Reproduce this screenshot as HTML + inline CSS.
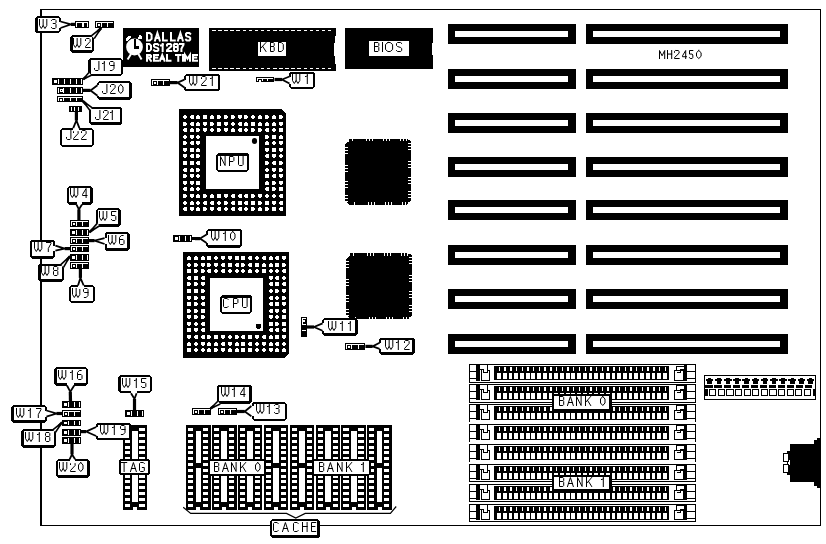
<!DOCTYPE html><html><head><meta charset="utf-8"><style>html,body{margin:0;padding:0;background:#fff;overflow:hidden;font-family:"Liberation Sans",sans-serif}svg{display:block;will-change:transform}</style></head><body><svg width="826" height="544" viewBox="0 0 826 544" shape-rendering="crispEdges">
<rect x="0.00" y="0.00" width="826.00" height="544.00" fill="#fff"/>
<rect x="40.00" y="9.00" width="781.00" height="1.00" fill="#000"/>
<rect x="40.00" y="9.00" width="2.00" height="517.00" fill="#000"/>
<rect x="820.00" y="9.00" width="1.00" height="517.00" fill="#000"/>
<rect x="40.00" y="525.00" width="781.00" height="1.00" fill="#000"/>
<rect x="448.00" y="24.00" width="128.00" height="20.00" fill="#000"/>
<rect x="455.00" y="31.00" width="113.00" height="6.00" fill="#fff"/>
<rect x="586.00" y="24.00" width="202.00" height="20.00" fill="#000"/>
<rect x="593.00" y="31.00" width="187.00" height="6.00" fill="#fff"/>
<rect x="448.00" y="69.00" width="128.00" height="20.00" fill="#000"/>
<rect x="455.00" y="76.00" width="113.00" height="6.00" fill="#fff"/>
<rect x="586.00" y="69.00" width="202.00" height="20.00" fill="#000"/>
<rect x="593.00" y="76.00" width="187.00" height="6.00" fill="#fff"/>
<rect x="448.00" y="113.00" width="128.00" height="20.00" fill="#000"/>
<rect x="455.00" y="120.00" width="113.00" height="6.00" fill="#fff"/>
<rect x="586.00" y="113.00" width="202.00" height="20.00" fill="#000"/>
<rect x="593.00" y="120.00" width="187.00" height="6.00" fill="#fff"/>
<rect x="448.00" y="157.00" width="128.00" height="20.00" fill="#000"/>
<rect x="455.00" y="164.00" width="113.00" height="6.00" fill="#fff"/>
<rect x="586.00" y="157.00" width="202.00" height="20.00" fill="#000"/>
<rect x="593.00" y="164.00" width="187.00" height="6.00" fill="#fff"/>
<rect x="448.00" y="200.00" width="128.00" height="20.00" fill="#000"/>
<rect x="455.00" y="207.00" width="113.00" height="6.00" fill="#fff"/>
<rect x="586.00" y="200.00" width="202.00" height="20.00" fill="#000"/>
<rect x="593.00" y="207.00" width="187.00" height="6.00" fill="#fff"/>
<rect x="448.00" y="245.00" width="128.00" height="20.00" fill="#000"/>
<rect x="455.00" y="252.00" width="113.00" height="6.00" fill="#fff"/>
<rect x="586.00" y="245.00" width="202.00" height="20.00" fill="#000"/>
<rect x="593.00" y="252.00" width="187.00" height="6.00" fill="#fff"/>
<rect x="448.00" y="289.00" width="128.00" height="20.00" fill="#000"/>
<rect x="455.00" y="296.00" width="113.00" height="6.00" fill="#fff"/>
<rect x="586.00" y="289.00" width="202.00" height="20.00" fill="#000"/>
<rect x="593.00" y="296.00" width="187.00" height="6.00" fill="#fff"/>
<rect x="448.00" y="334.00" width="128.00" height="20.00" fill="#000"/>
<rect x="455.00" y="341.00" width="113.00" height="6.00" fill="#fff"/>
<rect x="586.00" y="334.00" width="202.00" height="20.00" fill="#000"/>
<rect x="593.00" y="341.00" width="187.00" height="6.00" fill="#fff"/>
<g fill="none" stroke="#000" stroke-width="1.0" stroke-linejoin="miter" stroke-linecap="square" shape-rendering="auto"><polyline points="659.50,58.50 659.50,50.50 662.10,55.83 664.70,50.50 664.70,58.50"/><polyline points="667.50,50.50 667.50,58.50"/><polyline points="671.70,50.50 671.70,58.50"/><polyline points="667.50,54.06 671.70,54.06"/><polyline points="674.50,52.28 674.50,51.39 675.42,50.50 678.18,50.50 679.10,51.39 679.10,53.17 674.50,57.61 674.50,58.50 679.10,58.50"/><polyline points="685.70,58.50 685.70,50.50 682.50,55.83 682.50,56.72 686.50,56.72"/><polyline points="692.80,50.50 689.50,50.50 689.50,54.06 692.14,54.06 692.80,54.94 692.80,57.61 692.14,58.50 690.16,58.50 689.50,57.61"/><polyline points="698.80,50.50 701.10,52.72 701.10,56.28 698.80,58.50 696.50,56.28 696.50,52.72 698.80,50.50"/></g>
<rect x="123.00" y="28.00" width="76.00" height="38.50" fill="#000"/>
<g fill="none" stroke="#fff" stroke-width="2" stroke-linejoin="miter" stroke-linecap="square" shape-rendering="auto"><polyline points="147.00,33.00 149.76,33.00 151.60,34.67 151.60,38.83 149.76,40.50 147.00,40.50 147.00,33.00"/><polyline points="155.00,40.50 157.40,33.00 159.80,40.50"/><polyline points="155.80,38.00 159.00,38.00"/><polyline points="163.00,33.00 163.00,40.50 166.80,40.50"/><polyline points="171.00,33.00 171.00,40.50 174.80,40.50"/><polyline points="178.00,40.50 180.40,33.00 182.80,40.50"/><polyline points="178.80,38.00 182.00,38.00"/><polyline points="190.20,33.83 189.36,33.00 186.84,33.00 186.00,33.83 186.00,35.50 186.84,36.33 189.36,37.17 190.20,38.00 190.20,39.67 189.36,40.50 186.84,40.50 186.00,39.67"/></g>
<g fill="none" stroke="#fff" stroke-width="2" stroke-linejoin="miter" stroke-linecap="square" shape-rendering="auto"><polyline points="147.00,44.00 149.40,44.00 151.00,45.56 151.00,49.44 149.40,51.00 147.00,51.00 147.00,44.00"/><polyline points="158.30,44.78 157.44,44.00 154.86,44.00 154.00,44.78 154.00,46.33 154.86,47.11 157.44,47.89 158.30,48.67 158.30,50.22 157.44,51.00 154.86,51.00 154.00,50.22"/><polyline points="161.00,45.56 161.83,45.56 162.67,44.78"/><polyline points="162.67,44.00 162.67,51.00"/><polyline points="167.00,45.56 167.00,44.78 167.86,44.00 170.44,44.00 171.30,44.78 171.30,46.33 167.00,50.22 167.00,51.00 171.30,51.00"/><polyline points="174.76,44.00 177.04,44.00 177.80,44.78 177.80,46.33 177.04,47.11 174.76,47.11 174.00,46.33 174.00,44.78 174.76,44.00"/><polyline points="174.76,47.11 174.00,47.89 174.00,50.22 174.76,51.00 177.04,51.00 177.80,50.22 177.80,47.89 177.04,47.11"/><polyline points="180.00,44.00 183.50,44.00 183.50,44.78 181.40,48.67 181.40,51.00"/></g>
<g fill="none" stroke="#fff" stroke-width="2" stroke-linejoin="miter" stroke-linecap="square" shape-rendering="auto"><polyline points="147.00,60.80 147.00,55.00 150.20,55.00 151.00,55.64 151.00,56.93 150.20,57.58 147.00,57.58"/><polyline points="148.60,57.58 151.00,60.80"/><polyline points="158.00,55.00 154.00,55.00 154.00,60.80 158.00,60.80"/><polyline points="154.00,57.58 157.20,57.58"/><polyline points="160.00,60.80 162.25,55.00 164.50,60.80"/><polyline points="160.75,58.87 163.75,58.87"/><polyline points="167.00,55.00 167.00,60.80 170.50,60.80"/><polyline points="176.00,55.00 180.50,55.00"/><polyline points="178.25,55.00 178.25,60.80"/><polyline points="183.00,55.00 183.00,60.80"/><polyline points="185.00,60.80 185.00,55.00 187.50,58.87 190.00,55.00 190.00,60.80"/><polyline points="197.00,55.00 193.00,55.00 193.00,60.80 197.00,60.80"/><polyline points="193.00,57.58 196.20,57.58"/></g>
<circle cx="134.5" cy="47" r="8.4" fill="#fff" shape-rendering="auto"/>
<polygon points="126.00,38.50 129.00,36.00 131.00,36.30 131.00,38.00 127.50,40.70 126.00,40.50" fill="#fff"/>
<polygon points="138.00,37.50 139.50,35.00 141.00,35.20 142.20,38.20 141.50,39.20 138.30,38.60" fill="#fff"/>
<rect x="133.50" y="38.50" width="2.00" height="10.00" fill="#000"/>
<rect x="133.50" y="46.00" width="5.50" height="2.50" fill="#000"/>
<g shape-rendering="auto">
<line x1="131.00" y1="54.00" x2="127.60" y2="59.60" stroke="#fff" stroke-width="2"/>
<line x1="138.40" y1="54.00" x2="141.60" y2="59.60" stroke="#fff" stroke-width="2"/>
</g>
<rect x="209.00" y="28.00" width="127.00" height="42.50" fill="#000"/>
<rect x="212.00" y="30.00" width="3.50" height="1.00" fill="#fff"/>
<rect x="218.10" y="30.00" width="3.50" height="1.00" fill="#fff"/>
<rect x="224.20" y="30.00" width="3.50" height="1.00" fill="#fff"/>
<rect x="230.30" y="30.00" width="3.50" height="1.00" fill="#fff"/>
<rect x="236.40" y="30.00" width="3.50" height="1.00" fill="#fff"/>
<rect x="242.50" y="30.00" width="3.50" height="1.00" fill="#fff"/>
<rect x="248.60" y="30.00" width="3.50" height="1.00" fill="#fff"/>
<rect x="254.70" y="30.00" width="3.50" height="1.00" fill="#fff"/>
<rect x="260.80" y="30.00" width="3.50" height="1.00" fill="#fff"/>
<rect x="266.90" y="30.00" width="3.50" height="1.00" fill="#fff"/>
<rect x="273.00" y="30.00" width="3.50" height="1.00" fill="#fff"/>
<rect x="279.10" y="30.00" width="3.50" height="1.00" fill="#fff"/>
<rect x="285.20" y="30.00" width="3.50" height="1.00" fill="#fff"/>
<rect x="291.30" y="30.00" width="3.50" height="1.00" fill="#fff"/>
<rect x="297.40" y="30.00" width="3.50" height="1.00" fill="#fff"/>
<rect x="303.50" y="30.00" width="3.50" height="1.00" fill="#fff"/>
<rect x="309.60" y="30.00" width="3.50" height="1.00" fill="#fff"/>
<rect x="315.70" y="30.00" width="3.50" height="1.00" fill="#fff"/>
<rect x="321.80" y="30.00" width="3.50" height="1.00" fill="#fff"/>
<rect x="327.90" y="30.00" width="3.50" height="1.00" fill="#fff"/>
<rect x="212.00" y="68.00" width="3.50" height="1.00" fill="#fff"/>
<rect x="218.10" y="68.00" width="3.50" height="1.00" fill="#fff"/>
<rect x="224.20" y="68.00" width="3.50" height="1.00" fill="#fff"/>
<rect x="230.30" y="68.00" width="3.50" height="1.00" fill="#fff"/>
<rect x="236.40" y="68.00" width="3.50" height="1.00" fill="#fff"/>
<rect x="242.50" y="68.00" width="3.50" height="1.00" fill="#fff"/>
<rect x="248.60" y="68.00" width="3.50" height="1.00" fill="#fff"/>
<rect x="254.70" y="68.00" width="3.50" height="1.00" fill="#fff"/>
<rect x="260.80" y="68.00" width="3.50" height="1.00" fill="#fff"/>
<rect x="266.90" y="68.00" width="3.50" height="1.00" fill="#fff"/>
<rect x="273.00" y="68.00" width="3.50" height="1.00" fill="#fff"/>
<rect x="279.10" y="68.00" width="3.50" height="1.00" fill="#fff"/>
<rect x="285.20" y="68.00" width="3.50" height="1.00" fill="#fff"/>
<rect x="291.30" y="68.00" width="3.50" height="1.00" fill="#fff"/>
<rect x="297.40" y="68.00" width="3.50" height="1.00" fill="#fff"/>
<rect x="303.50" y="68.00" width="3.50" height="1.00" fill="#fff"/>
<rect x="309.60" y="68.00" width="3.50" height="1.00" fill="#fff"/>
<rect x="315.70" y="68.00" width="3.50" height="1.00" fill="#fff"/>
<rect x="321.80" y="68.00" width="3.50" height="1.00" fill="#fff"/>
<rect x="327.90" y="68.00" width="3.50" height="1.00" fill="#fff"/>
<rect x="335.00" y="36.00" width="1.00" height="28.20" fill="#fff"/>
<rect x="334.00" y="43.20" width="2.00" height="12.80" fill="#fff"/>
<rect x="258.00" y="42.00" width="28.00" height="14.00" fill="#fff"/>
<g fill="none" stroke="#000" stroke-width="1.0" stroke-linejoin="miter" stroke-linecap="square" shape-rendering="auto"><polyline points="260.50,42.50 260.50,51.50"/><polyline points="266.00,42.50 260.50,48.50"/><polyline points="262.70,46.50 266.00,51.50"/><polyline points="270.50,42.50 273.46,42.50 274.20,43.50 274.20,45.50 273.46,46.50 270.50,46.50"/><polyline points="273.46,46.50 274.20,47.50 274.20,50.50 273.46,51.50 270.50,51.50 270.50,42.50"/><polyline points="278.50,42.50 281.38,42.50 283.30,44.50 283.30,49.50 281.38,51.50 278.50,51.50 278.50,42.50"/></g>
<rect x="345.00" y="28.00" width="88.00" height="40.60" fill="#000"/>
<rect x="432.00" y="43.20" width="1.00" height="11.90" fill="#fff"/>
<rect x="369" y="41" width="40" height="15" rx="1.2" fill="#fff"/>
<g fill="none" stroke="#000" stroke-width="1.0" stroke-linejoin="miter" stroke-linecap="square" shape-rendering="auto"><polyline points="374.50,42.50 377.94,42.50 378.80,43.50 378.80,45.50 377.94,46.50 374.50,46.50"/><polyline points="377.94,46.50 378.80,47.50 378.80,50.50 377.94,51.50 374.50,51.50 374.50,42.50"/><polyline points="382.50,42.50 382.50,51.50"/><polyline points="387.87,42.50 390.23,42.50 392.60,44.50 392.60,49.50 390.23,51.50 387.87,51.50 385.50,49.50 385.50,44.50 387.87,42.50"/><polyline points="401.70,43.50 400.66,42.50 397.54,42.50 396.50,43.50 396.50,45.50 397.54,46.50 400.66,47.50 401.70,48.50 401.70,50.50 400.66,51.50 397.54,51.50 396.50,50.50"/></g>
<polygon points="179.00,109.00 281.80,109.00 286.00,113.20 286.00,216.00 179.00,216.00" fill="#000"/>
<rect x="184.00" y="115.00" width="2.00" height="4.00" fill="#fff"/>
<rect x="183.00" y="116.00" width="4.00" height="2.00" fill="#fff"/>
<rect x="191.00" y="115.00" width="3.00" height="4.00" fill="#fff"/>
<rect x="190.00" y="116.00" width="1.00" height="2.00" fill="#fff"/>
<rect x="196.00" y="116.00" width="4.00" height="3.00" fill="#fff"/>
<rect x="197.00" y="115.00" width="2.00" height="1.00" fill="#fff"/>
<rect x="203.00" y="115.00" width="4.00" height="4.00" fill="#fff"/>
<rect x="210.00" y="116.00" width="4.00" height="3.00" fill="#fff"/>
<rect x="211.00" y="115.00" width="2.00" height="1.00" fill="#fff"/>
<rect x="217.00" y="115.00" width="3.00" height="4.00" fill="#fff"/>
<rect x="220.00" y="116.00" width="1.00" height="2.00" fill="#fff"/>
<rect x="224.00" y="115.00" width="3.00" height="4.00" fill="#fff"/>
<rect x="227.00" y="116.00" width="1.00" height="2.00" fill="#fff"/>
<rect x="231.00" y="115.00" width="3.00" height="4.00" fill="#fff"/>
<rect x="234.00" y="116.00" width="1.00" height="2.00" fill="#fff"/>
<rect x="238.00" y="115.00" width="4.00" height="3.00" fill="#fff"/>
<rect x="239.00" y="118.00" width="2.00" height="1.00" fill="#fff"/>
<rect x="244.00" y="115.00" width="3.00" height="4.00" fill="#fff"/>
<rect x="247.00" y="116.00" width="1.00" height="2.00" fill="#fff"/>
<rect x="252.00" y="115.00" width="2.00" height="4.00" fill="#fff"/>
<rect x="251.00" y="116.00" width="4.00" height="2.00" fill="#fff"/>
<rect x="258.00" y="116.00" width="4.00" height="3.00" fill="#fff"/>
<rect x="259.00" y="115.00" width="2.00" height="1.00" fill="#fff"/>
<rect x="265.00" y="115.00" width="3.00" height="4.00" fill="#fff"/>
<rect x="268.00" y="116.00" width="1.00" height="2.00" fill="#fff"/>
<rect x="272.00" y="116.00" width="4.00" height="3.00" fill="#fff"/>
<rect x="273.00" y="115.00" width="2.00" height="1.00" fill="#fff"/>
<rect x="279.00" y="115.00" width="3.00" height="4.00" fill="#fff"/>
<rect x="282.00" y="116.00" width="1.00" height="2.00" fill="#fff"/>
<rect x="183.00" y="122.00" width="3.00" height="4.00" fill="#fff"/>
<rect x="186.00" y="123.00" width="1.00" height="2.00" fill="#fff"/>
<rect x="191.00" y="122.00" width="3.00" height="4.00" fill="#fff"/>
<rect x="190.00" y="123.00" width="1.00" height="2.00" fill="#fff"/>
<rect x="196.00" y="123.00" width="4.00" height="3.00" fill="#fff"/>
<rect x="197.00" y="122.00" width="2.00" height="1.00" fill="#fff"/>
<rect x="203.00" y="122.00" width="4.00" height="3.00" fill="#fff"/>
<rect x="204.00" y="125.00" width="2.00" height="1.00" fill="#fff"/>
<rect x="210.00" y="122.00" width="3.00" height="4.00" fill="#fff"/>
<rect x="213.00" y="123.00" width="1.00" height="2.00" fill="#fff"/>
<rect x="217.00" y="122.00" width="4.00" height="4.00" fill="#fff"/>
<rect x="224.00" y="122.00" width="4.00" height="3.00" fill="#fff"/>
<rect x="225.00" y="125.00" width="2.00" height="1.00" fill="#fff"/>
<rect x="232.00" y="122.00" width="2.00" height="4.00" fill="#fff"/>
<rect x="231.00" y="123.00" width="4.00" height="2.00" fill="#fff"/>
<rect x="239.00" y="122.00" width="3.00" height="4.00" fill="#fff"/>
<rect x="238.00" y="123.00" width="1.00" height="2.00" fill="#fff"/>
<rect x="244.00" y="123.00" width="4.00" height="3.00" fill="#fff"/>
<rect x="245.00" y="122.00" width="2.00" height="1.00" fill="#fff"/>
<rect x="251.00" y="122.00" width="4.00" height="4.00" fill="#fff"/>
<rect x="258.00" y="123.00" width="4.00" height="3.00" fill="#fff"/>
<rect x="259.00" y="122.00" width="2.00" height="1.00" fill="#fff"/>
<rect x="265.00" y="123.00" width="4.00" height="3.00" fill="#fff"/>
<rect x="266.00" y="122.00" width="2.00" height="1.00" fill="#fff"/>
<rect x="272.00" y="123.00" width="4.00" height="3.00" fill="#fff"/>
<rect x="273.00" y="122.00" width="2.00" height="1.00" fill="#fff"/>
<rect x="279.00" y="122.00" width="4.00" height="3.00" fill="#fff"/>
<rect x="280.00" y="125.00" width="2.00" height="1.00" fill="#fff"/>
<rect x="184.00" y="128.00" width="3.00" height="4.00" fill="#fff"/>
<rect x="183.00" y="129.00" width="1.00" height="2.00" fill="#fff"/>
<rect x="190.00" y="129.00" width="4.00" height="3.00" fill="#fff"/>
<rect x="191.00" y="128.00" width="2.00" height="1.00" fill="#fff"/>
<rect x="196.00" y="128.00" width="3.00" height="4.00" fill="#fff"/>
<rect x="199.00" y="129.00" width="1.00" height="2.00" fill="#fff"/>
<rect x="203.00" y="128.00" width="4.00" height="3.00" fill="#fff"/>
<rect x="204.00" y="131.00" width="2.00" height="1.00" fill="#fff"/>
<rect x="211.00" y="128.00" width="2.00" height="4.00" fill="#fff"/>
<rect x="210.00" y="129.00" width="4.00" height="2.00" fill="#fff"/>
<rect x="217.00" y="128.00" width="3.00" height="4.00" fill="#fff"/>
<rect x="220.00" y="129.00" width="1.00" height="2.00" fill="#fff"/>
<rect x="224.00" y="128.00" width="4.00" height="3.00" fill="#fff"/>
<rect x="225.00" y="131.00" width="2.00" height="1.00" fill="#fff"/>
<rect x="231.00" y="129.00" width="4.00" height="3.00" fill="#fff"/>
<rect x="232.00" y="128.00" width="2.00" height="1.00" fill="#fff"/>
<rect x="239.00" y="128.00" width="3.00" height="4.00" fill="#fff"/>
<rect x="238.00" y="129.00" width="1.00" height="2.00" fill="#fff"/>
<rect x="245.00" y="128.00" width="2.00" height="4.00" fill="#fff"/>
<rect x="244.00" y="129.00" width="4.00" height="2.00" fill="#fff"/>
<rect x="251.00" y="128.00" width="3.00" height="4.00" fill="#fff"/>
<rect x="254.00" y="129.00" width="1.00" height="2.00" fill="#fff"/>
<rect x="258.00" y="128.00" width="3.00" height="4.00" fill="#fff"/>
<rect x="261.00" y="129.00" width="1.00" height="2.00" fill="#fff"/>
<rect x="266.00" y="128.00" width="3.00" height="4.00" fill="#fff"/>
<rect x="265.00" y="129.00" width="1.00" height="2.00" fill="#fff"/>
<rect x="273.00" y="128.00" width="2.00" height="4.00" fill="#fff"/>
<rect x="272.00" y="129.00" width="4.00" height="2.00" fill="#fff"/>
<rect x="279.00" y="128.00" width="4.00" height="4.00" fill="#fff"/>
<rect x="184.00" y="135.00" width="2.00" height="4.00" fill="#fff"/>
<rect x="183.00" y="136.00" width="4.00" height="2.00" fill="#fff"/>
<rect x="190.00" y="135.00" width="4.00" height="3.00" fill="#fff"/>
<rect x="191.00" y="138.00" width="2.00" height="1.00" fill="#fff"/>
<rect x="197.00" y="135.00" width="2.00" height="4.00" fill="#fff"/>
<rect x="196.00" y="136.00" width="4.00" height="2.00" fill="#fff"/>
<rect x="265.00" y="135.00" width="3.00" height="4.00" fill="#fff"/>
<rect x="268.00" y="136.00" width="1.00" height="2.00" fill="#fff"/>
<rect x="272.00" y="135.00" width="4.00" height="4.00" fill="#fff"/>
<rect x="279.00" y="136.00" width="4.00" height="3.00" fill="#fff"/>
<rect x="280.00" y="135.00" width="2.00" height="1.00" fill="#fff"/>
<rect x="183.00" y="141.00" width="3.00" height="4.00" fill="#fff"/>
<rect x="186.00" y="142.00" width="1.00" height="2.00" fill="#fff"/>
<rect x="191.00" y="141.00" width="3.00" height="4.00" fill="#fff"/>
<rect x="190.00" y="142.00" width="1.00" height="2.00" fill="#fff"/>
<rect x="196.00" y="141.00" width="4.00" height="3.00" fill="#fff"/>
<rect x="197.00" y="144.00" width="2.00" height="1.00" fill="#fff"/>
<rect x="265.00" y="142.00" width="4.00" height="3.00" fill="#fff"/>
<rect x="266.00" y="141.00" width="2.00" height="1.00" fill="#fff"/>
<rect x="273.00" y="141.00" width="2.00" height="4.00" fill="#fff"/>
<rect x="272.00" y="142.00" width="4.00" height="2.00" fill="#fff"/>
<rect x="279.00" y="141.00" width="4.00" height="3.00" fill="#fff"/>
<rect x="280.00" y="144.00" width="2.00" height="1.00" fill="#fff"/>
<rect x="183.00" y="148.00" width="4.00" height="3.00" fill="#fff"/>
<rect x="184.00" y="151.00" width="2.00" height="1.00" fill="#fff"/>
<rect x="190.00" y="148.00" width="4.00" height="4.00" fill="#fff"/>
<rect x="196.00" y="149.00" width="4.00" height="3.00" fill="#fff"/>
<rect x="197.00" y="148.00" width="2.00" height="1.00" fill="#fff"/>
<rect x="265.00" y="148.00" width="4.00" height="3.00" fill="#fff"/>
<rect x="266.00" y="151.00" width="2.00" height="1.00" fill="#fff"/>
<rect x="272.00" y="148.00" width="4.00" height="4.00" fill="#fff"/>
<rect x="279.00" y="148.00" width="4.00" height="3.00" fill="#fff"/>
<rect x="280.00" y="151.00" width="2.00" height="1.00" fill="#fff"/>
<rect x="183.00" y="154.00" width="4.00" height="3.00" fill="#fff"/>
<rect x="184.00" y="157.00" width="2.00" height="1.00" fill="#fff"/>
<rect x="191.00" y="154.00" width="3.00" height="4.00" fill="#fff"/>
<rect x="190.00" y="155.00" width="1.00" height="2.00" fill="#fff"/>
<rect x="196.00" y="154.00" width="3.00" height="4.00" fill="#fff"/>
<rect x="199.00" y="155.00" width="1.00" height="2.00" fill="#fff"/>
<rect x="266.00" y="154.00" width="3.00" height="4.00" fill="#fff"/>
<rect x="265.00" y="155.00" width="1.00" height="2.00" fill="#fff"/>
<rect x="272.00" y="154.00" width="4.00" height="3.00" fill="#fff"/>
<rect x="273.00" y="157.00" width="2.00" height="1.00" fill="#fff"/>
<rect x="280.00" y="154.00" width="2.00" height="4.00" fill="#fff"/>
<rect x="279.00" y="155.00" width="4.00" height="2.00" fill="#fff"/>
<rect x="183.00" y="161.00" width="4.00" height="4.00" fill="#fff"/>
<rect x="190.00" y="161.00" width="4.00" height="4.00" fill="#fff"/>
<rect x="197.00" y="161.00" width="3.00" height="4.00" fill="#fff"/>
<rect x="196.00" y="162.00" width="1.00" height="2.00" fill="#fff"/>
<rect x="265.00" y="161.00" width="3.00" height="4.00" fill="#fff"/>
<rect x="268.00" y="162.00" width="1.00" height="2.00" fill="#fff"/>
<rect x="273.00" y="161.00" width="3.00" height="4.00" fill="#fff"/>
<rect x="272.00" y="162.00" width="1.00" height="2.00" fill="#fff"/>
<rect x="279.00" y="161.00" width="3.00" height="4.00" fill="#fff"/>
<rect x="282.00" y="162.00" width="1.00" height="2.00" fill="#fff"/>
<rect x="184.00" y="168.00" width="3.00" height="4.00" fill="#fff"/>
<rect x="183.00" y="169.00" width="1.00" height="2.00" fill="#fff"/>
<rect x="190.00" y="169.00" width="4.00" height="3.00" fill="#fff"/>
<rect x="191.00" y="168.00" width="2.00" height="1.00" fill="#fff"/>
<rect x="196.00" y="168.00" width="3.00" height="4.00" fill="#fff"/>
<rect x="199.00" y="169.00" width="1.00" height="2.00" fill="#fff"/>
<rect x="266.00" y="168.00" width="2.00" height="4.00" fill="#fff"/>
<rect x="265.00" y="169.00" width="4.00" height="2.00" fill="#fff"/>
<rect x="272.00" y="168.00" width="4.00" height="3.00" fill="#fff"/>
<rect x="273.00" y="171.00" width="2.00" height="1.00" fill="#fff"/>
<rect x="279.00" y="168.00" width="3.00" height="4.00" fill="#fff"/>
<rect x="282.00" y="169.00" width="1.00" height="2.00" fill="#fff"/>
<rect x="183.00" y="174.00" width="3.00" height="4.00" fill="#fff"/>
<rect x="186.00" y="175.00" width="1.00" height="2.00" fill="#fff"/>
<rect x="190.00" y="174.00" width="4.00" height="3.00" fill="#fff"/>
<rect x="191.00" y="177.00" width="2.00" height="1.00" fill="#fff"/>
<rect x="197.00" y="174.00" width="2.00" height="4.00" fill="#fff"/>
<rect x="196.00" y="175.00" width="4.00" height="2.00" fill="#fff"/>
<rect x="265.00" y="174.00" width="4.00" height="4.00" fill="#fff"/>
<rect x="273.00" y="174.00" width="3.00" height="4.00" fill="#fff"/>
<rect x="272.00" y="175.00" width="1.00" height="2.00" fill="#fff"/>
<rect x="279.00" y="174.00" width="4.00" height="3.00" fill="#fff"/>
<rect x="280.00" y="177.00" width="2.00" height="1.00" fill="#fff"/>
<rect x="183.00" y="181.00" width="4.00" height="3.00" fill="#fff"/>
<rect x="184.00" y="184.00" width="2.00" height="1.00" fill="#fff"/>
<rect x="190.00" y="181.00" width="4.00" height="3.00" fill="#fff"/>
<rect x="191.00" y="184.00" width="2.00" height="1.00" fill="#fff"/>
<rect x="196.00" y="181.00" width="4.00" height="4.00" fill="#fff"/>
<rect x="265.00" y="182.00" width="4.00" height="3.00" fill="#fff"/>
<rect x="266.00" y="181.00" width="2.00" height="1.00" fill="#fff"/>
<rect x="272.00" y="181.00" width="3.00" height="4.00" fill="#fff"/>
<rect x="275.00" y="182.00" width="1.00" height="2.00" fill="#fff"/>
<rect x="279.00" y="181.00" width="4.00" height="3.00" fill="#fff"/>
<rect x="280.00" y="184.00" width="2.00" height="1.00" fill="#fff"/>
<rect x="184.00" y="187.00" width="3.00" height="4.00" fill="#fff"/>
<rect x="183.00" y="188.00" width="1.00" height="2.00" fill="#fff"/>
<rect x="190.00" y="188.00" width="4.00" height="3.00" fill="#fff"/>
<rect x="191.00" y="187.00" width="2.00" height="1.00" fill="#fff"/>
<rect x="197.00" y="187.00" width="2.00" height="4.00" fill="#fff"/>
<rect x="196.00" y="188.00" width="4.00" height="2.00" fill="#fff"/>
<rect x="266.00" y="187.00" width="3.00" height="4.00" fill="#fff"/>
<rect x="265.00" y="188.00" width="1.00" height="2.00" fill="#fff"/>
<rect x="272.00" y="187.00" width="3.00" height="4.00" fill="#fff"/>
<rect x="275.00" y="188.00" width="1.00" height="2.00" fill="#fff"/>
<rect x="279.00" y="187.00" width="4.00" height="4.00" fill="#fff"/>
<rect x="183.00" y="194.00" width="3.00" height="4.00" fill="#fff"/>
<rect x="186.00" y="195.00" width="1.00" height="2.00" fill="#fff"/>
<rect x="190.00" y="194.00" width="4.00" height="3.00" fill="#fff"/>
<rect x="191.00" y="197.00" width="2.00" height="1.00" fill="#fff"/>
<rect x="196.00" y="195.00" width="4.00" height="3.00" fill="#fff"/>
<rect x="197.00" y="194.00" width="2.00" height="1.00" fill="#fff"/>
<rect x="203.00" y="194.00" width="3.00" height="4.00" fill="#fff"/>
<rect x="206.00" y="195.00" width="1.00" height="2.00" fill="#fff"/>
<rect x="210.00" y="195.00" width="4.00" height="3.00" fill="#fff"/>
<rect x="211.00" y="194.00" width="2.00" height="1.00" fill="#fff"/>
<rect x="217.00" y="194.00" width="4.00" height="4.00" fill="#fff"/>
<rect x="224.00" y="194.00" width="4.00" height="3.00" fill="#fff"/>
<rect x="225.00" y="197.00" width="2.00" height="1.00" fill="#fff"/>
<rect x="232.00" y="194.00" width="3.00" height="4.00" fill="#fff"/>
<rect x="231.00" y="195.00" width="1.00" height="2.00" fill="#fff"/>
<rect x="239.00" y="194.00" width="3.00" height="4.00" fill="#fff"/>
<rect x="238.00" y="195.00" width="1.00" height="2.00" fill="#fff"/>
<rect x="245.00" y="194.00" width="3.00" height="4.00" fill="#fff"/>
<rect x="244.00" y="195.00" width="1.00" height="2.00" fill="#fff"/>
<rect x="251.00" y="194.00" width="3.00" height="4.00" fill="#fff"/>
<rect x="254.00" y="195.00" width="1.00" height="2.00" fill="#fff"/>
<rect x="258.00" y="194.00" width="4.00" height="3.00" fill="#fff"/>
<rect x="259.00" y="197.00" width="2.00" height="1.00" fill="#fff"/>
<rect x="266.00" y="194.00" width="2.00" height="4.00" fill="#fff"/>
<rect x="265.00" y="195.00" width="4.00" height="2.00" fill="#fff"/>
<rect x="273.00" y="194.00" width="2.00" height="4.00" fill="#fff"/>
<rect x="272.00" y="195.00" width="4.00" height="2.00" fill="#fff"/>
<rect x="280.00" y="194.00" width="3.00" height="4.00" fill="#fff"/>
<rect x="279.00" y="195.00" width="1.00" height="2.00" fill="#fff"/>
<rect x="184.00" y="201.00" width="2.00" height="4.00" fill="#fff"/>
<rect x="183.00" y="202.00" width="4.00" height="2.00" fill="#fff"/>
<rect x="190.00" y="202.00" width="4.00" height="3.00" fill="#fff"/>
<rect x="191.00" y="201.00" width="2.00" height="1.00" fill="#fff"/>
<rect x="197.00" y="201.00" width="2.00" height="4.00" fill="#fff"/>
<rect x="196.00" y="202.00" width="4.00" height="2.00" fill="#fff"/>
<rect x="204.00" y="201.00" width="3.00" height="4.00" fill="#fff"/>
<rect x="203.00" y="202.00" width="1.00" height="2.00" fill="#fff"/>
<rect x="211.00" y="201.00" width="3.00" height="4.00" fill="#fff"/>
<rect x="210.00" y="202.00" width="1.00" height="2.00" fill="#fff"/>
<rect x="218.00" y="201.00" width="2.00" height="4.00" fill="#fff"/>
<rect x="217.00" y="202.00" width="4.00" height="2.00" fill="#fff"/>
<rect x="224.00" y="201.00" width="3.00" height="4.00" fill="#fff"/>
<rect x="227.00" y="202.00" width="1.00" height="2.00" fill="#fff"/>
<rect x="232.00" y="201.00" width="3.00" height="4.00" fill="#fff"/>
<rect x="231.00" y="202.00" width="1.00" height="2.00" fill="#fff"/>
<rect x="238.00" y="201.00" width="4.00" height="4.00" fill="#fff"/>
<rect x="245.00" y="201.00" width="3.00" height="4.00" fill="#fff"/>
<rect x="244.00" y="202.00" width="1.00" height="2.00" fill="#fff"/>
<rect x="251.00" y="201.00" width="4.00" height="4.00" fill="#fff"/>
<rect x="258.00" y="201.00" width="3.00" height="4.00" fill="#fff"/>
<rect x="261.00" y="202.00" width="1.00" height="2.00" fill="#fff"/>
<rect x="265.00" y="201.00" width="4.00" height="4.00" fill="#fff"/>
<rect x="272.00" y="201.00" width="4.00" height="3.00" fill="#fff"/>
<rect x="273.00" y="204.00" width="2.00" height="1.00" fill="#fff"/>
<rect x="280.00" y="201.00" width="3.00" height="4.00" fill="#fff"/>
<rect x="279.00" y="202.00" width="1.00" height="2.00" fill="#fff"/>
<rect x="184.00" y="207.00" width="3.00" height="4.00" fill="#fff"/>
<rect x="183.00" y="208.00" width="1.00" height="2.00" fill="#fff"/>
<rect x="190.00" y="207.00" width="4.00" height="3.00" fill="#fff"/>
<rect x="191.00" y="210.00" width="2.00" height="1.00" fill="#fff"/>
<rect x="196.00" y="208.00" width="4.00" height="3.00" fill="#fff"/>
<rect x="197.00" y="207.00" width="2.00" height="1.00" fill="#fff"/>
<rect x="203.00" y="207.00" width="3.00" height="4.00" fill="#fff"/>
<rect x="206.00" y="208.00" width="1.00" height="2.00" fill="#fff"/>
<rect x="210.00" y="207.00" width="4.00" height="3.00" fill="#fff"/>
<rect x="211.00" y="210.00" width="2.00" height="1.00" fill="#fff"/>
<rect x="218.00" y="207.00" width="3.00" height="4.00" fill="#fff"/>
<rect x="217.00" y="208.00" width="1.00" height="2.00" fill="#fff"/>
<rect x="225.00" y="207.00" width="2.00" height="4.00" fill="#fff"/>
<rect x="224.00" y="208.00" width="4.00" height="2.00" fill="#fff"/>
<rect x="232.00" y="207.00" width="3.00" height="4.00" fill="#fff"/>
<rect x="231.00" y="208.00" width="1.00" height="2.00" fill="#fff"/>
<rect x="239.00" y="207.00" width="3.00" height="4.00" fill="#fff"/>
<rect x="238.00" y="208.00" width="1.00" height="2.00" fill="#fff"/>
<rect x="245.00" y="207.00" width="2.00" height="4.00" fill="#fff"/>
<rect x="244.00" y="208.00" width="4.00" height="2.00" fill="#fff"/>
<rect x="251.00" y="207.00" width="3.00" height="4.00" fill="#fff"/>
<rect x="254.00" y="208.00" width="1.00" height="2.00" fill="#fff"/>
<rect x="258.00" y="208.00" width="4.00" height="3.00" fill="#fff"/>
<rect x="259.00" y="207.00" width="2.00" height="1.00" fill="#fff"/>
<rect x="265.00" y="207.00" width="3.00" height="4.00" fill="#fff"/>
<rect x="268.00" y="208.00" width="1.00" height="2.00" fill="#fff"/>
<rect x="272.00" y="207.00" width="4.00" height="4.00" fill="#fff"/>
<rect x="280.00" y="207.00" width="3.00" height="4.00" fill="#fff"/>
<rect x="279.00" y="208.00" width="1.00" height="2.00" fill="#fff"/>
<rect x="206.00" y="136.00" width="53.00" height="53.00" fill="#fff"/>
<ellipse cx="254.5" cy="140.9" rx="2.6" ry="3" fill="#000" shape-rendering="auto"/>
<polygon points="183.00,252.00 289.00,252.00 289.00,353.00 284.50,357.50 183.00,357.50" fill="#000"/>
<rect x="187.00" y="257.00" width="4.00" height="3.00" fill="#fff"/>
<rect x="188.00" y="256.00" width="2.00" height="1.00" fill="#fff"/>
<rect x="194.00" y="257.00" width="4.00" height="3.00" fill="#fff"/>
<rect x="195.00" y="256.00" width="2.00" height="1.00" fill="#fff"/>
<rect x="201.00" y="257.00" width="4.00" height="3.00" fill="#fff"/>
<rect x="202.00" y="256.00" width="2.00" height="1.00" fill="#fff"/>
<rect x="207.00" y="256.00" width="4.00" height="4.00" fill="#fff"/>
<rect x="215.00" y="256.00" width="2.00" height="4.00" fill="#fff"/>
<rect x="214.00" y="257.00" width="4.00" height="2.00" fill="#fff"/>
<rect x="221.00" y="256.00" width="4.00" height="3.00" fill="#fff"/>
<rect x="222.00" y="259.00" width="2.00" height="1.00" fill="#fff"/>
<rect x="228.00" y="256.00" width="4.00" height="3.00" fill="#fff"/>
<rect x="229.00" y="259.00" width="2.00" height="1.00" fill="#fff"/>
<rect x="235.00" y="256.00" width="4.00" height="4.00" fill="#fff"/>
<rect x="241.00" y="256.00" width="4.00" height="4.00" fill="#fff"/>
<rect x="249.00" y="256.00" width="3.00" height="4.00" fill="#fff"/>
<rect x="248.00" y="257.00" width="1.00" height="2.00" fill="#fff"/>
<rect x="256.00" y="256.00" width="2.00" height="4.00" fill="#fff"/>
<rect x="255.00" y="257.00" width="4.00" height="2.00" fill="#fff"/>
<rect x="263.00" y="256.00" width="3.00" height="4.00" fill="#fff"/>
<rect x="262.00" y="257.00" width="1.00" height="2.00" fill="#fff"/>
<rect x="269.00" y="257.00" width="4.00" height="3.00" fill="#fff"/>
<rect x="270.00" y="256.00" width="2.00" height="1.00" fill="#fff"/>
<rect x="276.00" y="256.00" width="3.00" height="4.00" fill="#fff"/>
<rect x="275.00" y="257.00" width="1.00" height="2.00" fill="#fff"/>
<rect x="282.00" y="256.00" width="4.00" height="3.00" fill="#fff"/>
<rect x="283.00" y="259.00" width="2.00" height="1.00" fill="#fff"/>
<rect x="188.00" y="263.00" width="2.00" height="4.00" fill="#fff"/>
<rect x="187.00" y="264.00" width="4.00" height="2.00" fill="#fff"/>
<rect x="194.00" y="263.00" width="3.00" height="4.00" fill="#fff"/>
<rect x="197.00" y="264.00" width="1.00" height="2.00" fill="#fff"/>
<rect x="201.00" y="263.00" width="4.00" height="3.00" fill="#fff"/>
<rect x="202.00" y="266.00" width="2.00" height="1.00" fill="#fff"/>
<rect x="207.00" y="263.00" width="3.00" height="4.00" fill="#fff"/>
<rect x="210.00" y="264.00" width="1.00" height="2.00" fill="#fff"/>
<rect x="214.00" y="263.00" width="4.00" height="3.00" fill="#fff"/>
<rect x="215.00" y="266.00" width="2.00" height="1.00" fill="#fff"/>
<rect x="222.00" y="263.00" width="3.00" height="4.00" fill="#fff"/>
<rect x="221.00" y="264.00" width="1.00" height="2.00" fill="#fff"/>
<rect x="228.00" y="263.00" width="4.00" height="4.00" fill="#fff"/>
<rect x="236.00" y="263.00" width="3.00" height="4.00" fill="#fff"/>
<rect x="235.00" y="264.00" width="1.00" height="2.00" fill="#fff"/>
<rect x="241.00" y="263.00" width="3.00" height="4.00" fill="#fff"/>
<rect x="244.00" y="264.00" width="1.00" height="2.00" fill="#fff"/>
<rect x="249.00" y="263.00" width="3.00" height="4.00" fill="#fff"/>
<rect x="248.00" y="264.00" width="1.00" height="2.00" fill="#fff"/>
<rect x="255.00" y="263.00" width="4.00" height="4.00" fill="#fff"/>
<rect x="262.00" y="264.00" width="4.00" height="3.00" fill="#fff"/>
<rect x="263.00" y="263.00" width="2.00" height="1.00" fill="#fff"/>
<rect x="269.00" y="264.00" width="4.00" height="3.00" fill="#fff"/>
<rect x="270.00" y="263.00" width="2.00" height="1.00" fill="#fff"/>
<rect x="275.00" y="263.00" width="4.00" height="4.00" fill="#fff"/>
<rect x="282.00" y="263.00" width="3.00" height="4.00" fill="#fff"/>
<rect x="285.00" y="264.00" width="1.00" height="2.00" fill="#fff"/>
<rect x="187.00" y="269.00" width="4.00" height="4.00" fill="#fff"/>
<rect x="194.00" y="269.00" width="3.00" height="4.00" fill="#fff"/>
<rect x="197.00" y="270.00" width="1.00" height="2.00" fill="#fff"/>
<rect x="201.00" y="269.00" width="3.00" height="4.00" fill="#fff"/>
<rect x="204.00" y="270.00" width="1.00" height="2.00" fill="#fff"/>
<rect x="208.00" y="269.00" width="3.00" height="4.00" fill="#fff"/>
<rect x="207.00" y="270.00" width="1.00" height="2.00" fill="#fff"/>
<rect x="215.00" y="269.00" width="2.00" height="4.00" fill="#fff"/>
<rect x="214.00" y="270.00" width="4.00" height="2.00" fill="#fff"/>
<rect x="222.00" y="269.00" width="3.00" height="4.00" fill="#fff"/>
<rect x="221.00" y="270.00" width="1.00" height="2.00" fill="#fff"/>
<rect x="229.00" y="269.00" width="2.00" height="4.00" fill="#fff"/>
<rect x="228.00" y="270.00" width="4.00" height="2.00" fill="#fff"/>
<rect x="236.00" y="269.00" width="2.00" height="4.00" fill="#fff"/>
<rect x="235.00" y="270.00" width="4.00" height="2.00" fill="#fff"/>
<rect x="242.00" y="269.00" width="2.00" height="4.00" fill="#fff"/>
<rect x="241.00" y="270.00" width="4.00" height="2.00" fill="#fff"/>
<rect x="248.00" y="270.00" width="4.00" height="3.00" fill="#fff"/>
<rect x="249.00" y="269.00" width="2.00" height="1.00" fill="#fff"/>
<rect x="256.00" y="269.00" width="2.00" height="4.00" fill="#fff"/>
<rect x="255.00" y="270.00" width="4.00" height="2.00" fill="#fff"/>
<rect x="262.00" y="269.00" width="4.00" height="4.00" fill="#fff"/>
<rect x="270.00" y="269.00" width="2.00" height="4.00" fill="#fff"/>
<rect x="269.00" y="270.00" width="4.00" height="2.00" fill="#fff"/>
<rect x="276.00" y="269.00" width="2.00" height="4.00" fill="#fff"/>
<rect x="275.00" y="270.00" width="4.00" height="2.00" fill="#fff"/>
<rect x="283.00" y="269.00" width="3.00" height="4.00" fill="#fff"/>
<rect x="282.00" y="270.00" width="1.00" height="2.00" fill="#fff"/>
<rect x="188.00" y="276.00" width="3.00" height="4.00" fill="#fff"/>
<rect x="187.00" y="277.00" width="1.00" height="2.00" fill="#fff"/>
<rect x="194.00" y="276.00" width="4.00" height="4.00" fill="#fff"/>
<rect x="202.00" y="276.00" width="3.00" height="4.00" fill="#fff"/>
<rect x="201.00" y="277.00" width="1.00" height="2.00" fill="#fff"/>
<rect x="269.00" y="276.00" width="4.00" height="3.00" fill="#fff"/>
<rect x="270.00" y="279.00" width="2.00" height="1.00" fill="#fff"/>
<rect x="276.00" y="276.00" width="3.00" height="4.00" fill="#fff"/>
<rect x="275.00" y="277.00" width="1.00" height="2.00" fill="#fff"/>
<rect x="283.00" y="276.00" width="2.00" height="4.00" fill="#fff"/>
<rect x="282.00" y="277.00" width="4.00" height="2.00" fill="#fff"/>
<rect x="187.00" y="282.00" width="3.00" height="4.00" fill="#fff"/>
<rect x="190.00" y="283.00" width="1.00" height="2.00" fill="#fff"/>
<rect x="194.00" y="282.00" width="3.00" height="4.00" fill="#fff"/>
<rect x="197.00" y="283.00" width="1.00" height="2.00" fill="#fff"/>
<rect x="201.00" y="282.00" width="4.00" height="3.00" fill="#fff"/>
<rect x="202.00" y="285.00" width="2.00" height="1.00" fill="#fff"/>
<rect x="270.00" y="282.00" width="3.00" height="4.00" fill="#fff"/>
<rect x="269.00" y="283.00" width="1.00" height="2.00" fill="#fff"/>
<rect x="275.00" y="282.00" width="4.00" height="4.00" fill="#fff"/>
<rect x="283.00" y="282.00" width="3.00" height="4.00" fill="#fff"/>
<rect x="282.00" y="283.00" width="1.00" height="2.00" fill="#fff"/>
<rect x="187.00" y="289.00" width="4.00" height="4.00" fill="#fff"/>
<rect x="194.00" y="289.00" width="4.00" height="4.00" fill="#fff"/>
<rect x="201.00" y="289.00" width="3.00" height="4.00" fill="#fff"/>
<rect x="204.00" y="290.00" width="1.00" height="2.00" fill="#fff"/>
<rect x="270.00" y="289.00" width="2.00" height="4.00" fill="#fff"/>
<rect x="269.00" y="290.00" width="4.00" height="2.00" fill="#fff"/>
<rect x="275.00" y="289.00" width="3.00" height="4.00" fill="#fff"/>
<rect x="278.00" y="290.00" width="1.00" height="2.00" fill="#fff"/>
<rect x="282.00" y="289.00" width="4.00" height="3.00" fill="#fff"/>
<rect x="283.00" y="292.00" width="2.00" height="1.00" fill="#fff"/>
<rect x="187.00" y="296.00" width="4.00" height="3.00" fill="#fff"/>
<rect x="188.00" y="299.00" width="2.00" height="1.00" fill="#fff"/>
<rect x="194.00" y="296.00" width="3.00" height="4.00" fill="#fff"/>
<rect x="197.00" y="297.00" width="1.00" height="2.00" fill="#fff"/>
<rect x="201.00" y="296.00" width="4.00" height="3.00" fill="#fff"/>
<rect x="202.00" y="299.00" width="2.00" height="1.00" fill="#fff"/>
<rect x="270.00" y="296.00" width="3.00" height="4.00" fill="#fff"/>
<rect x="269.00" y="297.00" width="1.00" height="2.00" fill="#fff"/>
<rect x="276.00" y="296.00" width="2.00" height="4.00" fill="#fff"/>
<rect x="275.00" y="297.00" width="4.00" height="2.00" fill="#fff"/>
<rect x="282.00" y="296.00" width="3.00" height="4.00" fill="#fff"/>
<rect x="285.00" y="297.00" width="1.00" height="2.00" fill="#fff"/>
<rect x="187.00" y="302.00" width="4.00" height="4.00" fill="#fff"/>
<rect x="194.00" y="302.00" width="3.00" height="4.00" fill="#fff"/>
<rect x="197.00" y="303.00" width="1.00" height="2.00" fill="#fff"/>
<rect x="202.00" y="302.00" width="3.00" height="4.00" fill="#fff"/>
<rect x="201.00" y="303.00" width="1.00" height="2.00" fill="#fff"/>
<rect x="270.00" y="302.00" width="3.00" height="4.00" fill="#fff"/>
<rect x="269.00" y="303.00" width="1.00" height="2.00" fill="#fff"/>
<rect x="275.00" y="302.00" width="4.00" height="4.00" fill="#fff"/>
<rect x="282.00" y="302.00" width="4.00" height="3.00" fill="#fff"/>
<rect x="283.00" y="305.00" width="2.00" height="1.00" fill="#fff"/>
<rect x="187.00" y="309.00" width="3.00" height="4.00" fill="#fff"/>
<rect x="190.00" y="310.00" width="1.00" height="2.00" fill="#fff"/>
<rect x="194.00" y="309.00" width="3.00" height="4.00" fill="#fff"/>
<rect x="197.00" y="310.00" width="1.00" height="2.00" fill="#fff"/>
<rect x="201.00" y="309.00" width="4.00" height="4.00" fill="#fff"/>
<rect x="270.00" y="309.00" width="3.00" height="4.00" fill="#fff"/>
<rect x="269.00" y="310.00" width="1.00" height="2.00" fill="#fff"/>
<rect x="275.00" y="309.00" width="4.00" height="3.00" fill="#fff"/>
<rect x="276.00" y="312.00" width="2.00" height="1.00" fill="#fff"/>
<rect x="283.00" y="309.00" width="3.00" height="4.00" fill="#fff"/>
<rect x="282.00" y="310.00" width="1.00" height="2.00" fill="#fff"/>
<rect x="187.00" y="315.00" width="4.00" height="3.00" fill="#fff"/>
<rect x="188.00" y="318.00" width="2.00" height="1.00" fill="#fff"/>
<rect x="194.00" y="315.00" width="3.00" height="4.00" fill="#fff"/>
<rect x="197.00" y="316.00" width="1.00" height="2.00" fill="#fff"/>
<rect x="201.00" y="315.00" width="3.00" height="4.00" fill="#fff"/>
<rect x="204.00" y="316.00" width="1.00" height="2.00" fill="#fff"/>
<rect x="269.00" y="315.00" width="4.00" height="3.00" fill="#fff"/>
<rect x="270.00" y="318.00" width="2.00" height="1.00" fill="#fff"/>
<rect x="276.00" y="315.00" width="2.00" height="4.00" fill="#fff"/>
<rect x="275.00" y="316.00" width="4.00" height="2.00" fill="#fff"/>
<rect x="282.00" y="315.00" width="4.00" height="4.00" fill="#fff"/>
<rect x="187.00" y="322.00" width="4.00" height="3.00" fill="#fff"/>
<rect x="188.00" y="325.00" width="2.00" height="1.00" fill="#fff"/>
<rect x="195.00" y="322.00" width="2.00" height="4.00" fill="#fff"/>
<rect x="194.00" y="323.00" width="4.00" height="2.00" fill="#fff"/>
<rect x="202.00" y="322.00" width="3.00" height="4.00" fill="#fff"/>
<rect x="201.00" y="323.00" width="1.00" height="2.00" fill="#fff"/>
<rect x="269.00" y="322.00" width="4.00" height="4.00" fill="#fff"/>
<rect x="275.00" y="322.00" width="3.00" height="4.00" fill="#fff"/>
<rect x="278.00" y="323.00" width="1.00" height="2.00" fill="#fff"/>
<rect x="282.00" y="322.00" width="4.00" height="4.00" fill="#fff"/>
<rect x="187.00" y="328.00" width="4.00" height="4.00" fill="#fff"/>
<rect x="194.00" y="328.00" width="4.00" height="3.00" fill="#fff"/>
<rect x="195.00" y="331.00" width="2.00" height="1.00" fill="#fff"/>
<rect x="202.00" y="328.00" width="3.00" height="4.00" fill="#fff"/>
<rect x="201.00" y="329.00" width="1.00" height="2.00" fill="#fff"/>
<rect x="270.00" y="328.00" width="3.00" height="4.00" fill="#fff"/>
<rect x="269.00" y="329.00" width="1.00" height="2.00" fill="#fff"/>
<rect x="276.00" y="328.00" width="3.00" height="4.00" fill="#fff"/>
<rect x="275.00" y="329.00" width="1.00" height="2.00" fill="#fff"/>
<rect x="283.00" y="328.00" width="3.00" height="4.00" fill="#fff"/>
<rect x="282.00" y="329.00" width="1.00" height="2.00" fill="#fff"/>
<rect x="187.00" y="335.00" width="4.00" height="3.00" fill="#fff"/>
<rect x="188.00" y="338.00" width="2.00" height="1.00" fill="#fff"/>
<rect x="195.00" y="335.00" width="3.00" height="4.00" fill="#fff"/>
<rect x="194.00" y="336.00" width="1.00" height="2.00" fill="#fff"/>
<rect x="202.00" y="335.00" width="3.00" height="4.00" fill="#fff"/>
<rect x="201.00" y="336.00" width="1.00" height="2.00" fill="#fff"/>
<rect x="207.00" y="335.00" width="3.00" height="4.00" fill="#fff"/>
<rect x="210.00" y="336.00" width="1.00" height="2.00" fill="#fff"/>
<rect x="214.00" y="335.00" width="4.00" height="4.00" fill="#fff"/>
<rect x="221.00" y="335.00" width="4.00" height="3.00" fill="#fff"/>
<rect x="222.00" y="338.00" width="2.00" height="1.00" fill="#fff"/>
<rect x="229.00" y="335.00" width="2.00" height="4.00" fill="#fff"/>
<rect x="228.00" y="336.00" width="4.00" height="2.00" fill="#fff"/>
<rect x="235.00" y="335.00" width="3.00" height="4.00" fill="#fff"/>
<rect x="238.00" y="336.00" width="1.00" height="2.00" fill="#fff"/>
<rect x="242.00" y="335.00" width="3.00" height="4.00" fill="#fff"/>
<rect x="241.00" y="336.00" width="1.00" height="2.00" fill="#fff"/>
<rect x="248.00" y="335.00" width="4.00" height="4.00" fill="#fff"/>
<rect x="255.00" y="335.00" width="4.00" height="3.00" fill="#fff"/>
<rect x="256.00" y="338.00" width="2.00" height="1.00" fill="#fff"/>
<rect x="263.00" y="335.00" width="3.00" height="4.00" fill="#fff"/>
<rect x="262.00" y="336.00" width="1.00" height="2.00" fill="#fff"/>
<rect x="269.00" y="336.00" width="4.00" height="3.00" fill="#fff"/>
<rect x="270.00" y="335.00" width="2.00" height="1.00" fill="#fff"/>
<rect x="275.00" y="335.00" width="4.00" height="4.00" fill="#fff"/>
<rect x="282.00" y="335.00" width="4.00" height="3.00" fill="#fff"/>
<rect x="283.00" y="338.00" width="2.00" height="1.00" fill="#fff"/>
<rect x="187.00" y="343.00" width="4.00" height="3.00" fill="#fff"/>
<rect x="188.00" y="342.00" width="2.00" height="1.00" fill="#fff"/>
<rect x="195.00" y="342.00" width="2.00" height="4.00" fill="#fff"/>
<rect x="194.00" y="343.00" width="4.00" height="2.00" fill="#fff"/>
<rect x="201.00" y="342.00" width="4.00" height="3.00" fill="#fff"/>
<rect x="202.00" y="345.00" width="2.00" height="1.00" fill="#fff"/>
<rect x="207.00" y="343.00" width="4.00" height="3.00" fill="#fff"/>
<rect x="208.00" y="342.00" width="2.00" height="1.00" fill="#fff"/>
<rect x="214.00" y="343.00" width="4.00" height="3.00" fill="#fff"/>
<rect x="215.00" y="342.00" width="2.00" height="1.00" fill="#fff"/>
<rect x="222.00" y="342.00" width="3.00" height="4.00" fill="#fff"/>
<rect x="221.00" y="343.00" width="1.00" height="2.00" fill="#fff"/>
<rect x="228.00" y="342.00" width="4.00" height="3.00" fill="#fff"/>
<rect x="229.00" y="345.00" width="2.00" height="1.00" fill="#fff"/>
<rect x="235.00" y="343.00" width="4.00" height="3.00" fill="#fff"/>
<rect x="236.00" y="342.00" width="2.00" height="1.00" fill="#fff"/>
<rect x="241.00" y="342.00" width="4.00" height="4.00" fill="#fff"/>
<rect x="249.00" y="342.00" width="3.00" height="4.00" fill="#fff"/>
<rect x="248.00" y="343.00" width="1.00" height="2.00" fill="#fff"/>
<rect x="256.00" y="342.00" width="2.00" height="4.00" fill="#fff"/>
<rect x="255.00" y="343.00" width="4.00" height="2.00" fill="#fff"/>
<rect x="262.00" y="342.00" width="4.00" height="3.00" fill="#fff"/>
<rect x="263.00" y="345.00" width="2.00" height="1.00" fill="#fff"/>
<rect x="269.00" y="343.00" width="4.00" height="3.00" fill="#fff"/>
<rect x="270.00" y="342.00" width="2.00" height="1.00" fill="#fff"/>
<rect x="276.00" y="342.00" width="3.00" height="4.00" fill="#fff"/>
<rect x="275.00" y="343.00" width="1.00" height="2.00" fill="#fff"/>
<rect x="283.00" y="342.00" width="2.00" height="4.00" fill="#fff"/>
<rect x="282.00" y="343.00" width="4.00" height="2.00" fill="#fff"/>
<rect x="187.00" y="348.00" width="4.00" height="4.00" fill="#fff"/>
<rect x="195.00" y="348.00" width="2.00" height="4.00" fill="#fff"/>
<rect x="194.00" y="349.00" width="4.00" height="2.00" fill="#fff"/>
<rect x="202.00" y="348.00" width="2.00" height="4.00" fill="#fff"/>
<rect x="201.00" y="349.00" width="4.00" height="2.00" fill="#fff"/>
<rect x="207.00" y="349.00" width="4.00" height="3.00" fill="#fff"/>
<rect x="208.00" y="348.00" width="2.00" height="1.00" fill="#fff"/>
<rect x="214.00" y="348.00" width="3.00" height="4.00" fill="#fff"/>
<rect x="217.00" y="349.00" width="1.00" height="2.00" fill="#fff"/>
<rect x="221.00" y="348.00" width="4.00" height="3.00" fill="#fff"/>
<rect x="222.00" y="351.00" width="2.00" height="1.00" fill="#fff"/>
<rect x="228.00" y="349.00" width="4.00" height="3.00" fill="#fff"/>
<rect x="229.00" y="348.00" width="2.00" height="1.00" fill="#fff"/>
<rect x="235.00" y="349.00" width="4.00" height="3.00" fill="#fff"/>
<rect x="236.00" y="348.00" width="2.00" height="1.00" fill="#fff"/>
<rect x="241.00" y="348.00" width="4.00" height="4.00" fill="#fff"/>
<rect x="248.00" y="348.00" width="4.00" height="4.00" fill="#fff"/>
<rect x="256.00" y="348.00" width="2.00" height="4.00" fill="#fff"/>
<rect x="255.00" y="349.00" width="4.00" height="2.00" fill="#fff"/>
<rect x="263.00" y="348.00" width="2.00" height="4.00" fill="#fff"/>
<rect x="262.00" y="349.00" width="4.00" height="2.00" fill="#fff"/>
<rect x="269.00" y="348.00" width="4.00" height="3.00" fill="#fff"/>
<rect x="270.00" y="351.00" width="2.00" height="1.00" fill="#fff"/>
<rect x="275.00" y="349.00" width="4.00" height="3.00" fill="#fff"/>
<rect x="276.00" y="348.00" width="2.00" height="1.00" fill="#fff"/>
<rect x="282.00" y="349.00" width="4.00" height="3.00" fill="#fff"/>
<rect x="283.00" y="348.00" width="2.00" height="1.00" fill="#fff"/>
<rect x="209.60" y="278.20" width="53.40" height="52.80" fill="#fff"/>
<polygon points="255.70,324.00 261.10,324.00 261.10,327.00 259.50,328.80 257.30,328.80 255.70,327.00" fill="#000"/>
<polygon points="218.10,153.00 247.00,153.00 249.00,155.00 249.00,169.80 247.00,171.80 218.10,171.80 216.10,169.80 216.10,155.00" fill="#000"/>
<rect x="218.10" y="155.50" width="28.40" height="14.10" fill="#fff"/>
<g fill="none" stroke="#000" stroke-width="1.0" stroke-linejoin="miter" stroke-linecap="square" shape-rendering="auto"><polyline points="220.50,165.50 220.50,156.50 225.10,165.50 225.10,156.50"/><polyline points="229.50,165.50 229.50,156.50 233.02,156.50 233.90,157.50 233.90,160.50 233.02,161.50 229.50,161.50"/><polyline points="238.50,156.50 238.50,164.50 239.42,165.50 242.18,165.50 243.10,164.50 243.10,156.50"/></g>
<polygon points="222.10,295.00 250.00,295.00 252.00,297.00 252.00,311.90 250.00,313.90 222.10,313.90 220.10,311.90 220.10,297.00" fill="#000"/>
<rect x="222.10" y="297.70" width="28.30" height="14.10" fill="#fff"/>
<g fill="none" stroke="#000" stroke-width="1.0" stroke-linejoin="miter" stroke-linecap="square" shape-rendering="auto"><polyline points="228.10,299.50 227.18,298.50 224.42,298.50 223.50,299.50 223.50,306.50 224.42,307.50 227.18,307.50 228.10,306.50"/><polyline points="233.50,307.50 233.50,298.50 237.02,298.50 237.90,299.50 237.90,302.50 237.02,303.50 233.50,303.50"/><polyline points="242.50,298.50 242.50,306.50 243.42,307.50 246.18,307.50 247.10,306.50 247.10,298.50"/></g>
<polygon points="349.00,138.80 407.00,138.80 407.00,139.30 411.00,140.80 411.00,200.80 407.00,204.80 349.00,204.80 345.00,200.80 345.00,144.80 348.00,141.80 349.00,141.80" fill="#000"/>
<rect x="351.50" y="138.80" width="1.00" height="2.50" fill="#fff"/>
<rect x="353.50" y="202.30" width="1.00" height="2.50" fill="#fff"/>
<rect x="365.50" y="138.80" width="1.00" height="2.50" fill="#fff"/>
<rect x="367.50" y="202.30" width="1.00" height="2.50" fill="#fff"/>
<rect x="368.50" y="138.80" width="1.00" height="2.50" fill="#fff"/>
<rect x="370.50" y="202.30" width="1.00" height="2.50" fill="#fff"/>
<rect x="371.50" y="138.80" width="1.00" height="2.50" fill="#fff"/>
<rect x="373.50" y="202.30" width="1.00" height="2.50" fill="#fff"/>
<rect x="382.50" y="138.80" width="1.00" height="2.50" fill="#fff"/>
<rect x="384.50" y="202.30" width="1.00" height="2.50" fill="#fff"/>
<rect x="385.50" y="138.80" width="1.00" height="2.50" fill="#fff"/>
<rect x="387.50" y="202.30" width="1.00" height="2.50" fill="#fff"/>
<rect x="388.50" y="138.80" width="1.00" height="2.50" fill="#fff"/>
<rect x="390.50" y="202.30" width="1.00" height="2.50" fill="#fff"/>
<rect x="399.50" y="138.80" width="1.00" height="2.50" fill="#fff"/>
<rect x="401.50" y="202.30" width="1.00" height="2.50" fill="#fff"/>
<rect x="402.50" y="138.80" width="1.00" height="2.50" fill="#fff"/>
<rect x="404.50" y="202.30" width="1.00" height="2.50" fill="#fff"/>
<rect x="405.50" y="138.80" width="1.00" height="2.50" fill="#fff"/>
<rect x="407.50" y="202.30" width="1.00" height="2.50" fill="#fff"/>
<rect x="345.00" y="146.80" width="2.80" height="1.00" fill="#fff"/>
<rect x="408.20" y="142.80" width="2.80" height="1.00" fill="#fff"/>
<rect x="345.00" y="149.80" width="2.80" height="1.00" fill="#fff"/>
<rect x="408.20" y="145.80" width="2.80" height="1.00" fill="#fff"/>
<rect x="345.00" y="152.80" width="2.80" height="1.00" fill="#fff"/>
<rect x="408.20" y="148.80" width="2.80" height="1.00" fill="#fff"/>
<rect x="345.00" y="164.80" width="2.80" height="1.00" fill="#fff"/>
<rect x="408.20" y="160.80" width="2.80" height="1.00" fill="#fff"/>
<rect x="345.00" y="167.80" width="2.80" height="1.00" fill="#fff"/>
<rect x="408.20" y="163.80" width="2.80" height="1.00" fill="#fff"/>
<rect x="345.00" y="170.80" width="2.80" height="1.00" fill="#fff"/>
<rect x="408.20" y="166.80" width="2.80" height="1.00" fill="#fff"/>
<rect x="345.00" y="180.80" width="2.80" height="1.00" fill="#fff"/>
<rect x="408.20" y="176.80" width="2.80" height="1.00" fill="#fff"/>
<rect x="345.00" y="183.80" width="2.80" height="1.00" fill="#fff"/>
<rect x="408.20" y="179.80" width="2.80" height="1.00" fill="#fff"/>
<rect x="345.00" y="186.80" width="2.80" height="1.00" fill="#fff"/>
<rect x="408.20" y="182.80" width="2.80" height="1.00" fill="#fff"/>
<rect x="345.00" y="194.80" width="2.80" height="1.00" fill="#fff"/>
<rect x="408.20" y="190.80" width="2.80" height="1.00" fill="#fff"/>
<rect x="345.00" y="197.80" width="2.80" height="1.00" fill="#fff"/>
<rect x="408.20" y="193.80" width="2.80" height="1.00" fill="#fff"/>
<rect x="345.00" y="200.80" width="2.80" height="1.00" fill="#fff"/>
<rect x="408.20" y="196.80" width="2.80" height="1.00" fill="#fff"/>
<polygon points="350.00,253.00 408.00,253.00 408.00,253.50 412.00,255.00 412.00,315.00 408.00,319.00 350.00,319.00 346.00,315.00 346.00,259.00 349.00,256.00 350.00,256.00" fill="#000"/>
<rect x="352.50" y="253.00" width="1.00" height="2.50" fill="#fff"/>
<rect x="354.50" y="316.50" width="1.00" height="2.50" fill="#fff"/>
<rect x="366.50" y="253.00" width="1.00" height="2.50" fill="#fff"/>
<rect x="368.50" y="316.50" width="1.00" height="2.50" fill="#fff"/>
<rect x="369.50" y="253.00" width="1.00" height="2.50" fill="#fff"/>
<rect x="371.50" y="316.50" width="1.00" height="2.50" fill="#fff"/>
<rect x="372.50" y="253.00" width="1.00" height="2.50" fill="#fff"/>
<rect x="374.50" y="316.50" width="1.00" height="2.50" fill="#fff"/>
<rect x="383.50" y="253.00" width="1.00" height="2.50" fill="#fff"/>
<rect x="385.50" y="316.50" width="1.00" height="2.50" fill="#fff"/>
<rect x="386.50" y="253.00" width="1.00" height="2.50" fill="#fff"/>
<rect x="388.50" y="316.50" width="1.00" height="2.50" fill="#fff"/>
<rect x="389.50" y="253.00" width="1.00" height="2.50" fill="#fff"/>
<rect x="391.50" y="316.50" width="1.00" height="2.50" fill="#fff"/>
<rect x="400.50" y="253.00" width="1.00" height="2.50" fill="#fff"/>
<rect x="402.50" y="316.50" width="1.00" height="2.50" fill="#fff"/>
<rect x="403.50" y="253.00" width="1.00" height="2.50" fill="#fff"/>
<rect x="405.50" y="316.50" width="1.00" height="2.50" fill="#fff"/>
<rect x="406.50" y="253.00" width="1.00" height="2.50" fill="#fff"/>
<rect x="408.50" y="316.50" width="1.00" height="2.50" fill="#fff"/>
<rect x="346.00" y="261.00" width="2.80" height="1.00" fill="#fff"/>
<rect x="409.20" y="257.00" width="2.80" height="1.00" fill="#fff"/>
<rect x="346.00" y="264.00" width="2.80" height="1.00" fill="#fff"/>
<rect x="409.20" y="260.00" width="2.80" height="1.00" fill="#fff"/>
<rect x="346.00" y="267.00" width="2.80" height="1.00" fill="#fff"/>
<rect x="409.20" y="263.00" width="2.80" height="1.00" fill="#fff"/>
<rect x="346.00" y="279.00" width="2.80" height="1.00" fill="#fff"/>
<rect x="409.20" y="275.00" width="2.80" height="1.00" fill="#fff"/>
<rect x="346.00" y="282.00" width="2.80" height="1.00" fill="#fff"/>
<rect x="409.20" y="278.00" width="2.80" height="1.00" fill="#fff"/>
<rect x="346.00" y="285.00" width="2.80" height="1.00" fill="#fff"/>
<rect x="409.20" y="281.00" width="2.80" height="1.00" fill="#fff"/>
<rect x="346.00" y="295.00" width="2.80" height="1.00" fill="#fff"/>
<rect x="409.20" y="291.00" width="2.80" height="1.00" fill="#fff"/>
<rect x="346.00" y="298.00" width="2.80" height="1.00" fill="#fff"/>
<rect x="409.20" y="294.00" width="2.80" height="1.00" fill="#fff"/>
<rect x="346.00" y="301.00" width="2.80" height="1.00" fill="#fff"/>
<rect x="409.20" y="297.00" width="2.80" height="1.00" fill="#fff"/>
<rect x="346.00" y="309.00" width="2.80" height="1.00" fill="#fff"/>
<rect x="409.20" y="305.00" width="2.80" height="1.00" fill="#fff"/>
<rect x="346.00" y="312.00" width="2.80" height="1.00" fill="#fff"/>
<rect x="409.20" y="308.00" width="2.80" height="1.00" fill="#fff"/>
<rect x="346.00" y="315.00" width="2.80" height="1.00" fill="#fff"/>
<rect x="409.20" y="311.00" width="2.80" height="1.00" fill="#fff"/>
<rect x="75.00" y="21.00" width="14.00" height="7.00" fill="#000"/>
<rect x="76.00" y="22.00" width="12.00" height="1.00" fill="#fff"/>
<rect x="76.00" y="22.00" width="1.00" height="5.00" fill="#fff"/>
<rect x="87.00" y="22.00" width="1.00" height="5.00" fill="#fff"/>
<rect x="82.00" y="23.00" width="2.00" height="4.00" fill="#fff"/>
<polygon points="37.20,16.30 58.50,16.30 60.50,18.30 60.50,31.40 58.50,33.40 37.20,33.40 35.20,31.40 35.20,18.30" fill="#000"/>
<rect x="37.80" y="18.30" width="20.70" height="12.50" fill="#fff"/>
<g fill="none" stroke="#000" stroke-width="1.0" stroke-linejoin="miter" stroke-linecap="square" shape-rendering="auto"><polyline points="39.50,19.50 39.50,25.50 41.33,28.50 43.15,25.50 43.15,19.50"/><polyline points="43.15,25.50 44.98,28.50 46.80,25.50 46.80,19.50"/><polyline points="51.50,20.50 52.40,19.50 55.10,19.50 56.00,20.50 56.00,22.50 55.10,23.50 53.30,23.50"/><polyline points="55.10,23.50 56.00,24.50 56.00,27.50 55.10,28.50 52.40,28.50 51.50,27.50"/></g>
<rect x="58.00" y="21.50" width="3.00" height="6.50" fill="#fff"/>
<g shape-rendering="auto">
<polygon points="60.50,21.50 71.00,24.40 60.50,28.00" fill="#fff"/>
<polyline points="60.50,21.50 71.00,24.40 60.50,28.00" fill="none" stroke="#000" stroke-width="1.8" stroke-linejoin="miter"/>
<line x1="75.50" y1="24.40" x2="71.00" y2="24.40" stroke="#000" stroke-width="3.2"/>
</g>
<rect x="95.00" y="21.00" width="19.00" height="7.00" fill="#000"/>
<rect x="96.00" y="22.00" width="17.00" height="1.00" fill="#fff"/>
<rect x="96.00" y="22.00" width="1.00" height="5.00" fill="#fff"/>
<rect x="101.00" y="22.00" width="1.00" height="5.00" fill="#fff"/>
<rect x="107.00" y="22.00" width="1.00" height="5.00" fill="#fff"/>
<rect x="98.00" y="24.00" width="2.00" height="2.00" fill="#fff"/>
<polygon points="72.30,35.30 91.70,35.30 93.70,37.30 93.70,51.00 91.70,53.00 72.30,53.00 70.30,51.00 70.30,37.30" fill="#000"/>
<rect x="72.90" y="37.30" width="18.80" height="13.10" fill="#fff"/>
<g fill="none" stroke="#000" stroke-width="1.0" stroke-linejoin="miter" stroke-linecap="square" shape-rendering="auto"><polyline points="73.50,38.50 73.50,44.50 75.33,47.50 77.15,44.50 77.15,38.50"/><polyline points="77.15,44.50 78.97,47.50 80.80,44.50 80.80,38.50"/><polyline points="85.50,40.50 85.50,39.50 86.42,38.50 89.18,38.50 90.10,39.50 90.10,41.50 85.50,46.50 85.50,47.50 90.10,47.50"/></g>
<g shape-rendering="auto">
<polygon points="91.30,35.80 101.20,28.00 94.20,38.60" fill="#fff"/>
<polyline points="91.30,35.80 101.20,28.00 94.20,38.60" fill="none" stroke="#000" stroke-width="1.6" stroke-linejoin="miter"/>
<line x1="101.20" y1="28.00" x2="97.82" y2="31.68" stroke="#000" stroke-width="2.6"/>
</g>
<rect x="52.00" y="78.00" width="31.00" height="7.00" fill="#000"/>
<rect x="54.00" y="80.00" width="3.00" height="3.00" fill="#fff"/>
<rect x="58.00" y="79.00" width="1.00" height="5.00" fill="#fff"/>
<rect x="64.00" y="79.00" width="1.00" height="5.00" fill="#fff"/>
<rect x="70.00" y="79.00" width="1.00" height="5.00" fill="#fff"/>
<rect x="76.00" y="79.00" width="1.00" height="5.00" fill="#fff"/>
<rect x="81.00" y="79.00" width="1.00" height="5.00" fill="#fff"/>
<rect x="57.00" y="87.00" width="26.00" height="7.00" fill="#000"/>
<rect x="58.00" y="88.00" width="1.00" height="5.00" fill="#fff"/>
<rect x="60.00" y="89.00" width="3.00" height="3.00" fill="#fff"/>
<rect x="61.00" y="90.00" width="1.00" height="1.00" fill="#000"/>
<rect x="63.00" y="88.00" width="1.00" height="5.00" fill="#fff"/>
<rect x="70.00" y="88.00" width="1.00" height="5.00" fill="#fff"/>
<rect x="76.00" y="88.00" width="1.00" height="5.00" fill="#fff"/>
<rect x="81.00" y="88.00" width="1.00" height="5.00" fill="#fff"/>
<rect x="57.00" y="96.00" width="26.00" height="6.00" fill="#000"/>
<rect x="58.00" y="97.00" width="24.00" height="1.00" fill="#fff"/>
<rect x="58.00" y="97.00" width="1.00" height="4.00" fill="#fff"/>
<rect x="63.00" y="97.00" width="1.00" height="4.00" fill="#fff"/>
<rect x="70.00" y="97.00" width="1.00" height="4.00" fill="#fff"/>
<rect x="76.00" y="97.00" width="1.00" height="4.00" fill="#fff"/>
<rect x="60.00" y="99.00" width="2.00" height="2.00" fill="#fff"/>
<rect x="69.00" y="106.00" width="13.00" height="6.00" fill="#000"/>
<rect x="71.00" y="107.00" width="1.00" height="4.00" fill="#fff"/>
<rect x="74.00" y="107.00" width="1.00" height="4.00" fill="#fff"/>
<rect x="78.00" y="107.00" width="1.00" height="4.00" fill="#fff"/>
<polygon points="90.40,58.20 120.90,58.20 122.90,60.20 122.90,74.10 120.90,76.10 90.40,76.10 88.40,74.10 88.40,60.20" fill="#000"/>
<rect x="91.00" y="60.20" width="29.90" height="13.30" fill="#fff"/>
<g fill="none" stroke="#000" stroke-width="1.0" stroke-linejoin="miter" stroke-linecap="square" shape-rendering="auto"><polyline points="98.90,61.50 98.90,69.50 98.02,70.50 95.38,70.50 94.50,69.50 94.50,68.50"/><polyline points="102.50,63.50 103.40,63.50 104.30,62.50"/><polyline points="104.30,61.50 104.30,70.50"/><polyline points="114.00,65.50 110.40,65.50 109.50,64.50 109.50,62.50 110.40,61.50 113.10,61.50 114.00,62.50 114.00,68.50 112.20,70.50 110.40,70.50"/></g>
<g shape-rendering="auto">
<polygon points="88.90,72.60 83.20,79.20 91.30,75.20" fill="#fff"/>
<polyline points="88.90,72.60 83.20,79.20 91.30,75.20" fill="none" stroke="#000" stroke-width="1.6" stroke-linejoin="miter"/>
<line x1="83.20" y1="79.20" x2="85.96" y2="77.08" stroke="#000" stroke-width="2.6"/>
</g>
<polygon points="99.30,81.20 130.00,81.20 132.00,83.20 132.00,97.50 130.00,99.50 99.30,99.50 97.30,97.50 97.30,83.20" fill="#000"/>
<rect x="99.30" y="83.20" width="30.10" height="13.70" fill="#fff"/>
<g fill="none" stroke="#000" stroke-width="1.0" stroke-linejoin="miter" stroke-linecap="square" shape-rendering="auto"><polyline points="106.90,84.50 106.90,92.50 106.02,93.50 103.38,93.50 102.50,92.50 102.50,91.50"/><polyline points="110.50,86.50 110.50,85.50 111.42,84.50 114.18,84.50 115.10,85.50 115.10,87.50 110.50,92.50 110.50,93.50 115.10,93.50"/><polyline points="120.75,84.50 123.00,87.00 123.00,91.00 120.75,93.50 118.50,91.00 118.50,87.00 120.75,84.50"/></g>
<rect x="96.50" y="85.30" width="3.50" height="10.40" fill="#fff"/>
<g shape-rendering="auto">
<polygon points="97.50,85.30 90.50,90.40 97.50,95.70" fill="#fff"/>
<polyline points="97.50,85.30 90.50,90.40 97.50,95.70" fill="none" stroke="#000" stroke-width="1.8" stroke-linejoin="miter"/>
<line x1="82.90" y1="90.40" x2="90.50" y2="90.40" stroke="#000" stroke-width="3.2"/>
</g>
<polygon points="91.40,107.40 120.40,107.40 122.40,109.40 122.40,122.90 120.40,124.90 91.40,124.90 89.40,122.90 89.40,109.40" fill="#000"/>
<rect x="91.40" y="109.40" width="28.40" height="12.90" fill="#fff"/>
<g fill="none" stroke="#000" stroke-width="1.0" stroke-linejoin="miter" stroke-linecap="square" shape-rendering="auto"><polyline points="99.90,110.50 99.90,118.50 99.02,119.50 96.38,119.50 95.50,118.50 95.50,117.50"/><polyline points="103.50,112.50 103.50,111.50 104.42,110.50 107.18,110.50 108.10,111.50 108.10,113.50 103.50,118.50 103.50,119.50 108.10,119.50"/><polyline points="110.50,112.50 111.40,112.50 112.30,111.50"/><polyline points="112.30,110.50 112.30,119.50"/></g>
<g shape-rendering="auto">
<polygon points="89.80,110.20 82.80,101.00 92.30,107.80" fill="#fff"/>
<polyline points="89.80,110.20 82.80,101.00 92.30,107.80" fill="none" stroke="#000" stroke-width="1.6" stroke-linejoin="miter"/>
<line x1="82.80" y1="101.00" x2="86.10" y2="104.20" stroke="#000" stroke-width="2.6"/>
</g>
<polygon points="62.20,128.00 91.90,128.00 93.90,130.00 93.90,144.60 91.90,146.60 62.20,146.60 60.20,144.60 60.20,130.00" fill="#000"/>
<rect x="62.20" y="130.00" width="29.70" height="14.60" fill="#fff"/>
<g fill="none" stroke="#000" stroke-width="1.0" stroke-linejoin="miter" stroke-linecap="square" shape-rendering="auto"><polyline points="70.90,130.50 70.90,138.50 70.02,139.50 67.38,139.50 66.50,138.50 66.50,137.50"/><polyline points="73.50,132.50 73.50,131.50 74.42,130.50 77.18,130.50 78.10,131.50 78.10,133.50 73.50,138.50 73.50,139.50 78.10,139.50"/><polyline points="81.50,132.50 81.50,131.50 82.42,130.50 85.18,130.50 86.10,131.50 86.10,133.50 81.50,138.50 81.50,139.50 86.10,139.50"/></g>
<rect x="73.20" y="127.00" width="6.20" height="4.00" fill="#fff"/>
<g shape-rendering="auto">
<polygon points="73.20,128.20 76.40,120.50 79.40,128.20" fill="#fff"/>
<polyline points="73.20,128.20 76.40,120.50 79.40,128.20" fill="none" stroke="#000" stroke-width="1.8" stroke-linejoin="miter"/>
<line x1="76.40" y1="111.90" x2="76.40" y2="120.50" stroke="#000" stroke-width="3.2"/>
</g>
<rect x="151.00" y="79.00" width="19.00" height="7.00" fill="#000"/>
<rect x="152.00" y="80.00" width="17.00" height="1.00" fill="#fff"/>
<rect x="152.00" y="80.00" width="1.00" height="5.00" fill="#fff"/>
<rect x="157.00" y="80.00" width="1.00" height="5.00" fill="#fff"/>
<rect x="163.00" y="80.00" width="1.00" height="5.00" fill="#fff"/>
<rect x="154.00" y="82.00" width="2.00" height="2.00" fill="#fff"/>
<polygon points="186.20,74.00 218.10,74.00 220.10,76.00 220.10,89.40 218.10,91.40 186.20,91.40 184.20,89.40 184.20,76.00" fill="#000"/>
<rect x="186.20" y="76.00" width="31.30" height="12.80" fill="#fff"/>
<g fill="none" stroke="#000" stroke-width="1.0" stroke-linejoin="miter" stroke-linecap="square" shape-rendering="auto"><polyline points="189.50,76.50 189.50,82.50 191.32,85.50 193.15,82.50 193.15,76.50"/><polyline points="193.15,82.50 194.97,85.50 196.80,82.50 196.80,76.50"/><polyline points="201.50,78.50 201.50,77.50 202.42,76.50 205.18,76.50 206.10,77.50 206.10,79.50 201.50,84.50 201.50,85.50 206.10,85.50"/><polyline points="210.50,78.50 211.40,78.50 212.30,77.50"/><polyline points="212.30,76.50 212.30,85.50"/></g>
<rect x="183.00" y="79.60" width="4.00" height="7.80" fill="#fff"/>
<g shape-rendering="auto">
<polygon points="184.40,79.60 177.50,82.60 184.40,87.40" fill="#fff"/>
<polyline points="184.40,79.60 177.50,82.60 184.40,87.40" fill="none" stroke="#000" stroke-width="1.8" stroke-linejoin="miter"/>
<line x1="169.50" y1="82.60" x2="177.50" y2="82.60" stroke="#000" stroke-width="3.2"/>
</g>
<rect x="256.00" y="77.00" width="18.00" height="5.00" fill="#000"/>
<rect x="257.00" y="78.00" width="16.00" height="1.00" fill="#fff"/>
<rect x="257.00" y="78.00" width="1.00" height="3.00" fill="#fff"/>
<rect x="262.00" y="78.00" width="1.00" height="3.00" fill="#fff"/>
<rect x="267.00" y="78.00" width="1.00" height="3.00" fill="#fff"/>
<rect x="259.00" y="80.00" width="2.00" height="2.00" fill="#fff"/>
<polygon points="291.10,71.80 312.90,71.80 314.90,73.80 314.90,86.50 312.90,88.50 291.10,88.50 289.10,86.50 289.10,73.80" fill="#000"/>
<rect x="291.10" y="73.80" width="21.80" height="12.70" fill="#fff"/>
<g fill="none" stroke="#000" stroke-width="1.0" stroke-linejoin="miter" stroke-linecap="square" shape-rendering="auto"><polyline points="292.50,74.50 292.50,80.50 294.32,83.50 296.15,80.50 296.15,74.50"/><polyline points="296.15,80.50 297.98,83.50 299.80,80.50 299.80,74.50"/><polyline points="305.50,76.50 306.40,76.50 307.30,75.50"/><polyline points="307.30,74.50 307.30,83.50"/></g>
<rect x="288.00" y="76.50" width="4.00" height="7.00" fill="#fff"/>
<g shape-rendering="auto">
<polygon points="289.50,76.50 282.00,79.50 289.50,83.50" fill="#fff"/>
<polyline points="289.50,76.50 282.00,79.50 289.50,83.50" fill="none" stroke="#000" stroke-width="1.8" stroke-linejoin="miter"/>
<line x1="274.50" y1="79.50" x2="282.00" y2="79.50" stroke="#000" stroke-width="3.2"/>
</g>
<rect x="70.00" y="220.00" width="19.00" height="7.00" fill="#000"/>
<rect x="71.00" y="221.00" width="17.00" height="1.00" fill="#fff"/>
<rect x="71.00" y="221.00" width="1.00" height="5.00" fill="#fff"/>
<rect x="76.00" y="221.00" width="1.00" height="5.00" fill="#fff"/>
<rect x="82.00" y="221.00" width="1.00" height="5.00" fill="#fff"/>
<rect x="73.00" y="223.00" width="2.00" height="2.00" fill="#fff"/>
<rect x="70.00" y="229.00" width="19.00" height="7.00" fill="#000"/>
<rect x="72.00" y="231.00" width="3.00" height="3.00" fill="#fff"/>
<rect x="76.00" y="230.00" width="1.00" height="5.00" fill="#fff"/>
<rect x="82.00" y="230.00" width="1.00" height="5.00" fill="#fff"/>
<rect x="87.00" y="230.00" width="1.00" height="5.00" fill="#fff"/>
<rect x="70.00" y="237.00" width="19.00" height="7.00" fill="#000"/>
<rect x="71.00" y="238.00" width="17.00" height="1.00" fill="#fff"/>
<rect x="71.00" y="238.00" width="1.00" height="5.00" fill="#fff"/>
<rect x="76.00" y="238.00" width="1.00" height="5.00" fill="#fff"/>
<rect x="82.00" y="238.00" width="1.00" height="5.00" fill="#fff"/>
<rect x="73.00" y="240.00" width="2.00" height="2.00" fill="#fff"/>
<rect x="70.00" y="245.00" width="19.00" height="7.00" fill="#000"/>
<rect x="71.00" y="246.00" width="17.00" height="1.00" fill="#fff"/>
<rect x="71.00" y="246.00" width="1.00" height="5.00" fill="#fff"/>
<rect x="76.00" y="246.00" width="1.00" height="5.00" fill="#fff"/>
<rect x="82.00" y="246.00" width="1.00" height="5.00" fill="#fff"/>
<rect x="73.00" y="248.00" width="2.00" height="2.00" fill="#fff"/>
<rect x="70.00" y="254.00" width="19.00" height="7.00" fill="#000"/>
<rect x="72.00" y="256.00" width="3.00" height="3.00" fill="#fff"/>
<rect x="76.00" y="255.00" width="1.00" height="5.00" fill="#fff"/>
<rect x="82.00" y="255.00" width="1.00" height="5.00" fill="#fff"/>
<rect x="87.00" y="255.00" width="1.00" height="5.00" fill="#fff"/>
<rect x="70.00" y="262.00" width="19.00" height="7.00" fill="#000"/>
<rect x="71.00" y="263.00" width="17.00" height="1.00" fill="#fff"/>
<rect x="71.00" y="263.00" width="1.00" height="5.00" fill="#fff"/>
<rect x="76.00" y="263.00" width="1.00" height="5.00" fill="#fff"/>
<rect x="82.00" y="263.00" width="1.00" height="5.00" fill="#fff"/>
<rect x="73.00" y="265.00" width="2.00" height="2.00" fill="#fff"/>
<polygon points="69.20,186.00 90.60,186.00 92.60,188.00 92.60,202.80 90.60,204.80 69.20,204.80 67.20,202.80 67.20,188.00" fill="#000"/>
<rect x="69.20" y="188.00" width="20.80" height="14.20" fill="#fff"/>
<g fill="none" stroke="#000" stroke-width="1.0" stroke-linejoin="miter" stroke-linecap="square" shape-rendering="auto"><polyline points="70.50,188.50 70.50,194.50 72.33,197.50 74.15,194.50 74.15,188.50"/><polyline points="74.15,194.50 75.97,197.50 77.80,194.50 77.80,188.50"/><polyline points="86.10,197.50 86.10,188.50 82.50,194.50 82.50,195.50 87.00,195.50"/></g>
<rect x="76.50" y="201.00" width="5.50" height="4.00" fill="#fff"/>
<g shape-rendering="auto">
<polygon points="76.50,204.60 78.90,209.40 82.00,204.60" fill="#fff"/>
<polyline points="76.50,204.60 78.90,209.40 82.00,204.60" fill="none" stroke="#000" stroke-width="1.8" stroke-linejoin="miter"/>
<line x1="78.90" y1="220.20" x2="78.90" y2="209.40" stroke="#000" stroke-width="3.2"/>
</g>
<polygon points="98.20,208.10 118.90,208.10 120.90,210.10 120.90,224.60 118.90,226.60 98.20,226.60 96.20,224.60 96.20,210.10" fill="#000"/>
<rect x="98.20" y="210.10" width="20.10" height="13.90" fill="#fff"/>
<g fill="none" stroke="#000" stroke-width="1.0" stroke-linejoin="miter" stroke-linecap="square" shape-rendering="auto"><polyline points="99.50,211.50 99.50,217.50 101.33,220.50 103.15,217.50 103.15,211.50"/><polyline points="103.15,217.50 104.97,220.50 106.80,217.50 106.80,211.50"/><polyline points="115.80,211.50 111.50,211.50 111.50,215.50 114.94,215.50 115.80,216.50 115.80,219.50 114.94,220.50 112.36,220.50 111.50,219.50"/></g>
<g shape-rendering="auto">
<polygon points="97.00,223.60 89.30,232.20 100.00,225.50" fill="#fff"/>
<polyline points="97.00,223.60 89.30,232.20 100.00,225.50" fill="none" stroke="#000" stroke-width="1.6" stroke-linejoin="miter"/>
<line x1="89.30" y1="232.20" x2="92.98" y2="229.14" stroke="#000" stroke-width="2.6"/>
</g>
<polygon points="106.60,232.40 127.70,232.40 129.70,234.40 129.70,248.90 127.70,250.90 106.60,250.90 104.60,248.90 104.60,234.40" fill="#000"/>
<rect x="106.60" y="234.40" width="20.50" height="13.90" fill="#fff"/>
<g fill="none" stroke="#000" stroke-width="1.0" stroke-linejoin="miter" stroke-linecap="square" shape-rendering="auto"><polyline points="108.50,235.50 108.50,241.50 110.33,244.50 112.15,241.50 112.15,235.50"/><polyline points="112.15,241.50 113.97,244.50 115.80,241.50 115.80,235.50"/><polyline points="123.10,235.50 121.30,235.50 119.50,237.50 119.50,243.50 120.40,244.50 123.10,244.50 124.00,243.50 124.00,240.50 123.10,239.50 119.50,239.50"/></g>
<rect x="103.50" y="238.20" width="4.00" height="5.80" fill="#fff"/>
<g shape-rendering="auto">
<polygon points="104.60,238.20 94.50,240.60 104.60,244.00" fill="#fff"/>
<polyline points="104.60,238.20 94.50,240.60 104.60,244.00" fill="none" stroke="#000" stroke-width="1.8" stroke-linejoin="miter"/>
<line x1="88.80" y1="240.60" x2="94.50" y2="240.60" stroke="#000" stroke-width="3.2"/>
</g>
<polygon points="31.80,240.00 53.40,240.00 55.40,242.00 55.40,256.50 53.40,258.50 31.80,258.50 29.80,256.50 29.80,242.00" fill="#000"/>
<rect x="32.40" y="242.00" width="21.00" height="13.90" fill="#fff"/>
<g fill="none" stroke="#000" stroke-width="1.0" stroke-linejoin="miter" stroke-linecap="square" shape-rendering="auto"><polyline points="34.50,242.50 34.50,248.50 36.33,251.50 38.15,248.50 38.15,242.50"/><polyline points="38.15,248.50 39.98,251.50 41.80,248.50 41.80,242.50"/><polyline points="46.50,242.50 51.00,242.50 51.00,243.50 48.30,248.50 48.30,251.50"/></g>
<rect x="53.00" y="245.60" width="3.00" height="5.00" fill="#fff"/>
<g shape-rendering="auto">
<polygon points="55.40,245.60 64.70,248.60 55.40,250.60" fill="#fff"/>
<polyline points="55.40,245.60 64.70,248.60 55.40,250.60" fill="none" stroke="#000" stroke-width="1.8" stroke-linejoin="miter"/>
<line x1="70.10" y1="248.60" x2="64.70" y2="248.60" stroke="#000" stroke-width="3.2"/>
</g>
<polygon points="40.20,263.80 62.00,263.80 64.00,265.80 64.00,279.90 62.00,281.90 40.20,281.90 38.20,279.90 38.20,265.80" fill="#000"/>
<rect x="40.80" y="265.80" width="21.20" height="13.50" fill="#fff"/>
<g fill="none" stroke="#000" stroke-width="1.0" stroke-linejoin="miter" stroke-linecap="square" shape-rendering="auto"><polyline points="41.50,266.50 41.50,272.50 43.33,275.50 45.15,272.50 45.15,266.50"/><polyline points="45.15,272.50 46.98,275.50 48.80,272.50 48.80,266.50"/><polyline points="54.36,266.50 56.94,266.50 57.80,267.50 57.80,269.50 56.94,270.50 54.36,270.50 53.50,269.50 53.50,267.50 54.36,266.50"/><polyline points="54.36,270.50 53.50,271.50 53.50,274.50 54.36,275.50 56.94,275.50 57.80,274.50 57.80,271.50 56.94,270.50"/></g>
<g shape-rendering="auto">
<polygon points="60.80,264.60 70.00,256.20 63.50,267.40" fill="#fff"/>
<polyline points="60.80,264.60 70.00,256.20 63.50,267.40" fill="none" stroke="#000" stroke-width="1.6" stroke-linejoin="miter"/>
<line x1="70.00" y1="256.20" x2="66.86" y2="260.12" stroke="#000" stroke-width="2.6"/>
</g>
<polygon points="71.00,285.00 92.60,285.00 94.60,287.00 94.60,300.70 92.60,302.70 71.00,302.70 69.00,300.70 69.00,287.00" fill="#000"/>
<rect x="71.00" y="287.00" width="21.60" height="13.70" fill="#fff"/>
<g fill="none" stroke="#000" stroke-width="1.0" stroke-linejoin="miter" stroke-linecap="square" shape-rendering="auto"><polyline points="72.50,288.50 72.50,294.50 74.33,297.50 76.15,294.50 76.15,288.50"/><polyline points="76.15,294.50 77.97,297.50 79.80,294.50 79.80,288.50"/><polyline points="88.00,292.50 84.40,292.50 83.50,291.50 83.50,289.50 84.40,288.50 87.10,288.50 88.00,289.50 88.00,295.50 86.20,297.50 84.40,297.50"/></g>
<rect x="78.00" y="285.00" width="5.70" height="3.50" fill="#fff"/>
<g shape-rendering="auto">
<polygon points="78.00,285.50 80.40,277.90 83.70,285.50" fill="#fff"/>
<polyline points="78.00,285.50 80.40,277.90 83.70,285.50" fill="none" stroke="#000" stroke-width="1.8" stroke-linejoin="miter"/>
<line x1="80.40" y1="268.80" x2="80.40" y2="277.90" stroke="#000" stroke-width="3.2"/>
</g>
<rect x="173.00" y="235.00" width="19.00" height="7.00" fill="#000"/>
<rect x="175.00" y="237.00" width="3.00" height="3.00" fill="#fff"/>
<rect x="179.00" y="236.00" width="1.00" height="5.00" fill="#fff"/>
<rect x="185.00" y="236.00" width="1.00" height="5.00" fill="#fff"/>
<rect x="190.00" y="236.00" width="1.00" height="5.00" fill="#fff"/>
<polygon points="208.30,228.80 240.10,228.80 242.10,230.80 242.10,245.70 240.10,247.70 208.30,247.70 206.30,245.70 206.30,230.80" fill="#000"/>
<rect x="208.30" y="230.80" width="31.20" height="14.30" fill="#fff"/>
<g fill="none" stroke="#000" stroke-width="1.0" stroke-linejoin="miter" stroke-linecap="square" shape-rendering="auto"><polyline points="211.50,231.50 211.50,237.50 213.32,240.50 215.15,237.50 215.15,231.50"/><polyline points="215.15,237.50 216.97,240.50 218.80,237.50 218.80,231.50"/><polyline points="223.50,233.50 224.40,233.50 225.30,232.50"/><polyline points="225.30,231.50 225.30,240.50"/><polyline points="232.75,231.50 235.00,234.00 235.00,238.00 232.75,240.50 230.50,238.00 230.50,234.00 232.75,231.50"/></g>
<rect x="191.00" y="237.30" width="5.00" height="2.70" fill="#000"/>
<rect x="205.50" y="234.60" width="3.50" height="8.30" fill="#fff"/>
<g shape-rendering="auto">
<polygon points="206.60,234.60 200.00,238.60 206.60,242.90" fill="#fff"/>
<polyline points="206.60,234.60 200.00,238.60 206.60,242.90" fill="none" stroke="#000" stroke-width="1.8" stroke-linejoin="miter"/>
<line x1="195.00" y1="238.60" x2="200.00" y2="238.60" stroke="#000" stroke-width="3.2"/>
</g>
<rect x="301.00" y="317.00" width="6.00" height="20.00" fill="#000"/>
<rect x="302.00" y="318.00" width="4.00" height="1.00" fill="#fff"/>
<rect x="302.00" y="318.00" width="1.00" height="6.00" fill="#fff"/>
<rect x="303.00" y="320.00" width="2.00" height="2.00" fill="#fff"/>
<rect x="302.00" y="324.00" width="4.00" height="1.00" fill="#fff"/>
<rect x="302.00" y="330.00" width="4.00" height="1.00" fill="#fff"/>
<polygon points="324.30,318.30 355.60,318.30 357.60,320.30 357.60,333.70 355.60,335.70 324.30,335.70 322.30,333.70 322.30,320.30" fill="#000"/>
<rect x="324.30" y="320.30" width="30.70" height="12.80" fill="#fff"/>
<g fill="none" stroke="#000" stroke-width="1.0" stroke-linejoin="miter" stroke-linecap="square" shape-rendering="auto"><polyline points="328.50,321.50 328.50,327.50 330.32,330.50 332.15,327.50 332.15,321.50"/><polyline points="332.15,327.50 333.98,330.50 335.80,327.50 335.80,321.50"/><polyline points="340.50,323.50 341.40,323.50 342.30,322.50"/><polyline points="342.30,321.50 342.30,330.50"/><polyline points="348.50,323.50 349.40,323.50 350.30,322.50"/><polyline points="350.30,321.50 350.30,330.50"/></g>
<rect x="321.50" y="323.30" width="3.50" height="7.50" fill="#fff"/>
<g shape-rendering="auto">
<polygon points="322.60,323.30 314.00,327.00 322.60,330.80" fill="#fff"/>
<polyline points="322.60,323.30 314.00,327.00 322.60,330.80" fill="none" stroke="#000" stroke-width="1.8" stroke-linejoin="miter"/>
<line x1="306.80" y1="327.00" x2="314.00" y2="327.00" stroke="#000" stroke-width="3.2"/>
</g>
<rect x="345.00" y="343.00" width="20.00" height="7.00" fill="#000"/>
<rect x="346.00" y="344.00" width="18.00" height="1.00" fill="#fff"/>
<rect x="346.00" y="344.00" width="1.00" height="5.00" fill="#fff"/>
<rect x="351.00" y="344.00" width="1.00" height="5.00" fill="#fff"/>
<rect x="358.00" y="344.00" width="1.00" height="5.00" fill="#fff"/>
<rect x="348.00" y="346.00" width="2.00" height="2.00" fill="#fff"/>
<polygon points="381.30,337.50 412.60,337.50 414.60,339.50 414.60,352.80 412.60,354.80 381.30,354.80 379.30,352.80 379.30,339.50" fill="#000"/>
<rect x="381.30" y="339.50" width="30.70" height="12.70" fill="#fff"/>
<g fill="none" stroke="#000" stroke-width="1.0" stroke-linejoin="miter" stroke-linecap="square" shape-rendering="auto"><polyline points="385.50,340.50 385.50,346.50 387.32,349.50 389.15,346.50 389.15,340.50"/><polyline points="389.15,346.50 390.98,349.50 392.80,346.50 392.80,340.50"/><polyline points="396.50,342.50 397.40,342.50 398.30,341.50"/><polyline points="398.30,340.50 398.30,349.50"/><polyline points="404.50,342.50 404.50,341.50 405.42,340.50 408.18,340.50 409.10,341.50 409.10,343.50 404.50,348.50 404.50,349.50 409.10,349.50"/></g>
<rect x="378.50" y="342.80" width="3.50" height="6.00" fill="#fff"/>
<g shape-rendering="auto">
<polygon points="379.60,342.80 372.60,346.40 379.60,348.80" fill="#fff"/>
<polyline points="379.60,342.80 372.60,346.40 379.60,348.80" fill="none" stroke="#000" stroke-width="1.8" stroke-linejoin="miter"/>
<line x1="365.40" y1="346.40" x2="372.60" y2="346.40" stroke="#000" stroke-width="3.2"/>
</g>
<rect x="62.00" y="401.00" width="19.00" height="7.00" fill="#000"/>
<rect x="64.00" y="403.00" width="3.00" height="3.00" fill="#fff"/>
<rect x="68.00" y="402.00" width="1.00" height="5.00" fill="#fff"/>
<rect x="74.00" y="402.00" width="1.00" height="5.00" fill="#fff"/>
<rect x="79.00" y="402.00" width="1.00" height="5.00" fill="#fff"/>
<rect x="62.00" y="410.00" width="19.00" height="7.00" fill="#000"/>
<rect x="63.00" y="411.00" width="17.00" height="1.00" fill="#fff"/>
<rect x="63.00" y="411.00" width="1.00" height="5.00" fill="#fff"/>
<rect x="68.00" y="411.00" width="1.00" height="5.00" fill="#fff"/>
<rect x="74.00" y="411.00" width="1.00" height="5.00" fill="#fff"/>
<rect x="65.00" y="413.00" width="2.00" height="2.00" fill="#fff"/>
<rect x="62.00" y="420.00" width="19.00" height="6.00" fill="#000"/>
<rect x="64.00" y="422.00" width="3.00" height="2.00" fill="#fff"/>
<rect x="68.00" y="421.00" width="1.00" height="4.00" fill="#fff"/>
<rect x="74.00" y="421.00" width="1.00" height="4.00" fill="#fff"/>
<rect x="79.00" y="421.00" width="1.00" height="4.00" fill="#fff"/>
<rect x="62.00" y="429.00" width="19.00" height="7.00" fill="#000"/>
<rect x="64.00" y="431.00" width="3.00" height="3.00" fill="#fff"/>
<rect x="68.00" y="430.00" width="1.00" height="5.00" fill="#fff"/>
<rect x="74.00" y="430.00" width="1.00" height="5.00" fill="#fff"/>
<rect x="79.00" y="430.00" width="1.00" height="5.00" fill="#fff"/>
<rect x="62.00" y="437.00" width="19.00" height="7.00" fill="#000"/>
<rect x="64.00" y="439.00" width="3.00" height="3.00" fill="#fff"/>
<rect x="68.00" y="438.00" width="1.00" height="5.00" fill="#fff"/>
<rect x="74.00" y="438.00" width="1.00" height="5.00" fill="#fff"/>
<rect x="79.00" y="438.00" width="1.00" height="5.00" fill="#fff"/>
<polygon points="56.10,367.00 85.60,367.00 87.60,369.00 87.60,383.70 85.60,385.70 56.10,385.70 54.10,383.70 54.10,369.00" fill="#000"/>
<rect x="56.70" y="369.00" width="28.90" height="14.10" fill="#fff"/>
<g fill="none" stroke="#000" stroke-width="1.0" stroke-linejoin="miter" stroke-linecap="square" shape-rendering="auto"><polyline points="58.50,370.50 58.50,376.50 60.33,379.50 62.15,376.50 62.15,370.50"/><polyline points="62.15,376.50 63.98,379.50 65.80,376.50 65.80,370.50"/><polyline points="70.50,372.50 71.40,372.50 72.30,371.50"/><polyline points="72.30,370.50 72.30,379.50"/><polyline points="81.10,370.50 79.30,370.50 77.50,372.50 77.50,378.50 78.40,379.50 81.10,379.50 82.00,378.50 82.00,375.50 81.10,374.50 77.50,374.50"/></g>
<rect x="67.00" y="382.00" width="7.20" height="4.00" fill="#fff"/>
<g shape-rendering="auto">
<polygon points="67.00,385.50 70.30,391.80 74.20,385.50" fill="#fff"/>
<polyline points="67.00,385.50 70.30,391.80 74.20,385.50" fill="none" stroke="#000" stroke-width="1.8" stroke-linejoin="miter"/>
<line x1="70.50" y1="401.10" x2="70.30" y2="391.80" stroke="#000" stroke-width="3.2"/>
</g>
<polygon points="13.20,405.10 44.60,405.10 46.60,407.10 46.60,420.50 44.60,422.50 13.20,422.50 11.20,420.50 11.20,407.10" fill="#000"/>
<rect x="13.80" y="407.10" width="30.80" height="12.80" fill="#fff"/>
<g fill="none" stroke="#000" stroke-width="1.0" stroke-linejoin="miter" stroke-linecap="square" shape-rendering="auto"><polyline points="16.50,408.50 16.50,414.50 18.32,417.50 20.15,414.50 20.15,408.50"/><polyline points="20.15,414.50 21.98,417.50 23.80,414.50 23.80,408.50"/><polyline points="28.50,410.50 29.40,410.50 30.30,409.50"/><polyline points="30.30,408.50 30.30,417.50"/><polyline points="36.50,408.50 41.00,408.50 41.00,409.50 38.30,414.50 38.30,417.50"/></g>
<rect x="44.00" y="410.50" width="3.00" height="6.10" fill="#fff"/>
<g shape-rendering="auto">
<polygon points="46.40,410.50 56.50,413.50 46.40,416.60" fill="#fff"/>
<polyline points="46.40,410.50 56.50,413.50 46.40,416.60" fill="none" stroke="#000" stroke-width="1.8" stroke-linejoin="miter"/>
<line x1="62.10" y1="413.50" x2="56.50" y2="413.50" stroke="#000" stroke-width="3.2"/>
</g>
<polygon points="23.30,429.40 53.80,429.40 55.80,431.40 55.80,445.80 53.80,447.80 23.30,447.80 21.30,445.80 21.30,431.40" fill="#000"/>
<rect x="23.90" y="431.40" width="29.90" height="13.80" fill="#fff"/>
<g fill="none" stroke="#000" stroke-width="1.0" stroke-linejoin="miter" stroke-linecap="square" shape-rendering="auto"><polyline points="25.50,432.50 25.50,438.50 27.32,441.50 29.15,438.50 29.15,432.50"/><polyline points="29.15,438.50 30.98,441.50 32.80,438.50 32.80,432.50"/><polyline points="37.50,434.50 38.40,434.50 39.30,433.50"/><polyline points="39.30,432.50 39.30,441.50"/><polyline points="46.36,432.50 48.94,432.50 49.80,433.50 49.80,435.50 48.94,436.50 46.36,436.50 45.50,435.50 45.50,433.50 46.36,432.50"/><polyline points="46.36,436.50 45.50,437.50 45.50,440.50 46.36,441.50 48.94,441.50 49.80,440.50 49.80,437.50 48.94,436.50"/></g>
<g shape-rendering="auto">
<polygon points="52.80,429.80 62.10,422.40 55.50,432.20" fill="#fff"/>
<polyline points="52.80,429.80 62.10,422.40 55.50,432.20" fill="none" stroke="#000" stroke-width="1.6" stroke-linejoin="miter"/>
<line x1="62.10" y1="422.40" x2="58.92" y2="425.84" stroke="#000" stroke-width="2.6"/>
</g>
<polygon points="58.10,459.10 87.90,459.10 89.90,461.10 89.90,475.60 87.90,477.60 58.10,477.60 56.10,475.60 56.10,461.10" fill="#000"/>
<rect x="58.10" y="461.10" width="29.20" height="13.90" fill="#fff"/>
<g fill="none" stroke="#000" stroke-width="1.0" stroke-linejoin="miter" stroke-linecap="square" shape-rendering="auto"><polyline points="59.50,462.50 59.50,468.50 61.33,471.50 63.15,468.50 63.15,462.50"/><polyline points="63.15,468.50 64.97,471.50 66.80,468.50 66.80,462.50"/><polyline points="70.50,464.50 70.50,463.50 71.42,462.50 74.18,462.50 75.10,463.50 75.10,465.50 70.50,470.50 70.50,471.50 75.10,471.50"/><polyline points="80.75,462.50 83.00,465.00 83.00,469.00 80.75,471.50 78.50,469.00 78.50,465.00 80.75,462.50"/></g>
<rect x="69.60" y="459.00" width="5.50" height="3.50" fill="#fff"/>
<g shape-rendering="auto">
<polygon points="69.60,459.30 72.00,454.40 75.10,459.30" fill="#fff"/>
<polyline points="69.60,459.30 72.00,454.40 75.10,459.30" fill="none" stroke="#000" stroke-width="1.8" stroke-linejoin="miter"/>
<line x1="72.00" y1="443.50" x2="72.00" y2="454.40" stroke="#000" stroke-width="3.2"/>
</g>
<rect x="125.00" y="410.00" width="19.00" height="7.00" fill="#000"/>
<rect x="127.00" y="412.00" width="3.00" height="3.00" fill="#fff"/>
<rect x="131.00" y="411.00" width="1.00" height="5.00" fill="#fff"/>
<rect x="137.00" y="411.00" width="1.00" height="5.00" fill="#fff"/>
<rect x="142.00" y="411.00" width="1.00" height="5.00" fill="#fff"/>
<polygon points="120.40,375.20 149.80,375.20 151.80,377.20 151.80,391.20 149.80,393.20 120.40,393.20 118.40,391.20 118.40,377.20" fill="#000"/>
<rect x="121.00" y="377.20" width="28.80" height="13.40" fill="#fff"/>
<g fill="none" stroke="#000" stroke-width="1.0" stroke-linejoin="miter" stroke-linecap="square" shape-rendering="auto"><polyline points="122.50,378.50 122.50,384.50 124.33,387.50 126.15,384.50 126.15,378.50"/><polyline points="126.15,384.50 127.97,387.50 129.80,384.50 129.80,378.50"/><polyline points="134.50,380.50 135.40,380.50 136.30,379.50"/><polyline points="136.30,378.50 136.30,387.50"/><polyline points="145.80,378.50 141.50,378.50 141.50,382.50 144.94,382.50 145.80,383.50 145.80,386.50 144.94,387.50 142.36,387.50 141.50,386.50"/></g>
<rect x="131.00" y="390.00" width="5.60" height="3.50" fill="#fff"/>
<g shape-rendering="auto">
<polygon points="131.00,393.20 134.50,399.00 136.60,393.20" fill="#fff"/>
<polyline points="131.00,393.20 134.50,399.00 136.60,393.20" fill="none" stroke="#000" stroke-width="1.8" stroke-linejoin="miter"/>
<line x1="134.50" y1="410.00" x2="134.50" y2="399.00" stroke="#000" stroke-width="3.2"/>
</g>
<rect x="123.00" y="425.10" width="24.00" height="84.70" fill="#000"/>
<rect x="132.20" y="431.10" width="5.60" height="31.90" fill="#fff"/>
<rect x="132.20" y="468.00" width="5.60" height="33.80" fill="#fff"/>
<rect x="133.00" y="507.10" width="4.00" height="2.70" fill="#fff"/>
<rect x="125.00" y="428.04" width="5.10" height="3.00" fill="#fff"/>
<rect x="139.40" y="428.04" width="5.10" height="3.00" fill="#fff"/>
<rect x="125.00" y="433.86" width="5.10" height="3.00" fill="#fff"/>
<rect x="139.40" y="433.86" width="5.10" height="3.00" fill="#fff"/>
<rect x="125.00" y="439.68" width="5.10" height="3.00" fill="#fff"/>
<rect x="139.40" y="439.68" width="5.10" height="3.00" fill="#fff"/>
<rect x="125.00" y="445.50" width="5.10" height="3.00" fill="#fff"/>
<rect x="139.40" y="445.50" width="5.10" height="3.00" fill="#fff"/>
<rect x="125.00" y="451.32" width="5.10" height="3.00" fill="#fff"/>
<rect x="139.40" y="451.32" width="5.10" height="3.00" fill="#fff"/>
<rect x="125.00" y="457.14" width="5.10" height="3.00" fill="#fff"/>
<rect x="139.40" y="457.14" width="5.10" height="3.00" fill="#fff"/>
<rect x="125.00" y="462.96" width="5.10" height="3.00" fill="#fff"/>
<rect x="139.40" y="462.96" width="5.10" height="3.00" fill="#fff"/>
<rect x="125.00" y="468.78" width="5.10" height="3.00" fill="#fff"/>
<rect x="139.40" y="468.78" width="5.10" height="3.00" fill="#fff"/>
<rect x="125.00" y="474.60" width="5.10" height="3.00" fill="#fff"/>
<rect x="139.40" y="474.60" width="5.10" height="3.00" fill="#fff"/>
<rect x="125.00" y="480.42" width="5.10" height="3.00" fill="#fff"/>
<rect x="139.40" y="480.42" width="5.10" height="3.00" fill="#fff"/>
<rect x="125.00" y="486.24" width="5.10" height="3.00" fill="#fff"/>
<rect x="139.40" y="486.24" width="5.10" height="3.00" fill="#fff"/>
<rect x="125.00" y="492.06" width="5.10" height="3.00" fill="#fff"/>
<rect x="139.40" y="492.06" width="5.10" height="3.00" fill="#fff"/>
<rect x="125.00" y="497.88" width="5.10" height="3.00" fill="#fff"/>
<rect x="139.40" y="497.88" width="5.10" height="3.00" fill="#fff"/>
<rect x="125.00" y="503.70" width="5.10" height="3.00" fill="#fff"/>
<rect x="139.40" y="503.70" width="5.10" height="3.00" fill="#fff"/>
<polygon points="97.90,422.80 129.30,422.80 131.30,424.80 131.30,438.30 129.30,440.30 97.90,440.30 95.90,438.30 95.90,424.80" fill="#000"/>
<rect x="97.90" y="424.80" width="30.80" height="12.90" fill="#fff"/>
<g fill="none" stroke="#000" stroke-width="1.0" stroke-linejoin="miter" stroke-linecap="square" shape-rendering="auto"><polyline points="100.50,425.50 100.50,431.50 102.33,434.50 104.15,431.50 104.15,425.50"/><polyline points="104.15,431.50 105.97,434.50 107.80,431.50 107.80,425.50"/><polyline points="112.50,427.50 113.40,427.50 114.30,426.50"/><polyline points="114.30,425.50 114.30,434.50"/><polyline points="125.00,429.50 121.40,429.50 120.50,428.50 120.50,426.50 121.40,425.50 124.10,425.50 125.00,426.50 125.00,432.50 123.20,434.50 121.40,434.50"/></g>
<rect x="95.00" y="427.00" width="4.00" height="9.00" fill="#fff"/>
<g shape-rendering="auto">
<polygon points="96.20,427.00 86.00,431.60 96.20,436.00" fill="#fff"/>
<polyline points="96.20,427.00 86.00,431.60 96.20,436.00" fill="none" stroke="#000" stroke-width="1.8" stroke-linejoin="miter"/>
<line x1="80.80" y1="431.60" x2="86.00" y2="431.60" stroke="#000" stroke-width="3.2"/>
</g>
<polygon points="120.50,459.00 148.30,459.00 150.30,461.00 150.30,473.30 148.30,475.30 120.50,475.30 118.50,473.30 118.50,461.00" fill="#000"/>
<rect x="120.50" y="461.00" width="27.80" height="12.30" fill="#fff"/>
<g fill="none" stroke="#000" stroke-width="1.0" stroke-linejoin="miter" stroke-linecap="square" shape-rendering="auto"><polyline points="121.50,462.50 126.70,462.50"/><polyline points="124.10,462.50 124.10,471.50"/><polyline points="130.50,471.50 133.40,462.50 136.30,471.50"/><polyline points="131.47,468.50 135.33,468.50"/><polyline points="144.30,463.50 143.34,462.50 140.46,462.50 139.50,463.50 139.50,470.50 140.46,471.50 143.34,471.50 144.30,470.50 144.30,467.50 142.38,467.50"/></g>
<rect x="186.00" y="425.10" width="24.60" height="84.60" fill="#000"/>
<rect x="195.50" y="431.10" width="5.60" height="31.90" fill="#fff"/>
<rect x="195.50" y="468.00" width="5.60" height="33.70" fill="#fff"/>
<rect x="196.30" y="507.00" width="4.00" height="2.70" fill="#fff"/>
<rect x="188.00" y="428.04" width="5.10" height="3.00" fill="#fff"/>
<rect x="203.00" y="428.04" width="5.10" height="3.00" fill="#fff"/>
<rect x="188.00" y="433.86" width="5.10" height="3.00" fill="#fff"/>
<rect x="203.00" y="433.86" width="5.10" height="3.00" fill="#fff"/>
<rect x="188.00" y="439.68" width="5.10" height="3.00" fill="#fff"/>
<rect x="203.00" y="439.68" width="5.10" height="3.00" fill="#fff"/>
<rect x="188.00" y="445.50" width="5.10" height="3.00" fill="#fff"/>
<rect x="203.00" y="445.50" width="5.10" height="3.00" fill="#fff"/>
<rect x="188.00" y="451.32" width="5.10" height="3.00" fill="#fff"/>
<rect x="203.00" y="451.32" width="5.10" height="3.00" fill="#fff"/>
<rect x="188.00" y="457.14" width="5.10" height="3.00" fill="#fff"/>
<rect x="203.00" y="457.14" width="5.10" height="3.00" fill="#fff"/>
<rect x="188.00" y="462.96" width="5.10" height="3.00" fill="#fff"/>
<rect x="203.00" y="462.96" width="5.10" height="3.00" fill="#fff"/>
<rect x="188.00" y="468.78" width="5.10" height="3.00" fill="#fff"/>
<rect x="203.00" y="468.78" width="5.10" height="3.00" fill="#fff"/>
<rect x="188.00" y="474.60" width="5.10" height="3.00" fill="#fff"/>
<rect x="203.00" y="474.60" width="5.10" height="3.00" fill="#fff"/>
<rect x="188.00" y="480.42" width="5.10" height="3.00" fill="#fff"/>
<rect x="203.00" y="480.42" width="5.10" height="3.00" fill="#fff"/>
<rect x="188.00" y="486.24" width="5.10" height="3.00" fill="#fff"/>
<rect x="203.00" y="486.24" width="5.10" height="3.00" fill="#fff"/>
<rect x="188.00" y="492.06" width="5.10" height="3.00" fill="#fff"/>
<rect x="203.00" y="492.06" width="5.10" height="3.00" fill="#fff"/>
<rect x="188.00" y="497.88" width="5.10" height="3.00" fill="#fff"/>
<rect x="203.00" y="497.88" width="5.10" height="3.00" fill="#fff"/>
<rect x="188.00" y="503.70" width="5.10" height="3.00" fill="#fff"/>
<rect x="203.00" y="503.70" width="5.10" height="3.00" fill="#fff"/>
<rect x="211.90" y="425.10" width="24.60" height="84.60" fill="#000"/>
<rect x="221.40" y="431.10" width="5.60" height="31.90" fill="#fff"/>
<rect x="221.40" y="468.00" width="5.60" height="33.70" fill="#fff"/>
<rect x="222.20" y="507.00" width="4.00" height="2.70" fill="#fff"/>
<rect x="213.90" y="428.04" width="5.10" height="3.00" fill="#fff"/>
<rect x="228.90" y="428.04" width="5.10" height="3.00" fill="#fff"/>
<rect x="213.90" y="433.86" width="5.10" height="3.00" fill="#fff"/>
<rect x="228.90" y="433.86" width="5.10" height="3.00" fill="#fff"/>
<rect x="213.90" y="439.68" width="5.10" height="3.00" fill="#fff"/>
<rect x="228.90" y="439.68" width="5.10" height="3.00" fill="#fff"/>
<rect x="213.90" y="445.50" width="5.10" height="3.00" fill="#fff"/>
<rect x="228.90" y="445.50" width="5.10" height="3.00" fill="#fff"/>
<rect x="213.90" y="451.32" width="5.10" height="3.00" fill="#fff"/>
<rect x="228.90" y="451.32" width="5.10" height="3.00" fill="#fff"/>
<rect x="213.90" y="457.14" width="5.10" height="3.00" fill="#fff"/>
<rect x="228.90" y="457.14" width="5.10" height="3.00" fill="#fff"/>
<rect x="213.90" y="462.96" width="5.10" height="3.00" fill="#fff"/>
<rect x="228.90" y="462.96" width="5.10" height="3.00" fill="#fff"/>
<rect x="213.90" y="468.78" width="5.10" height="3.00" fill="#fff"/>
<rect x="228.90" y="468.78" width="5.10" height="3.00" fill="#fff"/>
<rect x="213.90" y="474.60" width="5.10" height="3.00" fill="#fff"/>
<rect x="228.90" y="474.60" width="5.10" height="3.00" fill="#fff"/>
<rect x="213.90" y="480.42" width="5.10" height="3.00" fill="#fff"/>
<rect x="228.90" y="480.42" width="5.10" height="3.00" fill="#fff"/>
<rect x="213.90" y="486.24" width="5.10" height="3.00" fill="#fff"/>
<rect x="228.90" y="486.24" width="5.10" height="3.00" fill="#fff"/>
<rect x="213.90" y="492.06" width="5.10" height="3.00" fill="#fff"/>
<rect x="228.90" y="492.06" width="5.10" height="3.00" fill="#fff"/>
<rect x="213.90" y="497.88" width="5.10" height="3.00" fill="#fff"/>
<rect x="228.90" y="497.88" width="5.10" height="3.00" fill="#fff"/>
<rect x="213.90" y="503.70" width="5.10" height="3.00" fill="#fff"/>
<rect x="228.90" y="503.70" width="5.10" height="3.00" fill="#fff"/>
<rect x="237.80" y="425.10" width="24.60" height="84.60" fill="#000"/>
<rect x="247.30" y="431.10" width="5.60" height="31.90" fill="#fff"/>
<rect x="247.30" y="468.00" width="5.60" height="33.70" fill="#fff"/>
<rect x="248.10" y="507.00" width="4.00" height="2.70" fill="#fff"/>
<rect x="239.80" y="428.04" width="5.10" height="3.00" fill="#fff"/>
<rect x="254.80" y="428.04" width="5.10" height="3.00" fill="#fff"/>
<rect x="239.80" y="433.86" width="5.10" height="3.00" fill="#fff"/>
<rect x="254.80" y="433.86" width="5.10" height="3.00" fill="#fff"/>
<rect x="239.80" y="439.68" width="5.10" height="3.00" fill="#fff"/>
<rect x="254.80" y="439.68" width="5.10" height="3.00" fill="#fff"/>
<rect x="239.80" y="445.50" width="5.10" height="3.00" fill="#fff"/>
<rect x="254.80" y="445.50" width="5.10" height="3.00" fill="#fff"/>
<rect x="239.80" y="451.32" width="5.10" height="3.00" fill="#fff"/>
<rect x="254.80" y="451.32" width="5.10" height="3.00" fill="#fff"/>
<rect x="239.80" y="457.14" width="5.10" height="3.00" fill="#fff"/>
<rect x="254.80" y="457.14" width="5.10" height="3.00" fill="#fff"/>
<rect x="239.80" y="462.96" width="5.10" height="3.00" fill="#fff"/>
<rect x="254.80" y="462.96" width="5.10" height="3.00" fill="#fff"/>
<rect x="239.80" y="468.78" width="5.10" height="3.00" fill="#fff"/>
<rect x="254.80" y="468.78" width="5.10" height="3.00" fill="#fff"/>
<rect x="239.80" y="474.60" width="5.10" height="3.00" fill="#fff"/>
<rect x="254.80" y="474.60" width="5.10" height="3.00" fill="#fff"/>
<rect x="239.80" y="480.42" width="5.10" height="3.00" fill="#fff"/>
<rect x="254.80" y="480.42" width="5.10" height="3.00" fill="#fff"/>
<rect x="239.80" y="486.24" width="5.10" height="3.00" fill="#fff"/>
<rect x="254.80" y="486.24" width="5.10" height="3.00" fill="#fff"/>
<rect x="239.80" y="492.06" width="5.10" height="3.00" fill="#fff"/>
<rect x="254.80" y="492.06" width="5.10" height="3.00" fill="#fff"/>
<rect x="239.80" y="497.88" width="5.10" height="3.00" fill="#fff"/>
<rect x="254.80" y="497.88" width="5.10" height="3.00" fill="#fff"/>
<rect x="239.80" y="503.70" width="5.10" height="3.00" fill="#fff"/>
<rect x="254.80" y="503.70" width="5.10" height="3.00" fill="#fff"/>
<rect x="263.70" y="425.10" width="24.60" height="84.60" fill="#000"/>
<rect x="273.20" y="431.10" width="5.60" height="31.90" fill="#fff"/>
<rect x="273.20" y="468.00" width="5.60" height="33.70" fill="#fff"/>
<rect x="274.00" y="507.00" width="4.00" height="2.70" fill="#fff"/>
<rect x="265.70" y="428.04" width="5.10" height="3.00" fill="#fff"/>
<rect x="280.70" y="428.04" width="5.10" height="3.00" fill="#fff"/>
<rect x="265.70" y="433.86" width="5.10" height="3.00" fill="#fff"/>
<rect x="280.70" y="433.86" width="5.10" height="3.00" fill="#fff"/>
<rect x="265.70" y="439.68" width="5.10" height="3.00" fill="#fff"/>
<rect x="280.70" y="439.68" width="5.10" height="3.00" fill="#fff"/>
<rect x="265.70" y="445.50" width="5.10" height="3.00" fill="#fff"/>
<rect x="280.70" y="445.50" width="5.10" height="3.00" fill="#fff"/>
<rect x="265.70" y="451.32" width="5.10" height="3.00" fill="#fff"/>
<rect x="280.70" y="451.32" width="5.10" height="3.00" fill="#fff"/>
<rect x="265.70" y="457.14" width="5.10" height="3.00" fill="#fff"/>
<rect x="280.70" y="457.14" width="5.10" height="3.00" fill="#fff"/>
<rect x="265.70" y="462.96" width="5.10" height="3.00" fill="#fff"/>
<rect x="280.70" y="462.96" width="5.10" height="3.00" fill="#fff"/>
<rect x="265.70" y="468.78" width="5.10" height="3.00" fill="#fff"/>
<rect x="280.70" y="468.78" width="5.10" height="3.00" fill="#fff"/>
<rect x="265.70" y="474.60" width="5.10" height="3.00" fill="#fff"/>
<rect x="280.70" y="474.60" width="5.10" height="3.00" fill="#fff"/>
<rect x="265.70" y="480.42" width="5.10" height="3.00" fill="#fff"/>
<rect x="280.70" y="480.42" width="5.10" height="3.00" fill="#fff"/>
<rect x="265.70" y="486.24" width="5.10" height="3.00" fill="#fff"/>
<rect x="280.70" y="486.24" width="5.10" height="3.00" fill="#fff"/>
<rect x="265.70" y="492.06" width="5.10" height="3.00" fill="#fff"/>
<rect x="280.70" y="492.06" width="5.10" height="3.00" fill="#fff"/>
<rect x="265.70" y="497.88" width="5.10" height="3.00" fill="#fff"/>
<rect x="280.70" y="497.88" width="5.10" height="3.00" fill="#fff"/>
<rect x="265.70" y="503.70" width="5.10" height="3.00" fill="#fff"/>
<rect x="280.70" y="503.70" width="5.10" height="3.00" fill="#fff"/>
<rect x="289.60" y="425.10" width="24.60" height="84.60" fill="#000"/>
<rect x="299.10" y="431.10" width="5.60" height="31.90" fill="#fff"/>
<rect x="299.10" y="468.00" width="5.60" height="33.70" fill="#fff"/>
<rect x="299.90" y="507.00" width="4.00" height="2.70" fill="#fff"/>
<rect x="291.60" y="428.04" width="5.10" height="3.00" fill="#fff"/>
<rect x="306.60" y="428.04" width="5.10" height="3.00" fill="#fff"/>
<rect x="291.60" y="433.86" width="5.10" height="3.00" fill="#fff"/>
<rect x="306.60" y="433.86" width="5.10" height="3.00" fill="#fff"/>
<rect x="291.60" y="439.68" width="5.10" height="3.00" fill="#fff"/>
<rect x="306.60" y="439.68" width="5.10" height="3.00" fill="#fff"/>
<rect x="291.60" y="445.50" width="5.10" height="3.00" fill="#fff"/>
<rect x="306.60" y="445.50" width="5.10" height="3.00" fill="#fff"/>
<rect x="291.60" y="451.32" width="5.10" height="3.00" fill="#fff"/>
<rect x="306.60" y="451.32" width="5.10" height="3.00" fill="#fff"/>
<rect x="291.60" y="457.14" width="5.10" height="3.00" fill="#fff"/>
<rect x="306.60" y="457.14" width="5.10" height="3.00" fill="#fff"/>
<rect x="291.60" y="462.96" width="5.10" height="3.00" fill="#fff"/>
<rect x="306.60" y="462.96" width="5.10" height="3.00" fill="#fff"/>
<rect x="291.60" y="468.78" width="5.10" height="3.00" fill="#fff"/>
<rect x="306.60" y="468.78" width="5.10" height="3.00" fill="#fff"/>
<rect x="291.60" y="474.60" width="5.10" height="3.00" fill="#fff"/>
<rect x="306.60" y="474.60" width="5.10" height="3.00" fill="#fff"/>
<rect x="291.60" y="480.42" width="5.10" height="3.00" fill="#fff"/>
<rect x="306.60" y="480.42" width="5.10" height="3.00" fill="#fff"/>
<rect x="291.60" y="486.24" width="5.10" height="3.00" fill="#fff"/>
<rect x="306.60" y="486.24" width="5.10" height="3.00" fill="#fff"/>
<rect x="291.60" y="492.06" width="5.10" height="3.00" fill="#fff"/>
<rect x="306.60" y="492.06" width="5.10" height="3.00" fill="#fff"/>
<rect x="291.60" y="497.88" width="5.10" height="3.00" fill="#fff"/>
<rect x="306.60" y="497.88" width="5.10" height="3.00" fill="#fff"/>
<rect x="291.60" y="503.70" width="5.10" height="3.00" fill="#fff"/>
<rect x="306.60" y="503.70" width="5.10" height="3.00" fill="#fff"/>
<rect x="315.50" y="425.10" width="24.60" height="84.60" fill="#000"/>
<rect x="325.00" y="431.10" width="5.60" height="31.90" fill="#fff"/>
<rect x="325.00" y="468.00" width="5.60" height="33.70" fill="#fff"/>
<rect x="325.80" y="507.00" width="4.00" height="2.70" fill="#fff"/>
<rect x="317.50" y="428.04" width="5.10" height="3.00" fill="#fff"/>
<rect x="332.50" y="428.04" width="5.10" height="3.00" fill="#fff"/>
<rect x="317.50" y="433.86" width="5.10" height="3.00" fill="#fff"/>
<rect x="332.50" y="433.86" width="5.10" height="3.00" fill="#fff"/>
<rect x="317.50" y="439.68" width="5.10" height="3.00" fill="#fff"/>
<rect x="332.50" y="439.68" width="5.10" height="3.00" fill="#fff"/>
<rect x="317.50" y="445.50" width="5.10" height="3.00" fill="#fff"/>
<rect x="332.50" y="445.50" width="5.10" height="3.00" fill="#fff"/>
<rect x="317.50" y="451.32" width="5.10" height="3.00" fill="#fff"/>
<rect x="332.50" y="451.32" width="5.10" height="3.00" fill="#fff"/>
<rect x="317.50" y="457.14" width="5.10" height="3.00" fill="#fff"/>
<rect x="332.50" y="457.14" width="5.10" height="3.00" fill="#fff"/>
<rect x="317.50" y="462.96" width="5.10" height="3.00" fill="#fff"/>
<rect x="332.50" y="462.96" width="5.10" height="3.00" fill="#fff"/>
<rect x="317.50" y="468.78" width="5.10" height="3.00" fill="#fff"/>
<rect x="332.50" y="468.78" width="5.10" height="3.00" fill="#fff"/>
<rect x="317.50" y="474.60" width="5.10" height="3.00" fill="#fff"/>
<rect x="332.50" y="474.60" width="5.10" height="3.00" fill="#fff"/>
<rect x="317.50" y="480.42" width="5.10" height="3.00" fill="#fff"/>
<rect x="332.50" y="480.42" width="5.10" height="3.00" fill="#fff"/>
<rect x="317.50" y="486.24" width="5.10" height="3.00" fill="#fff"/>
<rect x="332.50" y="486.24" width="5.10" height="3.00" fill="#fff"/>
<rect x="317.50" y="492.06" width="5.10" height="3.00" fill="#fff"/>
<rect x="332.50" y="492.06" width="5.10" height="3.00" fill="#fff"/>
<rect x="317.50" y="497.88" width="5.10" height="3.00" fill="#fff"/>
<rect x="332.50" y="497.88" width="5.10" height="3.00" fill="#fff"/>
<rect x="317.50" y="503.70" width="5.10" height="3.00" fill="#fff"/>
<rect x="332.50" y="503.70" width="5.10" height="3.00" fill="#fff"/>
<rect x="341.40" y="425.10" width="24.60" height="84.60" fill="#000"/>
<rect x="350.90" y="431.10" width="5.60" height="31.90" fill="#fff"/>
<rect x="350.90" y="468.00" width="5.60" height="33.70" fill="#fff"/>
<rect x="351.70" y="507.00" width="4.00" height="2.70" fill="#fff"/>
<rect x="343.40" y="428.04" width="5.10" height="3.00" fill="#fff"/>
<rect x="358.40" y="428.04" width="5.10" height="3.00" fill="#fff"/>
<rect x="343.40" y="433.86" width="5.10" height="3.00" fill="#fff"/>
<rect x="358.40" y="433.86" width="5.10" height="3.00" fill="#fff"/>
<rect x="343.40" y="439.68" width="5.10" height="3.00" fill="#fff"/>
<rect x="358.40" y="439.68" width="5.10" height="3.00" fill="#fff"/>
<rect x="343.40" y="445.50" width="5.10" height="3.00" fill="#fff"/>
<rect x="358.40" y="445.50" width="5.10" height="3.00" fill="#fff"/>
<rect x="343.40" y="451.32" width="5.10" height="3.00" fill="#fff"/>
<rect x="358.40" y="451.32" width="5.10" height="3.00" fill="#fff"/>
<rect x="343.40" y="457.14" width="5.10" height="3.00" fill="#fff"/>
<rect x="358.40" y="457.14" width="5.10" height="3.00" fill="#fff"/>
<rect x="343.40" y="462.96" width="5.10" height="3.00" fill="#fff"/>
<rect x="358.40" y="462.96" width="5.10" height="3.00" fill="#fff"/>
<rect x="343.40" y="468.78" width="5.10" height="3.00" fill="#fff"/>
<rect x="358.40" y="468.78" width="5.10" height="3.00" fill="#fff"/>
<rect x="343.40" y="474.60" width="5.10" height="3.00" fill="#fff"/>
<rect x="358.40" y="474.60" width="5.10" height="3.00" fill="#fff"/>
<rect x="343.40" y="480.42" width="5.10" height="3.00" fill="#fff"/>
<rect x="358.40" y="480.42" width="5.10" height="3.00" fill="#fff"/>
<rect x="343.40" y="486.24" width="5.10" height="3.00" fill="#fff"/>
<rect x="358.40" y="486.24" width="5.10" height="3.00" fill="#fff"/>
<rect x="343.40" y="492.06" width="5.10" height="3.00" fill="#fff"/>
<rect x="358.40" y="492.06" width="5.10" height="3.00" fill="#fff"/>
<rect x="343.40" y="497.88" width="5.10" height="3.00" fill="#fff"/>
<rect x="358.40" y="497.88" width="5.10" height="3.00" fill="#fff"/>
<rect x="343.40" y="503.70" width="5.10" height="3.00" fill="#fff"/>
<rect x="358.40" y="503.70" width="5.10" height="3.00" fill="#fff"/>
<rect x="367.30" y="425.10" width="24.60" height="84.60" fill="#000"/>
<rect x="376.80" y="431.10" width="5.60" height="31.90" fill="#fff"/>
<rect x="376.80" y="468.00" width="5.60" height="33.70" fill="#fff"/>
<rect x="377.60" y="507.00" width="4.00" height="2.70" fill="#fff"/>
<rect x="369.30" y="428.04" width="5.10" height="3.00" fill="#fff"/>
<rect x="384.30" y="428.04" width="5.10" height="3.00" fill="#fff"/>
<rect x="369.30" y="433.86" width="5.10" height="3.00" fill="#fff"/>
<rect x="384.30" y="433.86" width="5.10" height="3.00" fill="#fff"/>
<rect x="369.30" y="439.68" width="5.10" height="3.00" fill="#fff"/>
<rect x="384.30" y="439.68" width="5.10" height="3.00" fill="#fff"/>
<rect x="369.30" y="445.50" width="5.10" height="3.00" fill="#fff"/>
<rect x="384.30" y="445.50" width="5.10" height="3.00" fill="#fff"/>
<rect x="369.30" y="451.32" width="5.10" height="3.00" fill="#fff"/>
<rect x="384.30" y="451.32" width="5.10" height="3.00" fill="#fff"/>
<rect x="369.30" y="457.14" width="5.10" height="3.00" fill="#fff"/>
<rect x="384.30" y="457.14" width="5.10" height="3.00" fill="#fff"/>
<rect x="369.30" y="462.96" width="5.10" height="3.00" fill="#fff"/>
<rect x="384.30" y="462.96" width="5.10" height="3.00" fill="#fff"/>
<rect x="369.30" y="468.78" width="5.10" height="3.00" fill="#fff"/>
<rect x="384.30" y="468.78" width="5.10" height="3.00" fill="#fff"/>
<rect x="369.30" y="474.60" width="5.10" height="3.00" fill="#fff"/>
<rect x="384.30" y="474.60" width="5.10" height="3.00" fill="#fff"/>
<rect x="369.30" y="480.42" width="5.10" height="3.00" fill="#fff"/>
<rect x="384.30" y="480.42" width="5.10" height="3.00" fill="#fff"/>
<rect x="369.30" y="486.24" width="5.10" height="3.00" fill="#fff"/>
<rect x="384.30" y="486.24" width="5.10" height="3.00" fill="#fff"/>
<rect x="369.30" y="492.06" width="5.10" height="3.00" fill="#fff"/>
<rect x="384.30" y="492.06" width="5.10" height="3.00" fill="#fff"/>
<rect x="369.30" y="497.88" width="5.10" height="3.00" fill="#fff"/>
<rect x="384.30" y="497.88" width="5.10" height="3.00" fill="#fff"/>
<rect x="369.30" y="503.70" width="5.10" height="3.00" fill="#fff"/>
<rect x="384.30" y="503.70" width="5.10" height="3.00" fill="#fff"/>
<polygon points="209.50,459.10 263.70,459.10 265.70,461.10 265.70,473.60 263.70,475.60 209.50,475.60 207.50,473.60 207.50,461.10" fill="#000"/>
<rect x="209.50" y="461.10" width="54.20" height="12.50" fill="#fff"/>
<g fill="none" stroke="#000" stroke-width="1.0" stroke-linejoin="miter" stroke-linecap="square" shape-rendering="auto"><polyline points="214.50,462.50 217.86,462.50 218.70,463.50 218.70,465.50 217.86,466.50 214.50,466.50"/><polyline points="217.86,466.50 218.70,467.50 218.70,470.50 217.86,471.50 214.50,471.50 214.50,462.50"/><polyline points="222.50,471.50 225.40,462.50 228.30,471.50"/><polyline points="223.47,468.50 227.33,468.50"/><polyline points="231.50,471.50 231.50,462.50 236.10,471.50 236.10,462.50"/><polyline points="240.50,462.50 240.50,471.50"/><polyline points="245.70,462.50 240.50,468.50"/><polyline points="242.58,466.50 245.70,471.50"/><polyline points="257.75,462.50 260.00,465.00 260.00,469.00 257.75,471.50 255.50,469.00 255.50,465.00 257.75,462.50"/></g>
<polygon points="314.00,459.10 368.60,459.10 370.60,461.10 370.60,473.60 368.60,475.60 314.00,475.60 312.00,473.60 312.00,461.10" fill="#000"/>
<rect x="314.00" y="461.10" width="54.60" height="12.50" fill="#fff"/>
<g fill="none" stroke="#000" stroke-width="1.0" stroke-linejoin="miter" stroke-linecap="square" shape-rendering="auto"><polyline points="319.50,462.50 322.86,462.50 323.70,463.50 323.70,465.50 322.86,466.50 319.50,466.50"/><polyline points="322.86,466.50 323.70,467.50 323.70,470.50 322.86,471.50 319.50,471.50 319.50,462.50"/><polyline points="327.50,471.50 330.40,462.50 333.30,471.50"/><polyline points="328.47,468.50 332.33,468.50"/><polyline points="337.50,471.50 337.50,462.50 342.10,471.50 342.10,462.50"/><polyline points="346.50,462.50 346.50,471.50"/><polyline points="351.70,462.50 346.50,468.50"/><polyline points="348.58,466.50 351.70,471.50"/><polyline points="361.50,464.50 362.40,464.50 363.30,463.50"/><polyline points="363.30,462.50 363.30,471.50"/></g>
<rect x="192.00" y="408.00" width="19.00" height="7.00" fill="#000"/>
<rect x="193.00" y="409.00" width="17.00" height="1.00" fill="#fff"/>
<rect x="193.00" y="409.00" width="1.00" height="5.00" fill="#fff"/>
<rect x="198.00" y="409.00" width="1.00" height="5.00" fill="#fff"/>
<rect x="204.00" y="409.00" width="1.00" height="5.00" fill="#fff"/>
<rect x="195.00" y="411.00" width="2.00" height="2.00" fill="#fff"/>
<rect x="218.00" y="408.00" width="19.00" height="7.00" fill="#000"/>
<rect x="219.00" y="409.00" width="17.00" height="1.00" fill="#fff"/>
<rect x="219.00" y="409.00" width="1.00" height="5.00" fill="#fff"/>
<rect x="224.00" y="409.00" width="1.00" height="5.00" fill="#fff"/>
<rect x="230.00" y="409.00" width="1.00" height="5.00" fill="#fff"/>
<rect x="221.00" y="411.00" width="2.00" height="2.00" fill="#fff"/>
<polygon points="219.10,384.90 250.00,384.90 252.00,386.90 252.00,401.90 250.00,403.90 219.10,403.90 217.10,401.90 217.10,386.90" fill="#000"/>
<rect x="219.10" y="386.90" width="30.30" height="14.40" fill="#fff"/>
<g fill="none" stroke="#000" stroke-width="1.0" stroke-linejoin="miter" stroke-linecap="square" shape-rendering="auto"><polyline points="221.50,387.50 221.50,393.50 223.32,396.50 225.15,393.50 225.15,387.50"/><polyline points="225.15,393.50 226.97,396.50 228.80,393.50 228.80,387.50"/><polyline points="232.50,389.50 233.40,389.50 234.30,388.50"/><polyline points="234.30,387.50 234.30,396.50"/><polyline points="244.10,396.50 244.10,387.50 240.50,393.50 240.50,394.50 245.00,394.50"/></g>
<g shape-rendering="auto">
<polygon points="217.80,401.20 210.50,408.50 220.30,404.00" fill="#fff"/>
<polyline points="217.80,401.20 210.50,408.50 220.30,404.00" fill="none" stroke="#000" stroke-width="1.6" stroke-linejoin="miter"/>
<line x1="210.50" y1="408.50" x2="213.92" y2="406.14" stroke="#000" stroke-width="2.6"/>
</g>
<polygon points="253.90,401.90 284.80,401.90 286.80,403.90 286.80,418.80 284.80,420.80 253.90,420.80 251.90,418.80 251.90,403.90" fill="#000"/>
<rect x="253.90" y="403.90" width="30.90" height="14.90" fill="#fff"/>
<g fill="none" stroke="#000" stroke-width="1.0" stroke-linejoin="miter" stroke-linecap="square" shape-rendering="auto"><polyline points="256.50,404.50 256.50,410.50 258.32,413.50 260.15,410.50 260.15,404.50"/><polyline points="260.15,410.50 261.98,413.50 263.80,410.50 263.80,404.50"/><polyline points="267.50,406.50 268.40,406.50 269.30,405.50"/><polyline points="269.30,404.50 269.30,413.50"/><polyline points="274.50,405.50 275.40,404.50 278.10,404.50 279.00,405.50 279.00,407.50 278.10,408.50 276.30,408.50"/><polyline points="278.10,408.50 279.00,409.50 279.00,412.50 278.10,413.50 275.40,413.50 274.50,412.50"/></g>
<rect x="250.20" y="406.00" width="3.80" height="10.20" fill="#fff"/>
<g shape-rendering="auto">
<polygon points="251.40,406.00 244.70,411.50 251.40,416.20" fill="#fff"/>
<polyline points="251.40,406.00 244.70,411.50 251.40,416.20" fill="none" stroke="#000" stroke-width="1.8" stroke-linejoin="miter"/>
<line x1="236.80" y1="411.50" x2="244.70" y2="411.50" stroke="#000" stroke-width="3.2"/>
</g>
<g shape-rendering="auto">
<polyline points="183.20,507.30 190.70,513.40 286.50,513.40 295.80,518.00 305.20,513.40 390.40,513.40 396.20,506.50" fill="none" stroke="#000" stroke-width="1.2" stroke-linejoin="miter"/>
</g>
<rect x="40.00" y="525.00" width="781.00" height="1.00" fill="#000"/>
<polygon points="272.00,519.20 318.00,519.20 320.00,521.20 320.00,536.00 318.00,538.00 272.00,538.00 270.00,536.00 270.00,521.20" fill="#000"/>
<rect x="272.00" y="521.20" width="45.40" height="14.20" fill="#fff"/>
<g fill="none" stroke="#000" stroke-width="1.0" stroke-linejoin="miter" stroke-linecap="square" shape-rendering="auto"><polyline points="278.10,523.50 277.18,522.50 274.42,522.50 273.50,523.50 273.50,530.50 274.42,531.50 277.18,531.50 278.10,530.50"/><polyline points="282.50,531.50 285.40,522.50 288.30,531.50"/><polyline points="283.47,528.50 287.33,528.50"/><polyline points="298.10,523.50 297.18,522.50 294.42,522.50 293.50,523.50 293.50,530.50 294.42,531.50 297.18,531.50 298.10,530.50"/><polyline points="302.50,522.50 302.50,531.50"/><polyline points="307.10,522.50 307.10,531.50"/><polyline points="302.50,526.50 307.10,526.50"/><polyline points="315.70,522.50 311.50,522.50 311.50,531.50 315.70,531.50"/><polyline points="311.50,526.50 314.86,526.50"/></g>
<rect x="469.00" y="364.00" width="227.00" height="18.60" fill="#000"/>
<rect x="470.00" y="365.00" width="225.00" height="16.80" fill="#fff"/>
<rect x="476.00" y="365.00" width="4.40" height="15.50" fill="#000"/>
<rect x="470.00" y="371.00" width="6.00" height="1.00" fill="#000"/>
<rect x="470.00" y="378.00" width="6.00" height="1.00" fill="#000"/>
<rect x="683.50" y="365.00" width="3.30" height="15.50" fill="#000"/>
<rect x="686.80" y="371.00" width="8.20" height="1.00" fill="#000"/>
<rect x="686.80" y="378.00" width="8.20" height="1.20" fill="#000"/>
<g fill="none" stroke="#000" stroke-width="1">
<rect x="674.00" y="370.50" width="9.00" height="9.50"/>
<polyline points="676.80,370.50 676.80,366.00 683.50,366.00" fill="none" stroke="#000" stroke-width="1" stroke-linejoin="miter"/>
<polyline points="676.80,372.50 680.00,372.50 680.00,369.50 683.50,369.50" fill="none" stroke="#000" stroke-width="1" stroke-linejoin="miter"/>
<polyline points="480.00,369.80 483.60,369.80 483.60,372.60 487.60,372.60 487.60,365.00" fill="none" stroke="#000" stroke-width="1" stroke-linejoin="miter"/>
<polyline points="481.40,369.80 481.40,380.00 489.60,380.00 489.60,370.80 487.60,370.80" fill="none" stroke="#000" stroke-width="1" stroke-linejoin="miter"/>
</g>
<rect x="494.40" y="366.00" width="174.60" height="14.40" fill="#000"/>
<rect x="498.70" y="367.00" width="1.40" height="4.00" fill="#fff"/>
<rect x="497.10" y="373.00" width="3.80" height="6.00" fill="#fff"/>
<rect x="504.42" y="367.00" width="1.40" height="4.00" fill="#fff"/>
<rect x="502.82" y="373.00" width="3.80" height="6.00" fill="#fff"/>
<rect x="510.14" y="367.00" width="1.40" height="4.00" fill="#fff"/>
<rect x="508.54" y="373.00" width="3.80" height="6.00" fill="#fff"/>
<rect x="515.86" y="367.00" width="1.40" height="4.00" fill="#fff"/>
<rect x="514.26" y="373.00" width="3.80" height="6.00" fill="#fff"/>
<rect x="521.58" y="367.00" width="1.40" height="4.00" fill="#fff"/>
<rect x="519.98" y="373.00" width="3.80" height="6.00" fill="#fff"/>
<rect x="527.30" y="367.00" width="1.40" height="4.00" fill="#fff"/>
<rect x="525.70" y="373.00" width="3.80" height="6.00" fill="#fff"/>
<rect x="533.02" y="367.00" width="1.40" height="4.00" fill="#fff"/>
<rect x="531.42" y="373.00" width="3.80" height="6.00" fill="#fff"/>
<rect x="538.74" y="367.00" width="1.40" height="4.00" fill="#fff"/>
<rect x="537.14" y="373.00" width="3.80" height="6.00" fill="#fff"/>
<rect x="544.46" y="367.00" width="1.40" height="4.00" fill="#fff"/>
<rect x="542.86" y="373.00" width="3.80" height="6.00" fill="#fff"/>
<rect x="550.18" y="367.00" width="1.40" height="4.00" fill="#fff"/>
<rect x="548.58" y="373.00" width="3.80" height="6.00" fill="#fff"/>
<rect x="555.90" y="367.00" width="1.40" height="4.00" fill="#fff"/>
<rect x="554.30" y="373.00" width="3.80" height="6.00" fill="#fff"/>
<rect x="561.62" y="367.00" width="1.40" height="4.00" fill="#fff"/>
<rect x="560.02" y="373.00" width="3.80" height="6.00" fill="#fff"/>
<rect x="567.34" y="367.00" width="1.40" height="4.00" fill="#fff"/>
<rect x="565.74" y="373.00" width="3.80" height="6.00" fill="#fff"/>
<rect x="573.06" y="367.00" width="1.40" height="4.00" fill="#fff"/>
<rect x="571.46" y="373.00" width="3.80" height="6.00" fill="#fff"/>
<rect x="578.78" y="367.00" width="1.40" height="4.00" fill="#fff"/>
<rect x="577.18" y="373.00" width="3.80" height="6.00" fill="#fff"/>
<rect x="584.50" y="367.00" width="1.40" height="4.00" fill="#fff"/>
<rect x="582.90" y="373.00" width="3.80" height="6.00" fill="#fff"/>
<rect x="590.22" y="367.00" width="1.40" height="4.00" fill="#fff"/>
<rect x="588.62" y="373.00" width="3.80" height="6.00" fill="#fff"/>
<rect x="595.94" y="367.00" width="1.40" height="4.00" fill="#fff"/>
<rect x="594.34" y="373.00" width="3.80" height="6.00" fill="#fff"/>
<rect x="601.66" y="367.00" width="1.40" height="4.00" fill="#fff"/>
<rect x="600.06" y="373.00" width="3.80" height="6.00" fill="#fff"/>
<rect x="607.38" y="367.00" width="1.40" height="4.00" fill="#fff"/>
<rect x="605.78" y="373.00" width="3.80" height="6.00" fill="#fff"/>
<rect x="613.10" y="367.00" width="1.40" height="4.00" fill="#fff"/>
<rect x="611.50" y="373.00" width="3.80" height="6.00" fill="#fff"/>
<rect x="618.82" y="367.00" width="1.40" height="4.00" fill="#fff"/>
<rect x="617.22" y="373.00" width="3.80" height="6.00" fill="#fff"/>
<rect x="624.54" y="367.00" width="1.40" height="4.00" fill="#fff"/>
<rect x="622.94" y="373.00" width="3.80" height="6.00" fill="#fff"/>
<rect x="630.26" y="367.00" width="1.40" height="4.00" fill="#fff"/>
<rect x="628.66" y="373.00" width="3.80" height="6.00" fill="#fff"/>
<rect x="635.98" y="367.00" width="1.40" height="4.00" fill="#fff"/>
<rect x="634.38" y="373.00" width="3.80" height="6.00" fill="#fff"/>
<rect x="641.70" y="367.00" width="1.40" height="4.00" fill="#fff"/>
<rect x="640.10" y="373.00" width="3.80" height="6.00" fill="#fff"/>
<rect x="647.42" y="367.00" width="1.40" height="4.00" fill="#fff"/>
<rect x="645.82" y="373.00" width="3.80" height="6.00" fill="#fff"/>
<rect x="653.14" y="367.00" width="1.40" height="4.00" fill="#fff"/>
<rect x="651.54" y="373.00" width="3.80" height="6.00" fill="#fff"/>
<rect x="658.86" y="367.00" width="1.40" height="4.00" fill="#fff"/>
<rect x="657.26" y="373.00" width="3.80" height="6.00" fill="#fff"/>
<rect x="664.58" y="367.00" width="1.40" height="4.00" fill="#fff"/>
<rect x="662.98" y="373.00" width="3.80" height="6.00" fill="#fff"/>
<rect x="469.00" y="383.93" width="227.00" height="18.60" fill="#000"/>
<rect x="470.00" y="384.93" width="225.00" height="16.80" fill="#fff"/>
<rect x="476.00" y="384.93" width="4.40" height="15.50" fill="#000"/>
<rect x="470.00" y="390.93" width="6.00" height="1.00" fill="#000"/>
<rect x="470.00" y="397.93" width="6.00" height="1.00" fill="#000"/>
<rect x="683.50" y="384.93" width="3.30" height="15.50" fill="#000"/>
<rect x="686.80" y="390.93" width="8.20" height="1.00" fill="#000"/>
<rect x="686.80" y="397.93" width="8.20" height="1.20" fill="#000"/>
<g fill="none" stroke="#000" stroke-width="1">
<rect x="674.00" y="390.43" width="9.00" height="9.50"/>
<polyline points="676.80,390.43 676.80,385.93 683.50,385.93" fill="none" stroke="#000" stroke-width="1" stroke-linejoin="miter"/>
<polyline points="676.80,392.43 680.00,392.43 680.00,389.43 683.50,389.43" fill="none" stroke="#000" stroke-width="1" stroke-linejoin="miter"/>
<polyline points="480.00,389.73 483.60,389.73 483.60,392.53 487.60,392.53 487.60,384.93" fill="none" stroke="#000" stroke-width="1" stroke-linejoin="miter"/>
<polyline points="481.40,389.73 481.40,399.93 489.60,399.93 489.60,390.73 487.60,390.73" fill="none" stroke="#000" stroke-width="1" stroke-linejoin="miter"/>
</g>
<rect x="494.40" y="385.93" width="174.60" height="14.40" fill="#000"/>
<rect x="498.70" y="386.93" width="1.40" height="4.00" fill="#fff"/>
<rect x="497.10" y="392.93" width="3.80" height="6.00" fill="#fff"/>
<rect x="504.42" y="386.93" width="1.40" height="4.00" fill="#fff"/>
<rect x="502.82" y="392.93" width="3.80" height="6.00" fill="#fff"/>
<rect x="510.14" y="386.93" width="1.40" height="4.00" fill="#fff"/>
<rect x="508.54" y="392.93" width="3.80" height="6.00" fill="#fff"/>
<rect x="515.86" y="386.93" width="1.40" height="4.00" fill="#fff"/>
<rect x="514.26" y="392.93" width="3.80" height="6.00" fill="#fff"/>
<rect x="521.58" y="386.93" width="1.40" height="4.00" fill="#fff"/>
<rect x="519.98" y="392.93" width="3.80" height="6.00" fill="#fff"/>
<rect x="527.30" y="386.93" width="1.40" height="4.00" fill="#fff"/>
<rect x="525.70" y="392.93" width="3.80" height="6.00" fill="#fff"/>
<rect x="533.02" y="386.93" width="1.40" height="4.00" fill="#fff"/>
<rect x="531.42" y="392.93" width="3.80" height="6.00" fill="#fff"/>
<rect x="538.74" y="386.93" width="1.40" height="4.00" fill="#fff"/>
<rect x="537.14" y="392.93" width="3.80" height="6.00" fill="#fff"/>
<rect x="544.46" y="386.93" width="1.40" height="4.00" fill="#fff"/>
<rect x="542.86" y="392.93" width="3.80" height="6.00" fill="#fff"/>
<rect x="550.18" y="386.93" width="1.40" height="4.00" fill="#fff"/>
<rect x="548.58" y="392.93" width="3.80" height="6.00" fill="#fff"/>
<rect x="555.90" y="386.93" width="1.40" height="4.00" fill="#fff"/>
<rect x="554.30" y="392.93" width="3.80" height="6.00" fill="#fff"/>
<rect x="561.62" y="386.93" width="1.40" height="4.00" fill="#fff"/>
<rect x="560.02" y="392.93" width="3.80" height="6.00" fill="#fff"/>
<rect x="567.34" y="386.93" width="1.40" height="4.00" fill="#fff"/>
<rect x="565.74" y="392.93" width="3.80" height="6.00" fill="#fff"/>
<rect x="573.06" y="386.93" width="1.40" height="4.00" fill="#fff"/>
<rect x="571.46" y="392.93" width="3.80" height="6.00" fill="#fff"/>
<rect x="578.78" y="386.93" width="1.40" height="4.00" fill="#fff"/>
<rect x="577.18" y="392.93" width="3.80" height="6.00" fill="#fff"/>
<rect x="584.50" y="386.93" width="1.40" height="4.00" fill="#fff"/>
<rect x="582.90" y="392.93" width="3.80" height="6.00" fill="#fff"/>
<rect x="590.22" y="386.93" width="1.40" height="4.00" fill="#fff"/>
<rect x="588.62" y="392.93" width="3.80" height="6.00" fill="#fff"/>
<rect x="595.94" y="386.93" width="1.40" height="4.00" fill="#fff"/>
<rect x="594.34" y="392.93" width="3.80" height="6.00" fill="#fff"/>
<rect x="601.66" y="386.93" width="1.40" height="4.00" fill="#fff"/>
<rect x="600.06" y="392.93" width="3.80" height="6.00" fill="#fff"/>
<rect x="607.38" y="386.93" width="1.40" height="4.00" fill="#fff"/>
<rect x="605.78" y="392.93" width="3.80" height="6.00" fill="#fff"/>
<rect x="613.10" y="386.93" width="1.40" height="4.00" fill="#fff"/>
<rect x="611.50" y="392.93" width="3.80" height="6.00" fill="#fff"/>
<rect x="618.82" y="386.93" width="1.40" height="4.00" fill="#fff"/>
<rect x="617.22" y="392.93" width="3.80" height="6.00" fill="#fff"/>
<rect x="624.54" y="386.93" width="1.40" height="4.00" fill="#fff"/>
<rect x="622.94" y="392.93" width="3.80" height="6.00" fill="#fff"/>
<rect x="630.26" y="386.93" width="1.40" height="4.00" fill="#fff"/>
<rect x="628.66" y="392.93" width="3.80" height="6.00" fill="#fff"/>
<rect x="635.98" y="386.93" width="1.40" height="4.00" fill="#fff"/>
<rect x="634.38" y="392.93" width="3.80" height="6.00" fill="#fff"/>
<rect x="641.70" y="386.93" width="1.40" height="4.00" fill="#fff"/>
<rect x="640.10" y="392.93" width="3.80" height="6.00" fill="#fff"/>
<rect x="647.42" y="386.93" width="1.40" height="4.00" fill="#fff"/>
<rect x="645.82" y="392.93" width="3.80" height="6.00" fill="#fff"/>
<rect x="653.14" y="386.93" width="1.40" height="4.00" fill="#fff"/>
<rect x="651.54" y="392.93" width="3.80" height="6.00" fill="#fff"/>
<rect x="658.86" y="386.93" width="1.40" height="4.00" fill="#fff"/>
<rect x="657.26" y="392.93" width="3.80" height="6.00" fill="#fff"/>
<rect x="664.58" y="386.93" width="1.40" height="4.00" fill="#fff"/>
<rect x="662.98" y="392.93" width="3.80" height="6.00" fill="#fff"/>
<rect x="469.00" y="403.86" width="227.00" height="18.60" fill="#000"/>
<rect x="470.00" y="404.86" width="225.00" height="16.80" fill="#fff"/>
<rect x="476.00" y="404.86" width="4.40" height="15.50" fill="#000"/>
<rect x="470.00" y="410.86" width="6.00" height="1.00" fill="#000"/>
<rect x="470.00" y="417.86" width="6.00" height="1.00" fill="#000"/>
<rect x="683.50" y="404.86" width="3.30" height="15.50" fill="#000"/>
<rect x="686.80" y="410.86" width="8.20" height="1.00" fill="#000"/>
<rect x="686.80" y="417.86" width="8.20" height="1.20" fill="#000"/>
<g fill="none" stroke="#000" stroke-width="1">
<rect x="674.00" y="410.36" width="9.00" height="9.50"/>
<polyline points="676.80,410.36 676.80,405.86 683.50,405.86" fill="none" stroke="#000" stroke-width="1" stroke-linejoin="miter"/>
<polyline points="676.80,412.36 680.00,412.36 680.00,409.36 683.50,409.36" fill="none" stroke="#000" stroke-width="1" stroke-linejoin="miter"/>
<polyline points="480.00,409.66 483.60,409.66 483.60,412.46 487.60,412.46 487.60,404.86" fill="none" stroke="#000" stroke-width="1" stroke-linejoin="miter"/>
<polyline points="481.40,409.66 481.40,419.86 489.60,419.86 489.60,410.66 487.60,410.66" fill="none" stroke="#000" stroke-width="1" stroke-linejoin="miter"/>
</g>
<rect x="494.40" y="405.86" width="174.60" height="14.40" fill="#000"/>
<rect x="498.70" y="406.86" width="1.40" height="4.00" fill="#fff"/>
<rect x="497.10" y="412.86" width="3.80" height="6.00" fill="#fff"/>
<rect x="504.42" y="406.86" width="1.40" height="4.00" fill="#fff"/>
<rect x="502.82" y="412.86" width="3.80" height="6.00" fill="#fff"/>
<rect x="510.14" y="406.86" width="1.40" height="4.00" fill="#fff"/>
<rect x="508.54" y="412.86" width="3.80" height="6.00" fill="#fff"/>
<rect x="515.86" y="406.86" width="1.40" height="4.00" fill="#fff"/>
<rect x="514.26" y="412.86" width="3.80" height="6.00" fill="#fff"/>
<rect x="521.58" y="406.86" width="1.40" height="4.00" fill="#fff"/>
<rect x="519.98" y="412.86" width="3.80" height="6.00" fill="#fff"/>
<rect x="527.30" y="406.86" width="1.40" height="4.00" fill="#fff"/>
<rect x="525.70" y="412.86" width="3.80" height="6.00" fill="#fff"/>
<rect x="533.02" y="406.86" width="1.40" height="4.00" fill="#fff"/>
<rect x="531.42" y="412.86" width="3.80" height="6.00" fill="#fff"/>
<rect x="538.74" y="406.86" width="1.40" height="4.00" fill="#fff"/>
<rect x="537.14" y="412.86" width="3.80" height="6.00" fill="#fff"/>
<rect x="544.46" y="406.86" width="1.40" height="4.00" fill="#fff"/>
<rect x="542.86" y="412.86" width="3.80" height="6.00" fill="#fff"/>
<rect x="550.18" y="406.86" width="1.40" height="4.00" fill="#fff"/>
<rect x="548.58" y="412.86" width="3.80" height="6.00" fill="#fff"/>
<rect x="555.90" y="406.86" width="1.40" height="4.00" fill="#fff"/>
<rect x="554.30" y="412.86" width="3.80" height="6.00" fill="#fff"/>
<rect x="561.62" y="406.86" width="1.40" height="4.00" fill="#fff"/>
<rect x="560.02" y="412.86" width="3.80" height="6.00" fill="#fff"/>
<rect x="567.34" y="406.86" width="1.40" height="4.00" fill="#fff"/>
<rect x="565.74" y="412.86" width="3.80" height="6.00" fill="#fff"/>
<rect x="573.06" y="406.86" width="1.40" height="4.00" fill="#fff"/>
<rect x="571.46" y="412.86" width="3.80" height="6.00" fill="#fff"/>
<rect x="578.78" y="406.86" width="1.40" height="4.00" fill="#fff"/>
<rect x="577.18" y="412.86" width="3.80" height="6.00" fill="#fff"/>
<rect x="584.50" y="406.86" width="1.40" height="4.00" fill="#fff"/>
<rect x="582.90" y="412.86" width="3.80" height="6.00" fill="#fff"/>
<rect x="590.22" y="406.86" width="1.40" height="4.00" fill="#fff"/>
<rect x="588.62" y="412.86" width="3.80" height="6.00" fill="#fff"/>
<rect x="595.94" y="406.86" width="1.40" height="4.00" fill="#fff"/>
<rect x="594.34" y="412.86" width="3.80" height="6.00" fill="#fff"/>
<rect x="601.66" y="406.86" width="1.40" height="4.00" fill="#fff"/>
<rect x="600.06" y="412.86" width="3.80" height="6.00" fill="#fff"/>
<rect x="607.38" y="406.86" width="1.40" height="4.00" fill="#fff"/>
<rect x="605.78" y="412.86" width="3.80" height="6.00" fill="#fff"/>
<rect x="613.10" y="406.86" width="1.40" height="4.00" fill="#fff"/>
<rect x="611.50" y="412.86" width="3.80" height="6.00" fill="#fff"/>
<rect x="618.82" y="406.86" width="1.40" height="4.00" fill="#fff"/>
<rect x="617.22" y="412.86" width="3.80" height="6.00" fill="#fff"/>
<rect x="624.54" y="406.86" width="1.40" height="4.00" fill="#fff"/>
<rect x="622.94" y="412.86" width="3.80" height="6.00" fill="#fff"/>
<rect x="630.26" y="406.86" width="1.40" height="4.00" fill="#fff"/>
<rect x="628.66" y="412.86" width="3.80" height="6.00" fill="#fff"/>
<rect x="635.98" y="406.86" width="1.40" height="4.00" fill="#fff"/>
<rect x="634.38" y="412.86" width="3.80" height="6.00" fill="#fff"/>
<rect x="641.70" y="406.86" width="1.40" height="4.00" fill="#fff"/>
<rect x="640.10" y="412.86" width="3.80" height="6.00" fill="#fff"/>
<rect x="647.42" y="406.86" width="1.40" height="4.00" fill="#fff"/>
<rect x="645.82" y="412.86" width="3.80" height="6.00" fill="#fff"/>
<rect x="653.14" y="406.86" width="1.40" height="4.00" fill="#fff"/>
<rect x="651.54" y="412.86" width="3.80" height="6.00" fill="#fff"/>
<rect x="658.86" y="406.86" width="1.40" height="4.00" fill="#fff"/>
<rect x="657.26" y="412.86" width="3.80" height="6.00" fill="#fff"/>
<rect x="664.58" y="406.86" width="1.40" height="4.00" fill="#fff"/>
<rect x="662.98" y="412.86" width="3.80" height="6.00" fill="#fff"/>
<rect x="469.00" y="423.79" width="227.00" height="18.60" fill="#000"/>
<rect x="470.00" y="424.79" width="225.00" height="16.80" fill="#fff"/>
<rect x="476.00" y="424.79" width="4.40" height="15.50" fill="#000"/>
<rect x="470.00" y="430.79" width="6.00" height="1.00" fill="#000"/>
<rect x="470.00" y="437.79" width="6.00" height="1.00" fill="#000"/>
<rect x="683.50" y="424.79" width="3.30" height="15.50" fill="#000"/>
<rect x="686.80" y="430.79" width="8.20" height="1.00" fill="#000"/>
<rect x="686.80" y="437.79" width="8.20" height="1.20" fill="#000"/>
<g fill="none" stroke="#000" stroke-width="1">
<rect x="674.00" y="430.29" width="9.00" height="9.50"/>
<polyline points="676.80,430.29 676.80,425.79 683.50,425.79" fill="none" stroke="#000" stroke-width="1" stroke-linejoin="miter"/>
<polyline points="676.80,432.29 680.00,432.29 680.00,429.29 683.50,429.29" fill="none" stroke="#000" stroke-width="1" stroke-linejoin="miter"/>
<polyline points="480.00,429.59 483.60,429.59 483.60,432.39 487.60,432.39 487.60,424.79" fill="none" stroke="#000" stroke-width="1" stroke-linejoin="miter"/>
<polyline points="481.40,429.59 481.40,439.79 489.60,439.79 489.60,430.59 487.60,430.59" fill="none" stroke="#000" stroke-width="1" stroke-linejoin="miter"/>
</g>
<rect x="494.40" y="425.79" width="174.60" height="14.40" fill="#000"/>
<rect x="498.70" y="426.79" width="1.40" height="4.00" fill="#fff"/>
<rect x="497.10" y="432.79" width="3.80" height="6.00" fill="#fff"/>
<rect x="504.42" y="426.79" width="1.40" height="4.00" fill="#fff"/>
<rect x="502.82" y="432.79" width="3.80" height="6.00" fill="#fff"/>
<rect x="510.14" y="426.79" width="1.40" height="4.00" fill="#fff"/>
<rect x="508.54" y="432.79" width="3.80" height="6.00" fill="#fff"/>
<rect x="515.86" y="426.79" width="1.40" height="4.00" fill="#fff"/>
<rect x="514.26" y="432.79" width="3.80" height="6.00" fill="#fff"/>
<rect x="521.58" y="426.79" width="1.40" height="4.00" fill="#fff"/>
<rect x="519.98" y="432.79" width="3.80" height="6.00" fill="#fff"/>
<rect x="527.30" y="426.79" width="1.40" height="4.00" fill="#fff"/>
<rect x="525.70" y="432.79" width="3.80" height="6.00" fill="#fff"/>
<rect x="533.02" y="426.79" width="1.40" height="4.00" fill="#fff"/>
<rect x="531.42" y="432.79" width="3.80" height="6.00" fill="#fff"/>
<rect x="538.74" y="426.79" width="1.40" height="4.00" fill="#fff"/>
<rect x="537.14" y="432.79" width="3.80" height="6.00" fill="#fff"/>
<rect x="544.46" y="426.79" width="1.40" height="4.00" fill="#fff"/>
<rect x="542.86" y="432.79" width="3.80" height="6.00" fill="#fff"/>
<rect x="550.18" y="426.79" width="1.40" height="4.00" fill="#fff"/>
<rect x="548.58" y="432.79" width="3.80" height="6.00" fill="#fff"/>
<rect x="555.90" y="426.79" width="1.40" height="4.00" fill="#fff"/>
<rect x="554.30" y="432.79" width="3.80" height="6.00" fill="#fff"/>
<rect x="561.62" y="426.79" width="1.40" height="4.00" fill="#fff"/>
<rect x="560.02" y="432.79" width="3.80" height="6.00" fill="#fff"/>
<rect x="567.34" y="426.79" width="1.40" height="4.00" fill="#fff"/>
<rect x="565.74" y="432.79" width="3.80" height="6.00" fill="#fff"/>
<rect x="573.06" y="426.79" width="1.40" height="4.00" fill="#fff"/>
<rect x="571.46" y="432.79" width="3.80" height="6.00" fill="#fff"/>
<rect x="578.78" y="426.79" width="1.40" height="4.00" fill="#fff"/>
<rect x="577.18" y="432.79" width="3.80" height="6.00" fill="#fff"/>
<rect x="584.50" y="426.79" width="1.40" height="4.00" fill="#fff"/>
<rect x="582.90" y="432.79" width="3.80" height="6.00" fill="#fff"/>
<rect x="590.22" y="426.79" width="1.40" height="4.00" fill="#fff"/>
<rect x="588.62" y="432.79" width="3.80" height="6.00" fill="#fff"/>
<rect x="595.94" y="426.79" width="1.40" height="4.00" fill="#fff"/>
<rect x="594.34" y="432.79" width="3.80" height="6.00" fill="#fff"/>
<rect x="601.66" y="426.79" width="1.40" height="4.00" fill="#fff"/>
<rect x="600.06" y="432.79" width="3.80" height="6.00" fill="#fff"/>
<rect x="607.38" y="426.79" width="1.40" height="4.00" fill="#fff"/>
<rect x="605.78" y="432.79" width="3.80" height="6.00" fill="#fff"/>
<rect x="613.10" y="426.79" width="1.40" height="4.00" fill="#fff"/>
<rect x="611.50" y="432.79" width="3.80" height="6.00" fill="#fff"/>
<rect x="618.82" y="426.79" width="1.40" height="4.00" fill="#fff"/>
<rect x="617.22" y="432.79" width="3.80" height="6.00" fill="#fff"/>
<rect x="624.54" y="426.79" width="1.40" height="4.00" fill="#fff"/>
<rect x="622.94" y="432.79" width="3.80" height="6.00" fill="#fff"/>
<rect x="630.26" y="426.79" width="1.40" height="4.00" fill="#fff"/>
<rect x="628.66" y="432.79" width="3.80" height="6.00" fill="#fff"/>
<rect x="635.98" y="426.79" width="1.40" height="4.00" fill="#fff"/>
<rect x="634.38" y="432.79" width="3.80" height="6.00" fill="#fff"/>
<rect x="641.70" y="426.79" width="1.40" height="4.00" fill="#fff"/>
<rect x="640.10" y="432.79" width="3.80" height="6.00" fill="#fff"/>
<rect x="647.42" y="426.79" width="1.40" height="4.00" fill="#fff"/>
<rect x="645.82" y="432.79" width="3.80" height="6.00" fill="#fff"/>
<rect x="653.14" y="426.79" width="1.40" height="4.00" fill="#fff"/>
<rect x="651.54" y="432.79" width="3.80" height="6.00" fill="#fff"/>
<rect x="658.86" y="426.79" width="1.40" height="4.00" fill="#fff"/>
<rect x="657.26" y="432.79" width="3.80" height="6.00" fill="#fff"/>
<rect x="664.58" y="426.79" width="1.40" height="4.00" fill="#fff"/>
<rect x="662.98" y="432.79" width="3.80" height="6.00" fill="#fff"/>
<rect x="469.00" y="443.72" width="227.00" height="18.60" fill="#000"/>
<rect x="470.00" y="444.72" width="225.00" height="16.80" fill="#fff"/>
<rect x="476.00" y="444.72" width="4.40" height="15.50" fill="#000"/>
<rect x="470.00" y="450.72" width="6.00" height="1.00" fill="#000"/>
<rect x="470.00" y="457.72" width="6.00" height="1.00" fill="#000"/>
<rect x="683.50" y="444.72" width="3.30" height="15.50" fill="#000"/>
<rect x="686.80" y="450.72" width="8.20" height="1.00" fill="#000"/>
<rect x="686.80" y="457.72" width="8.20" height="1.20" fill="#000"/>
<g fill="none" stroke="#000" stroke-width="1">
<rect x="674.00" y="450.22" width="9.00" height="9.50"/>
<polyline points="676.80,450.22 676.80,445.72 683.50,445.72" fill="none" stroke="#000" stroke-width="1" stroke-linejoin="miter"/>
<polyline points="676.80,452.22 680.00,452.22 680.00,449.22 683.50,449.22" fill="none" stroke="#000" stroke-width="1" stroke-linejoin="miter"/>
<polyline points="480.00,449.52 483.60,449.52 483.60,452.32 487.60,452.32 487.60,444.72" fill="none" stroke="#000" stroke-width="1" stroke-linejoin="miter"/>
<polyline points="481.40,449.52 481.40,459.72 489.60,459.72 489.60,450.52 487.60,450.52" fill="none" stroke="#000" stroke-width="1" stroke-linejoin="miter"/>
</g>
<rect x="494.40" y="445.72" width="174.60" height="14.40" fill="#000"/>
<rect x="498.70" y="446.72" width="1.40" height="4.00" fill="#fff"/>
<rect x="497.10" y="452.72" width="3.80" height="6.00" fill="#fff"/>
<rect x="504.42" y="446.72" width="1.40" height="4.00" fill="#fff"/>
<rect x="502.82" y="452.72" width="3.80" height="6.00" fill="#fff"/>
<rect x="510.14" y="446.72" width="1.40" height="4.00" fill="#fff"/>
<rect x="508.54" y="452.72" width="3.80" height="6.00" fill="#fff"/>
<rect x="515.86" y="446.72" width="1.40" height="4.00" fill="#fff"/>
<rect x="514.26" y="452.72" width="3.80" height="6.00" fill="#fff"/>
<rect x="521.58" y="446.72" width="1.40" height="4.00" fill="#fff"/>
<rect x="519.98" y="452.72" width="3.80" height="6.00" fill="#fff"/>
<rect x="527.30" y="446.72" width="1.40" height="4.00" fill="#fff"/>
<rect x="525.70" y="452.72" width="3.80" height="6.00" fill="#fff"/>
<rect x="533.02" y="446.72" width="1.40" height="4.00" fill="#fff"/>
<rect x="531.42" y="452.72" width="3.80" height="6.00" fill="#fff"/>
<rect x="538.74" y="446.72" width="1.40" height="4.00" fill="#fff"/>
<rect x="537.14" y="452.72" width="3.80" height="6.00" fill="#fff"/>
<rect x="544.46" y="446.72" width="1.40" height="4.00" fill="#fff"/>
<rect x="542.86" y="452.72" width="3.80" height="6.00" fill="#fff"/>
<rect x="550.18" y="446.72" width="1.40" height="4.00" fill="#fff"/>
<rect x="548.58" y="452.72" width="3.80" height="6.00" fill="#fff"/>
<rect x="555.90" y="446.72" width="1.40" height="4.00" fill="#fff"/>
<rect x="554.30" y="452.72" width="3.80" height="6.00" fill="#fff"/>
<rect x="561.62" y="446.72" width="1.40" height="4.00" fill="#fff"/>
<rect x="560.02" y="452.72" width="3.80" height="6.00" fill="#fff"/>
<rect x="567.34" y="446.72" width="1.40" height="4.00" fill="#fff"/>
<rect x="565.74" y="452.72" width="3.80" height="6.00" fill="#fff"/>
<rect x="573.06" y="446.72" width="1.40" height="4.00" fill="#fff"/>
<rect x="571.46" y="452.72" width="3.80" height="6.00" fill="#fff"/>
<rect x="578.78" y="446.72" width="1.40" height="4.00" fill="#fff"/>
<rect x="577.18" y="452.72" width="3.80" height="6.00" fill="#fff"/>
<rect x="584.50" y="446.72" width="1.40" height="4.00" fill="#fff"/>
<rect x="582.90" y="452.72" width="3.80" height="6.00" fill="#fff"/>
<rect x="590.22" y="446.72" width="1.40" height="4.00" fill="#fff"/>
<rect x="588.62" y="452.72" width="3.80" height="6.00" fill="#fff"/>
<rect x="595.94" y="446.72" width="1.40" height="4.00" fill="#fff"/>
<rect x="594.34" y="452.72" width="3.80" height="6.00" fill="#fff"/>
<rect x="601.66" y="446.72" width="1.40" height="4.00" fill="#fff"/>
<rect x="600.06" y="452.72" width="3.80" height="6.00" fill="#fff"/>
<rect x="607.38" y="446.72" width="1.40" height="4.00" fill="#fff"/>
<rect x="605.78" y="452.72" width="3.80" height="6.00" fill="#fff"/>
<rect x="613.10" y="446.72" width="1.40" height="4.00" fill="#fff"/>
<rect x="611.50" y="452.72" width="3.80" height="6.00" fill="#fff"/>
<rect x="618.82" y="446.72" width="1.40" height="4.00" fill="#fff"/>
<rect x="617.22" y="452.72" width="3.80" height="6.00" fill="#fff"/>
<rect x="624.54" y="446.72" width="1.40" height="4.00" fill="#fff"/>
<rect x="622.94" y="452.72" width="3.80" height="6.00" fill="#fff"/>
<rect x="630.26" y="446.72" width="1.40" height="4.00" fill="#fff"/>
<rect x="628.66" y="452.72" width="3.80" height="6.00" fill="#fff"/>
<rect x="635.98" y="446.72" width="1.40" height="4.00" fill="#fff"/>
<rect x="634.38" y="452.72" width="3.80" height="6.00" fill="#fff"/>
<rect x="641.70" y="446.72" width="1.40" height="4.00" fill="#fff"/>
<rect x="640.10" y="452.72" width="3.80" height="6.00" fill="#fff"/>
<rect x="647.42" y="446.72" width="1.40" height="4.00" fill="#fff"/>
<rect x="645.82" y="452.72" width="3.80" height="6.00" fill="#fff"/>
<rect x="653.14" y="446.72" width="1.40" height="4.00" fill="#fff"/>
<rect x="651.54" y="452.72" width="3.80" height="6.00" fill="#fff"/>
<rect x="658.86" y="446.72" width="1.40" height="4.00" fill="#fff"/>
<rect x="657.26" y="452.72" width="3.80" height="6.00" fill="#fff"/>
<rect x="664.58" y="446.72" width="1.40" height="4.00" fill="#fff"/>
<rect x="662.98" y="452.72" width="3.80" height="6.00" fill="#fff"/>
<rect x="469.00" y="463.65" width="227.00" height="18.60" fill="#000"/>
<rect x="470.00" y="464.65" width="225.00" height="16.80" fill="#fff"/>
<rect x="476.00" y="464.65" width="4.40" height="15.50" fill="#000"/>
<rect x="470.00" y="470.65" width="6.00" height="1.00" fill="#000"/>
<rect x="470.00" y="477.65" width="6.00" height="1.00" fill="#000"/>
<rect x="683.50" y="464.65" width="3.30" height="15.50" fill="#000"/>
<rect x="686.80" y="470.65" width="8.20" height="1.00" fill="#000"/>
<rect x="686.80" y="477.65" width="8.20" height="1.20" fill="#000"/>
<g fill="none" stroke="#000" stroke-width="1">
<rect x="674.00" y="470.15" width="9.00" height="9.50"/>
<polyline points="676.80,470.15 676.80,465.65 683.50,465.65" fill="none" stroke="#000" stroke-width="1" stroke-linejoin="miter"/>
<polyline points="676.80,472.15 680.00,472.15 680.00,469.15 683.50,469.15" fill="none" stroke="#000" stroke-width="1" stroke-linejoin="miter"/>
<polyline points="480.00,469.45 483.60,469.45 483.60,472.25 487.60,472.25 487.60,464.65" fill="none" stroke="#000" stroke-width="1" stroke-linejoin="miter"/>
<polyline points="481.40,469.45 481.40,479.65 489.60,479.65 489.60,470.45 487.60,470.45" fill="none" stroke="#000" stroke-width="1" stroke-linejoin="miter"/>
</g>
<rect x="494.40" y="465.65" width="174.60" height="14.40" fill="#000"/>
<rect x="498.70" y="466.65" width="1.40" height="4.00" fill="#fff"/>
<rect x="497.10" y="472.65" width="3.80" height="6.00" fill="#fff"/>
<rect x="504.42" y="466.65" width="1.40" height="4.00" fill="#fff"/>
<rect x="502.82" y="472.65" width="3.80" height="6.00" fill="#fff"/>
<rect x="510.14" y="466.65" width="1.40" height="4.00" fill="#fff"/>
<rect x="508.54" y="472.65" width="3.80" height="6.00" fill="#fff"/>
<rect x="515.86" y="466.65" width="1.40" height="4.00" fill="#fff"/>
<rect x="514.26" y="472.65" width="3.80" height="6.00" fill="#fff"/>
<rect x="521.58" y="466.65" width="1.40" height="4.00" fill="#fff"/>
<rect x="519.98" y="472.65" width="3.80" height="6.00" fill="#fff"/>
<rect x="527.30" y="466.65" width="1.40" height="4.00" fill="#fff"/>
<rect x="525.70" y="472.65" width="3.80" height="6.00" fill="#fff"/>
<rect x="533.02" y="466.65" width="1.40" height="4.00" fill="#fff"/>
<rect x="531.42" y="472.65" width="3.80" height="6.00" fill="#fff"/>
<rect x="538.74" y="466.65" width="1.40" height="4.00" fill="#fff"/>
<rect x="537.14" y="472.65" width="3.80" height="6.00" fill="#fff"/>
<rect x="544.46" y="466.65" width="1.40" height="4.00" fill="#fff"/>
<rect x="542.86" y="472.65" width="3.80" height="6.00" fill="#fff"/>
<rect x="550.18" y="466.65" width="1.40" height="4.00" fill="#fff"/>
<rect x="548.58" y="472.65" width="3.80" height="6.00" fill="#fff"/>
<rect x="555.90" y="466.65" width="1.40" height="4.00" fill="#fff"/>
<rect x="554.30" y="472.65" width="3.80" height="6.00" fill="#fff"/>
<rect x="561.62" y="466.65" width="1.40" height="4.00" fill="#fff"/>
<rect x="560.02" y="472.65" width="3.80" height="6.00" fill="#fff"/>
<rect x="567.34" y="466.65" width="1.40" height="4.00" fill="#fff"/>
<rect x="565.74" y="472.65" width="3.80" height="6.00" fill="#fff"/>
<rect x="573.06" y="466.65" width="1.40" height="4.00" fill="#fff"/>
<rect x="571.46" y="472.65" width="3.80" height="6.00" fill="#fff"/>
<rect x="578.78" y="466.65" width="1.40" height="4.00" fill="#fff"/>
<rect x="577.18" y="472.65" width="3.80" height="6.00" fill="#fff"/>
<rect x="584.50" y="466.65" width="1.40" height="4.00" fill="#fff"/>
<rect x="582.90" y="472.65" width="3.80" height="6.00" fill="#fff"/>
<rect x="590.22" y="466.65" width="1.40" height="4.00" fill="#fff"/>
<rect x="588.62" y="472.65" width="3.80" height="6.00" fill="#fff"/>
<rect x="595.94" y="466.65" width="1.40" height="4.00" fill="#fff"/>
<rect x="594.34" y="472.65" width="3.80" height="6.00" fill="#fff"/>
<rect x="601.66" y="466.65" width="1.40" height="4.00" fill="#fff"/>
<rect x="600.06" y="472.65" width="3.80" height="6.00" fill="#fff"/>
<rect x="607.38" y="466.65" width="1.40" height="4.00" fill="#fff"/>
<rect x="605.78" y="472.65" width="3.80" height="6.00" fill="#fff"/>
<rect x="613.10" y="466.65" width="1.40" height="4.00" fill="#fff"/>
<rect x="611.50" y="472.65" width="3.80" height="6.00" fill="#fff"/>
<rect x="618.82" y="466.65" width="1.40" height="4.00" fill="#fff"/>
<rect x="617.22" y="472.65" width="3.80" height="6.00" fill="#fff"/>
<rect x="624.54" y="466.65" width="1.40" height="4.00" fill="#fff"/>
<rect x="622.94" y="472.65" width="3.80" height="6.00" fill="#fff"/>
<rect x="630.26" y="466.65" width="1.40" height="4.00" fill="#fff"/>
<rect x="628.66" y="472.65" width="3.80" height="6.00" fill="#fff"/>
<rect x="635.98" y="466.65" width="1.40" height="4.00" fill="#fff"/>
<rect x="634.38" y="472.65" width="3.80" height="6.00" fill="#fff"/>
<rect x="641.70" y="466.65" width="1.40" height="4.00" fill="#fff"/>
<rect x="640.10" y="472.65" width="3.80" height="6.00" fill="#fff"/>
<rect x="647.42" y="466.65" width="1.40" height="4.00" fill="#fff"/>
<rect x="645.82" y="472.65" width="3.80" height="6.00" fill="#fff"/>
<rect x="653.14" y="466.65" width="1.40" height="4.00" fill="#fff"/>
<rect x="651.54" y="472.65" width="3.80" height="6.00" fill="#fff"/>
<rect x="658.86" y="466.65" width="1.40" height="4.00" fill="#fff"/>
<rect x="657.26" y="472.65" width="3.80" height="6.00" fill="#fff"/>
<rect x="664.58" y="466.65" width="1.40" height="4.00" fill="#fff"/>
<rect x="662.98" y="472.65" width="3.80" height="6.00" fill="#fff"/>
<rect x="469.00" y="483.58" width="227.00" height="18.60" fill="#000"/>
<rect x="470.00" y="484.58" width="225.00" height="16.80" fill="#fff"/>
<rect x="476.00" y="484.58" width="4.40" height="15.50" fill="#000"/>
<rect x="470.00" y="490.58" width="6.00" height="1.00" fill="#000"/>
<rect x="470.00" y="497.58" width="6.00" height="1.00" fill="#000"/>
<rect x="683.50" y="484.58" width="3.30" height="15.50" fill="#000"/>
<rect x="686.80" y="490.58" width="8.20" height="1.00" fill="#000"/>
<rect x="686.80" y="497.58" width="8.20" height="1.20" fill="#000"/>
<g fill="none" stroke="#000" stroke-width="1">
<rect x="674.00" y="490.08" width="9.00" height="9.50"/>
<polyline points="676.80,490.08 676.80,485.58 683.50,485.58" fill="none" stroke="#000" stroke-width="1" stroke-linejoin="miter"/>
<polyline points="676.80,492.08 680.00,492.08 680.00,489.08 683.50,489.08" fill="none" stroke="#000" stroke-width="1" stroke-linejoin="miter"/>
<polyline points="480.00,489.38 483.60,489.38 483.60,492.18 487.60,492.18 487.60,484.58" fill="none" stroke="#000" stroke-width="1" stroke-linejoin="miter"/>
<polyline points="481.40,489.38 481.40,499.58 489.60,499.58 489.60,490.38 487.60,490.38" fill="none" stroke="#000" stroke-width="1" stroke-linejoin="miter"/>
</g>
<rect x="494.40" y="485.58" width="174.60" height="14.40" fill="#000"/>
<rect x="498.70" y="486.58" width="1.40" height="4.00" fill="#fff"/>
<rect x="497.10" y="492.58" width="3.80" height="6.00" fill="#fff"/>
<rect x="504.42" y="486.58" width="1.40" height="4.00" fill="#fff"/>
<rect x="502.82" y="492.58" width="3.80" height="6.00" fill="#fff"/>
<rect x="510.14" y="486.58" width="1.40" height="4.00" fill="#fff"/>
<rect x="508.54" y="492.58" width="3.80" height="6.00" fill="#fff"/>
<rect x="515.86" y="486.58" width="1.40" height="4.00" fill="#fff"/>
<rect x="514.26" y="492.58" width="3.80" height="6.00" fill="#fff"/>
<rect x="521.58" y="486.58" width="1.40" height="4.00" fill="#fff"/>
<rect x="519.98" y="492.58" width="3.80" height="6.00" fill="#fff"/>
<rect x="527.30" y="486.58" width="1.40" height="4.00" fill="#fff"/>
<rect x="525.70" y="492.58" width="3.80" height="6.00" fill="#fff"/>
<rect x="533.02" y="486.58" width="1.40" height="4.00" fill="#fff"/>
<rect x="531.42" y="492.58" width="3.80" height="6.00" fill="#fff"/>
<rect x="538.74" y="486.58" width="1.40" height="4.00" fill="#fff"/>
<rect x="537.14" y="492.58" width="3.80" height="6.00" fill="#fff"/>
<rect x="544.46" y="486.58" width="1.40" height="4.00" fill="#fff"/>
<rect x="542.86" y="492.58" width="3.80" height="6.00" fill="#fff"/>
<rect x="550.18" y="486.58" width="1.40" height="4.00" fill="#fff"/>
<rect x="548.58" y="492.58" width="3.80" height="6.00" fill="#fff"/>
<rect x="555.90" y="486.58" width="1.40" height="4.00" fill="#fff"/>
<rect x="554.30" y="492.58" width="3.80" height="6.00" fill="#fff"/>
<rect x="561.62" y="486.58" width="1.40" height="4.00" fill="#fff"/>
<rect x="560.02" y="492.58" width="3.80" height="6.00" fill="#fff"/>
<rect x="567.34" y="486.58" width="1.40" height="4.00" fill="#fff"/>
<rect x="565.74" y="492.58" width="3.80" height="6.00" fill="#fff"/>
<rect x="573.06" y="486.58" width="1.40" height="4.00" fill="#fff"/>
<rect x="571.46" y="492.58" width="3.80" height="6.00" fill="#fff"/>
<rect x="578.78" y="486.58" width="1.40" height="4.00" fill="#fff"/>
<rect x="577.18" y="492.58" width="3.80" height="6.00" fill="#fff"/>
<rect x="584.50" y="486.58" width="1.40" height="4.00" fill="#fff"/>
<rect x="582.90" y="492.58" width="3.80" height="6.00" fill="#fff"/>
<rect x="590.22" y="486.58" width="1.40" height="4.00" fill="#fff"/>
<rect x="588.62" y="492.58" width="3.80" height="6.00" fill="#fff"/>
<rect x="595.94" y="486.58" width="1.40" height="4.00" fill="#fff"/>
<rect x="594.34" y="492.58" width="3.80" height="6.00" fill="#fff"/>
<rect x="601.66" y="486.58" width="1.40" height="4.00" fill="#fff"/>
<rect x="600.06" y="492.58" width="3.80" height="6.00" fill="#fff"/>
<rect x="607.38" y="486.58" width="1.40" height="4.00" fill="#fff"/>
<rect x="605.78" y="492.58" width="3.80" height="6.00" fill="#fff"/>
<rect x="613.10" y="486.58" width="1.40" height="4.00" fill="#fff"/>
<rect x="611.50" y="492.58" width="3.80" height="6.00" fill="#fff"/>
<rect x="618.82" y="486.58" width="1.40" height="4.00" fill="#fff"/>
<rect x="617.22" y="492.58" width="3.80" height="6.00" fill="#fff"/>
<rect x="624.54" y="486.58" width="1.40" height="4.00" fill="#fff"/>
<rect x="622.94" y="492.58" width="3.80" height="6.00" fill="#fff"/>
<rect x="630.26" y="486.58" width="1.40" height="4.00" fill="#fff"/>
<rect x="628.66" y="492.58" width="3.80" height="6.00" fill="#fff"/>
<rect x="635.98" y="486.58" width="1.40" height="4.00" fill="#fff"/>
<rect x="634.38" y="492.58" width="3.80" height="6.00" fill="#fff"/>
<rect x="641.70" y="486.58" width="1.40" height="4.00" fill="#fff"/>
<rect x="640.10" y="492.58" width="3.80" height="6.00" fill="#fff"/>
<rect x="647.42" y="486.58" width="1.40" height="4.00" fill="#fff"/>
<rect x="645.82" y="492.58" width="3.80" height="6.00" fill="#fff"/>
<rect x="653.14" y="486.58" width="1.40" height="4.00" fill="#fff"/>
<rect x="651.54" y="492.58" width="3.80" height="6.00" fill="#fff"/>
<rect x="658.86" y="486.58" width="1.40" height="4.00" fill="#fff"/>
<rect x="657.26" y="492.58" width="3.80" height="6.00" fill="#fff"/>
<rect x="664.58" y="486.58" width="1.40" height="4.00" fill="#fff"/>
<rect x="662.98" y="492.58" width="3.80" height="6.00" fill="#fff"/>
<rect x="469.00" y="503.51" width="227.00" height="18.60" fill="#000"/>
<rect x="470.00" y="504.51" width="225.00" height="16.80" fill="#fff"/>
<rect x="476.00" y="504.51" width="4.40" height="15.50" fill="#000"/>
<rect x="470.00" y="510.51" width="6.00" height="1.00" fill="#000"/>
<rect x="470.00" y="517.51" width="6.00" height="1.00" fill="#000"/>
<rect x="683.50" y="504.51" width="3.30" height="15.50" fill="#000"/>
<rect x="686.80" y="510.51" width="8.20" height="1.00" fill="#000"/>
<rect x="686.80" y="517.51" width="8.20" height="1.20" fill="#000"/>
<g fill="none" stroke="#000" stroke-width="1">
<rect x="674.00" y="510.01" width="9.00" height="9.50"/>
<polyline points="676.80,510.01 676.80,505.51 683.50,505.51" fill="none" stroke="#000" stroke-width="1" stroke-linejoin="miter"/>
<polyline points="676.80,512.01 680.00,512.01 680.00,509.01 683.50,509.01" fill="none" stroke="#000" stroke-width="1" stroke-linejoin="miter"/>
<polyline points="480.00,509.31 483.60,509.31 483.60,512.11 487.60,512.11 487.60,504.51" fill="none" stroke="#000" stroke-width="1" stroke-linejoin="miter"/>
<polyline points="481.40,509.31 481.40,519.51 489.60,519.51 489.60,510.31 487.60,510.31" fill="none" stroke="#000" stroke-width="1" stroke-linejoin="miter"/>
</g>
<rect x="494.40" y="505.51" width="174.60" height="14.40" fill="#000"/>
<rect x="498.70" y="506.51" width="1.40" height="4.00" fill="#fff"/>
<rect x="497.10" y="512.51" width="3.80" height="6.00" fill="#fff"/>
<rect x="504.42" y="506.51" width="1.40" height="4.00" fill="#fff"/>
<rect x="502.82" y="512.51" width="3.80" height="6.00" fill="#fff"/>
<rect x="510.14" y="506.51" width="1.40" height="4.00" fill="#fff"/>
<rect x="508.54" y="512.51" width="3.80" height="6.00" fill="#fff"/>
<rect x="515.86" y="506.51" width="1.40" height="4.00" fill="#fff"/>
<rect x="514.26" y="512.51" width="3.80" height="6.00" fill="#fff"/>
<rect x="521.58" y="506.51" width="1.40" height="4.00" fill="#fff"/>
<rect x="519.98" y="512.51" width="3.80" height="6.00" fill="#fff"/>
<rect x="527.30" y="506.51" width="1.40" height="4.00" fill="#fff"/>
<rect x="525.70" y="512.51" width="3.80" height="6.00" fill="#fff"/>
<rect x="533.02" y="506.51" width="1.40" height="4.00" fill="#fff"/>
<rect x="531.42" y="512.51" width="3.80" height="6.00" fill="#fff"/>
<rect x="538.74" y="506.51" width="1.40" height="4.00" fill="#fff"/>
<rect x="537.14" y="512.51" width="3.80" height="6.00" fill="#fff"/>
<rect x="544.46" y="506.51" width="1.40" height="4.00" fill="#fff"/>
<rect x="542.86" y="512.51" width="3.80" height="6.00" fill="#fff"/>
<rect x="550.18" y="506.51" width="1.40" height="4.00" fill="#fff"/>
<rect x="548.58" y="512.51" width="3.80" height="6.00" fill="#fff"/>
<rect x="555.90" y="506.51" width="1.40" height="4.00" fill="#fff"/>
<rect x="554.30" y="512.51" width="3.80" height="6.00" fill="#fff"/>
<rect x="561.62" y="506.51" width="1.40" height="4.00" fill="#fff"/>
<rect x="560.02" y="512.51" width="3.80" height="6.00" fill="#fff"/>
<rect x="567.34" y="506.51" width="1.40" height="4.00" fill="#fff"/>
<rect x="565.74" y="512.51" width="3.80" height="6.00" fill="#fff"/>
<rect x="573.06" y="506.51" width="1.40" height="4.00" fill="#fff"/>
<rect x="571.46" y="512.51" width="3.80" height="6.00" fill="#fff"/>
<rect x="578.78" y="506.51" width="1.40" height="4.00" fill="#fff"/>
<rect x="577.18" y="512.51" width="3.80" height="6.00" fill="#fff"/>
<rect x="584.50" y="506.51" width="1.40" height="4.00" fill="#fff"/>
<rect x="582.90" y="512.51" width="3.80" height="6.00" fill="#fff"/>
<rect x="590.22" y="506.51" width="1.40" height="4.00" fill="#fff"/>
<rect x="588.62" y="512.51" width="3.80" height="6.00" fill="#fff"/>
<rect x="595.94" y="506.51" width="1.40" height="4.00" fill="#fff"/>
<rect x="594.34" y="512.51" width="3.80" height="6.00" fill="#fff"/>
<rect x="601.66" y="506.51" width="1.40" height="4.00" fill="#fff"/>
<rect x="600.06" y="512.51" width="3.80" height="6.00" fill="#fff"/>
<rect x="607.38" y="506.51" width="1.40" height="4.00" fill="#fff"/>
<rect x="605.78" y="512.51" width="3.80" height="6.00" fill="#fff"/>
<rect x="613.10" y="506.51" width="1.40" height="4.00" fill="#fff"/>
<rect x="611.50" y="512.51" width="3.80" height="6.00" fill="#fff"/>
<rect x="618.82" y="506.51" width="1.40" height="4.00" fill="#fff"/>
<rect x="617.22" y="512.51" width="3.80" height="6.00" fill="#fff"/>
<rect x="624.54" y="506.51" width="1.40" height="4.00" fill="#fff"/>
<rect x="622.94" y="512.51" width="3.80" height="6.00" fill="#fff"/>
<rect x="630.26" y="506.51" width="1.40" height="4.00" fill="#fff"/>
<rect x="628.66" y="512.51" width="3.80" height="6.00" fill="#fff"/>
<rect x="635.98" y="506.51" width="1.40" height="4.00" fill="#fff"/>
<rect x="634.38" y="512.51" width="3.80" height="6.00" fill="#fff"/>
<rect x="641.70" y="506.51" width="1.40" height="4.00" fill="#fff"/>
<rect x="640.10" y="512.51" width="3.80" height="6.00" fill="#fff"/>
<rect x="647.42" y="506.51" width="1.40" height="4.00" fill="#fff"/>
<rect x="645.82" y="512.51" width="3.80" height="6.00" fill="#fff"/>
<rect x="653.14" y="506.51" width="1.40" height="4.00" fill="#fff"/>
<rect x="651.54" y="512.51" width="3.80" height="6.00" fill="#fff"/>
<rect x="658.86" y="506.51" width="1.40" height="4.00" fill="#fff"/>
<rect x="657.26" y="512.51" width="3.80" height="6.00" fill="#fff"/>
<rect x="664.58" y="506.51" width="1.40" height="4.00" fill="#fff"/>
<rect x="662.98" y="512.51" width="3.80" height="6.00" fill="#fff"/>
<polygon points="554.20,393.90 610.00,393.90 612.00,395.90 612.00,409.30 610.00,411.30 554.20,411.30 552.20,409.30 552.20,395.90" fill="#000"/>
<rect x="554.20" y="395.90" width="55.20" height="12.80" fill="#fff"/>
<g fill="none" stroke="#000" stroke-width="1.0" stroke-linejoin="miter" stroke-linecap="square" shape-rendering="auto"><polyline points="559.50,396.50 562.86,396.50 563.70,397.50 563.70,399.50 562.86,400.50 559.50,400.50"/><polyline points="562.86,400.50 563.70,401.50 563.70,404.50 562.86,405.50 559.50,405.50 559.50,396.50"/><polyline points="567.50,405.50 570.40,396.50 573.30,405.50"/><polyline points="568.47,402.50 572.33,402.50"/><polyline points="576.50,405.50 576.50,396.50 581.10,405.50 581.10,396.50"/><polyline points="585.50,396.50 585.50,405.50"/><polyline points="590.70,396.50 585.50,402.50"/><polyline points="587.58,400.50 590.70,405.50"/><polyline points="602.75,396.50 605.00,399.00 605.00,403.00 602.75,405.50 600.50,403.00 600.50,399.00 602.75,396.50"/></g>
<polygon points="554.20,474.80 610.00,474.80 612.00,476.80 612.00,489.80 610.00,491.80 554.20,491.80 552.20,489.80 552.20,476.80" fill="#000"/>
<rect x="554.20" y="476.80" width="55.20" height="12.40" fill="#fff"/>
<g fill="none" stroke="#000" stroke-width="1.0" stroke-linejoin="miter" stroke-linecap="square" shape-rendering="auto"><polyline points="559.50,477.50 562.86,477.50 563.70,478.50 563.70,480.50 562.86,481.50 559.50,481.50"/><polyline points="562.86,481.50 563.70,482.50 563.70,485.50 562.86,486.50 559.50,486.50 559.50,477.50"/><polyline points="567.50,486.50 570.40,477.50 573.30,486.50"/><polyline points="568.47,483.50 572.33,483.50"/><polyline points="577.50,486.50 577.50,477.50 582.10,486.50 582.10,477.50"/><polyline points="586.50,477.50 586.50,486.50"/><polyline points="591.70,477.50 586.50,483.50"/><polyline points="588.58,481.50 591.70,486.50"/><polyline points="601.50,479.50 602.40,479.50 603.30,478.50"/><polyline points="603.30,477.50 603.30,486.50"/></g>
<rect x="704.00" y="375.00" width="112.00" height="25.00" fill="#000"/>
<rect x="705.00" y="376.00" width="110.00" height="23.00" fill="#fff"/>
<rect x="707.90" y="377.80" width="3.50" height="1.40" fill="#000"/>
<rect x="705.60" y="379.20" width="7.60" height="2.20" fill="#000"/>
<rect x="707.40" y="381.40" width="4.50" height="2.20" fill="#000"/>
<rect x="705.40" y="384.80" width="7.40" height="3.20" fill="#000"/>
<rect x="709.10" y="389.20" width="7.20" height="6.60" fill="#000"/>
<rect x="710.10" y="390.20" width="5.20" height="4.60" fill="#fff"/>
<rect x="717.09" y="377.80" width="3.50" height="1.40" fill="#000"/>
<rect x="714.79" y="379.20" width="7.60" height="2.20" fill="#000"/>
<rect x="716.59" y="381.40" width="4.50" height="2.20" fill="#000"/>
<rect x="714.46" y="384.80" width="7.40" height="3.20" fill="#000"/>
<rect x="717.70" y="389.20" width="7.20" height="6.60" fill="#000"/>
<rect x="718.70" y="390.20" width="5.20" height="4.60" fill="#fff"/>
<rect x="726.28" y="377.80" width="3.50" height="1.40" fill="#000"/>
<rect x="723.98" y="379.20" width="7.60" height="2.20" fill="#000"/>
<rect x="725.78" y="381.40" width="4.50" height="2.20" fill="#000"/>
<rect x="723.52" y="384.80" width="7.40" height="3.20" fill="#000"/>
<rect x="726.30" y="389.20" width="7.20" height="6.60" fill="#000"/>
<rect x="727.30" y="390.20" width="5.20" height="4.60" fill="#fff"/>
<rect x="735.47" y="377.80" width="3.50" height="1.40" fill="#000"/>
<rect x="733.17" y="379.20" width="7.60" height="2.20" fill="#000"/>
<rect x="734.97" y="381.40" width="4.50" height="2.20" fill="#000"/>
<rect x="732.58" y="384.80" width="7.40" height="3.20" fill="#000"/>
<rect x="734.90" y="389.20" width="7.20" height="6.60" fill="#000"/>
<rect x="735.90" y="390.20" width="5.20" height="4.60" fill="#fff"/>
<rect x="744.66" y="377.80" width="3.50" height="1.40" fill="#000"/>
<rect x="742.36" y="379.20" width="7.60" height="2.20" fill="#000"/>
<rect x="744.16" y="381.40" width="4.50" height="2.20" fill="#000"/>
<rect x="741.64" y="384.80" width="7.40" height="3.20" fill="#000"/>
<rect x="743.50" y="389.20" width="7.20" height="6.60" fill="#000"/>
<rect x="744.50" y="390.20" width="5.20" height="4.60" fill="#fff"/>
<rect x="753.85" y="377.80" width="3.50" height="1.40" fill="#000"/>
<rect x="751.55" y="379.20" width="7.60" height="2.20" fill="#000"/>
<rect x="753.35" y="381.40" width="4.50" height="2.20" fill="#000"/>
<rect x="750.70" y="384.80" width="7.40" height="3.20" fill="#000"/>
<rect x="752.10" y="389.20" width="7.20" height="6.60" fill="#000"/>
<rect x="753.10" y="390.20" width="5.20" height="4.60" fill="#fff"/>
<rect x="763.04" y="377.80" width="3.50" height="1.40" fill="#000"/>
<rect x="760.74" y="379.20" width="7.60" height="2.20" fill="#000"/>
<rect x="762.54" y="381.40" width="4.50" height="2.20" fill="#000"/>
<rect x="759.76" y="384.80" width="7.40" height="3.20" fill="#000"/>
<rect x="760.70" y="389.20" width="7.20" height="6.60" fill="#000"/>
<rect x="761.70" y="390.20" width="5.20" height="4.60" fill="#fff"/>
<rect x="772.23" y="377.80" width="3.50" height="1.40" fill="#000"/>
<rect x="769.93" y="379.20" width="7.60" height="2.20" fill="#000"/>
<rect x="771.73" y="381.40" width="4.50" height="2.20" fill="#000"/>
<rect x="768.82" y="384.80" width="7.40" height="3.20" fill="#000"/>
<rect x="769.30" y="389.20" width="7.20" height="6.60" fill="#000"/>
<rect x="770.30" y="390.20" width="5.20" height="4.60" fill="#fff"/>
<rect x="781.42" y="377.80" width="3.50" height="1.40" fill="#000"/>
<rect x="779.12" y="379.20" width="7.60" height="2.20" fill="#000"/>
<rect x="780.92" y="381.40" width="4.50" height="2.20" fill="#000"/>
<rect x="777.88" y="384.80" width="7.40" height="3.20" fill="#000"/>
<rect x="777.90" y="389.20" width="7.20" height="6.60" fill="#000"/>
<rect x="778.90" y="390.20" width="5.20" height="4.60" fill="#fff"/>
<rect x="790.61" y="377.80" width="3.50" height="1.40" fill="#000"/>
<rect x="788.31" y="379.20" width="7.60" height="2.20" fill="#000"/>
<rect x="790.11" y="381.40" width="4.50" height="2.20" fill="#000"/>
<rect x="786.94" y="384.80" width="7.40" height="3.20" fill="#000"/>
<rect x="786.50" y="389.20" width="7.20" height="6.60" fill="#000"/>
<rect x="787.50" y="390.20" width="5.20" height="4.60" fill="#fff"/>
<rect x="799.80" y="377.80" width="3.50" height="1.40" fill="#000"/>
<rect x="797.50" y="379.20" width="7.60" height="2.20" fill="#000"/>
<rect x="799.30" y="381.40" width="4.50" height="2.20" fill="#000"/>
<rect x="796.00" y="384.80" width="7.40" height="3.20" fill="#000"/>
<rect x="795.10" y="389.20" width="7.20" height="6.60" fill="#000"/>
<rect x="796.10" y="390.20" width="5.20" height="4.60" fill="#fff"/>
<rect x="808.99" y="377.80" width="3.50" height="1.40" fill="#000"/>
<rect x="806.69" y="379.20" width="7.60" height="2.20" fill="#000"/>
<rect x="808.49" y="381.40" width="4.50" height="2.20" fill="#000"/>
<rect x="805.06" y="384.80" width="7.40" height="3.20" fill="#000"/>
<rect x="803.70" y="389.20" width="7.20" height="6.60" fill="#000"/>
<rect x="804.70" y="390.20" width="5.20" height="4.60" fill="#fff"/>
<rect x="705.00" y="389.20" width="2.50" height="6.60" fill="#000"/>
<rect x="812.50" y="389.20" width="2.50" height="6.60" fill="#000"/>
<polygon points="817.30,437.80 820.50,437.80 820.50,488.00 817.30,488.00 817.30,485.60 814.00,485.60 814.00,481.50 790.20,481.50 790.20,474.70 786.80,474.70 786.80,450.80 790.20,450.80 790.20,443.50 814.00,443.50 814.00,440.20 817.30,440.20" fill="#000"/>
<rect x="788.00" y="460.00" width="2.00" height="4.70" fill="#fff"/>
<rect x="783.00" y="453.00" width="5.50" height="8.50" fill="#000"/>
<rect x="784.00" y="454.00" width="3.50" height="6.50" fill="#fff"/>
<rect x="783.00" y="464.40" width="5.50" height="8.60" fill="#000"/>
<rect x="784.00" y="465.40" width="3.50" height="6.60" fill="#fff"/>
</svg></body></html>
